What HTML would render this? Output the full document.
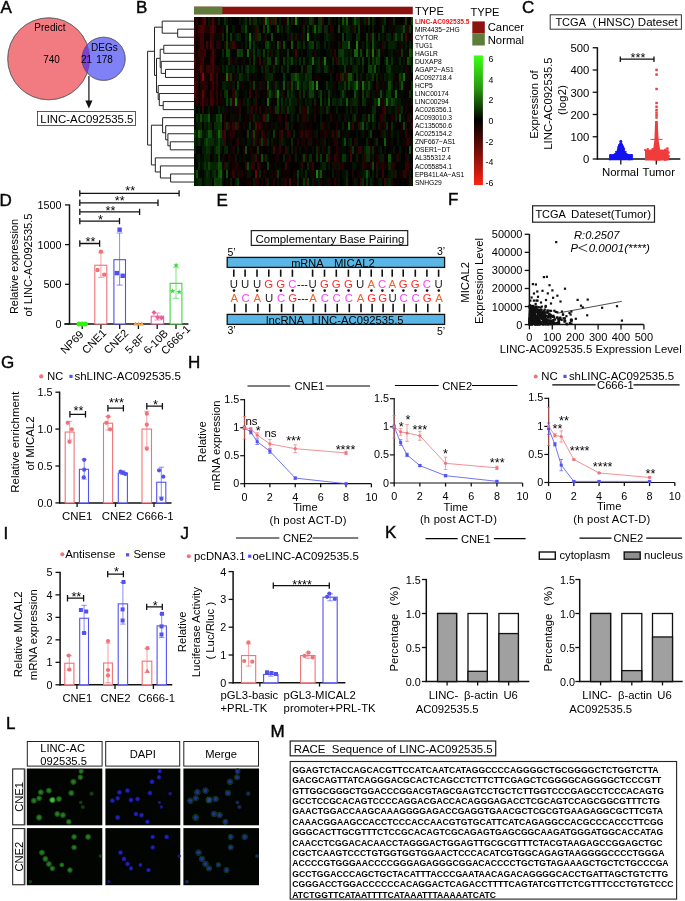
<!DOCTYPE html><html><head><meta charset="utf-8"><style>html,body{margin:0;padding:0;background:#fff;width:685px;height:901px;overflow:hidden}
svg{display:block;font-family:"Liberation Sans",sans-serif;will-change:transform}
</style></head><body><svg width="685" height="901" viewBox="0 0 685 901"><rect width="685" height="901" fill="#fff"/><text x="0.50" y="12.90" font-size="17" stroke="#111" stroke-width="0.45">A</text><text x="136.00" y="12.60" font-size="17" stroke="#111" stroke-width="0.45">B</text><text x="522.00" y="13.40" font-size="17" stroke="#111" stroke-width="0.45">C</text><text x="-0.40" y="205.50" font-size="17" stroke="#111" stroke-width="0.45">D</text><text x="216.50" y="206.00" font-size="17" stroke="#111" stroke-width="0.45">E</text><text x="448.00" y="204.70" font-size="17" stroke="#111" stroke-width="0.45">F</text><text x="1.00" y="368.30" font-size="17" stroke="#111" stroke-width="0.45">G</text><text x="187.90" y="368.30" font-size="17" stroke="#111" stroke-width="0.45">H</text><text x="3.50" y="539.20" font-size="17" stroke="#111" stroke-width="0.45">I</text><text x="180.50" y="538.90" font-size="17" stroke="#111" stroke-width="0.45">J</text><text x="385.00" y="538.00" font-size="17" stroke="#111" stroke-width="0.45">K</text><text x="6.00" y="729.00" font-size="17" stroke="#111" stroke-width="0.45">L</text><text x="270.50" y="737.40" font-size="17" stroke="#111" stroke-width="0.45">M</text><defs><clipPath id="cpR"><circle cx="48.7" cy="58.8" r="41"/></clipPath></defs><circle cx="48.70" cy="58.80" r="41.00" fill="#F17B80" stroke="#555" stroke-width="0.6"/><circle cx="103.60" cy="58.80" r="21.60" fill="#8080F7" stroke="#555" stroke-width="0.6"/><circle cx="103.6" cy="58.8" r="21.6" fill="#7E3FD6" clip-path="url(#cpR)"/><circle cx="48.7" cy="58.8" r="41" fill="none" stroke="#555" stroke-width="0.6"/><circle cx="103.6" cy="58.8" r="21.6" fill="none" stroke="#555" stroke-width="0.6"/><text x="49.90" y="27.10" font-size="10" text-anchor="middle" dominant-baseline="central">Predict</text><text x="51.60" y="59.30" font-size="10" text-anchor="middle" dominant-baseline="central">740</text><text x="86.60" y="59.30" font-size="10" text-anchor="middle" dominant-baseline="central">21</text><text x="104.60" y="59.30" font-size="10" text-anchor="middle" dominant-baseline="central">178</text><text x="104.40" y="47.20" font-size="10" text-anchor="middle" dominant-baseline="central">DEGs</text><line x1="88.90" y1="76.00" x2="88.90" y2="102.00" stroke="#333" stroke-width="1.4"/><path d="M85.3,100.6 L92.5,100.6 L88.9,108.6 Z" fill="#111" stroke="none" stroke-width="0"/><rect x="37.40" y="111.50" width="98.10" height="14.10" fill="#fff" stroke="#333" stroke-width="0.8"/><text x="86.90" y="118.70" font-size="11.4" text-anchor="middle" dominant-baseline="central">LINC-AC092535.5</text><rect x="194.00" y="6.70" width="218.80" height="7.60" fill="#8C1210"/><rect x="194.00" y="6.70" width="28.36" height="7.60" fill="#5E7D3B"/><rect x="194.00" y="17.10" width="218.80" height="168.94" fill="#000"/><g class="hm" shape-rendering="crispEdges"><g transform="translate(0 17.10)"><rect x="194.00" width="2.33" height="8.3" fill="#160101"/><rect x="196.03" width="2.33" height="8.3" fill="#2a0303"/><rect x="198.05" width="2.33" height="8.3" fill="#0e0001"/><rect x="200.08" width="2.33" height="8.3" fill="#1b0102"/><rect x="202.10" width="2.33" height="8.3" fill="#370404"/><rect x="204.13" width="2.33" height="8.3" fill="#4b0606"/><rect x="206.16" width="2.33" height="8.3" fill="#080000"/><rect x="208.18" width="2.33" height="8.3" fill="#031702"/><rect x="210.21" width="2.33" height="8.3" fill="#200202"/><rect x="212.23" width="2.33" height="8.3" fill="#450505"/><rect x="214.26" width="2.33" height="8.3" fill="#1a0102"/><rect x="216.29" width="2.33" height="8.3" fill="#130101"/><rect x="218.31" width="2.33" height="8.3" fill="#052003"/><rect x="220.34" width="2.33" height="8.3" fill="#040000"/><rect x="222.36" width="2.33" height="8.3" fill="#010900"/><rect x="224.39" width="2.33" height="8.3" fill="#072c04"/><rect x="226.41" width="2.33" height="8.3" fill="#041b02"/><rect x="228.44" width="2.33" height="8.3" fill="#070000"/><rect x="230.47" width="2.33" height="8.3" fill="#010c01"/><rect x="232.49" width="2.33" height="8.3" fill="#000000"/><rect x="234.52" width="2.33" height="8.3" fill="#040000"/><rect x="236.54" width="2.33" height="8.3" fill="#020000"/><rect x="238.57" width="2.33" height="8.3" fill="#031602"/><rect x="240.60" width="2.33" height="8.3" fill="#010800"/><rect x="242.62" width="2.33" height="8.3" fill="#031602"/><rect x="244.65" width="2.33" height="8.3" fill="#062803"/><rect x="246.67" width="2.33" height="8.3" fill="#090000"/><rect x="248.70" width="2.33" height="8.3" fill="#093504"/><rect x="250.73" width="2.33" height="8.3" fill="#1e0202"/><rect x="252.75" width="2.33" height="8.3" fill="#072a03"/><rect x="254.78" width="2.33" height="8.3" fill="#072b04"/><rect x="256.80" width="2.33" height="8.3" fill="#010b01"/><rect x="258.83" width="2.33" height="8.3" fill="#031602"/><rect x="260.86" width="2.33" height="8.3" fill="#010c01"/><rect x="262.88" width="2.33" height="8.3" fill="#2e0303"/><rect x="264.91" width="2.33" height="8.3" fill="#156d09"/><rect x="266.93" width="2.33" height="8.3" fill="#093504"/><rect x="268.96" width="2.33" height="8.3" fill="#310304"/><rect x="270.99" width="2.33" height="8.3" fill="#052303"/><rect x="273.01" width="2.33" height="8.3" fill="#470605"/><rect x="275.04" width="2.33" height="8.3" fill="#082e04"/><rect x="277.06" width="2.33" height="8.3" fill="#0b0001"/><rect x="279.09" width="2.33" height="8.3" fill="#041c02"/><rect x="281.11" width="2.33" height="8.3" fill="#0a0000"/><rect x="283.14" width="2.33" height="8.3" fill="#140101"/><rect x="285.17" width="2.33" height="8.3" fill="#170102"/><rect x="287.19" width="2.33" height="8.3" fill="#0d4806"/><rect x="289.22" width="2.33" height="8.3" fill="#040000"/><rect x="291.24" width="2.33" height="8.3" fill="#052003"/><rect x="293.27" width="2.33" height="8.3" fill="#210202"/><rect x="295.30" width="2.33" height="8.3" fill="#18780a"/><rect x="297.32" width="2.33" height="8.3" fill="#041d02"/><rect x="299.35" width="2.33" height="8.3" fill="#000300"/><rect x="301.37" width="2.33" height="8.3" fill="#000100"/><rect x="303.40" width="2.33" height="8.3" fill="#140101"/><rect x="305.43" width="2.33" height="8.3" fill="#031602"/><rect x="307.45" width="2.33" height="8.3" fill="#010d01"/><rect x="309.48" width="2.33" height="8.3" fill="#093704"/><rect x="311.50" width="2.33" height="8.3" fill="#072903"/><rect x="313.53" width="2.33" height="8.3" fill="#180102"/><rect x="315.56" width="2.33" height="8.3" fill="#000200"/><rect x="317.58" width="2.33" height="8.3" fill="#083104"/><rect x="319.61" width="2.33" height="8.3" fill="#093504"/><rect x="321.63" width="2.33" height="8.3" fill="#350404"/><rect x="323.66" width="2.33" height="8.3" fill="#010000"/><rect x="325.69" width="2.33" height="8.3" fill="#000400"/><rect x="327.71" width="2.33" height="8.3" fill="#062603"/><rect x="329.74" width="2.33" height="8.3" fill="#1f0202"/><rect x="331.76" width="2.33" height="8.3" fill="#000700"/><rect x="333.79" width="2.33" height="8.3" fill="#010e01"/><rect x="335.81" width="2.33" height="8.3" fill="#000000"/><rect x="337.84" width="2.33" height="8.3" fill="#041b02"/><rect x="339.87" width="2.33" height="8.3" fill="#010000"/><rect x="341.89" width="2.33" height="8.3" fill="#0f4f06"/><rect x="343.92" width="2.33" height="8.3" fill="#041b02"/><rect x="345.94" width="2.33" height="8.3" fill="#105607"/><rect x="347.97" width="2.33" height="8.3" fill="#010a01"/><rect x="350.00" width="2.33" height="8.3" fill="#0c0001"/><rect x="352.02" width="2.33" height="8.3" fill="#031702"/><rect x="354.05" width="2.33" height="8.3" fill="#0f5007"/><rect x="356.07" width="2.33" height="8.3" fill="#072b04"/><rect x="358.10" width="2.33" height="8.3" fill="#072a03"/><rect x="360.13" width="2.33" height="8.3" fill="#140101"/><rect x="362.15" width="2.33" height="8.3" fill="#020f01"/><rect x="364.18" width="2.33" height="8.3" fill="#052203"/><rect x="366.20" width="2.33" height="8.3" fill="#270203"/><rect x="368.23" width="2.33" height="8.3" fill="#0b3e05"/><rect x="370.26" width="2.33" height="8.3" fill="#040000"/><rect x="372.28" width="2.33" height="8.3" fill="#062803"/><rect x="374.31" width="2.33" height="8.3" fill="#021101"/><rect x="376.33" width="2.33" height="8.3" fill="#000100"/><rect x="378.36" width="2.33" height="8.3" fill="#090000"/><rect x="380.39" width="2.33" height="8.3" fill="#190102"/><rect x="382.41" width="2.33" height="8.3" fill="#031602"/><rect x="384.44" width="2.33" height="8.3" fill="#072c04"/><rect x="386.46" width="2.33" height="8.3" fill="#020000"/><rect x="388.49" width="2.33" height="8.3" fill="#0e0001"/><rect x="390.51" width="2.33" height="8.3" fill="#140101"/><rect x="392.54" width="2.33" height="8.3" fill="#072a03"/><rect x="394.57" width="2.33" height="8.3" fill="#020000"/><rect x="396.59" width="2.33" height="8.3" fill="#0c0001"/><rect x="398.62" width="2.33" height="8.3" fill="#000500"/><rect x="400.64" width="2.33" height="8.3" fill="#000000"/><rect x="402.67" width="2.33" height="8.3" fill="#1b0102"/><rect x="404.70" width="2.33" height="8.3" fill="#093504"/><rect x="406.72" width="2.33" height="8.3" fill="#0c0001"/><rect x="408.75" width="2.33" height="8.3" fill="#0b0001"/><rect x="410.77" width="2.33" height="8.3" fill="#0c4506"/></g><g transform="translate(0 25.14)"><rect x="194.00" width="2.33" height="8.3" fill="#2d0303"/><rect x="196.03" width="2.33" height="8.3" fill="#1b0102"/><rect x="198.05" width="2.33" height="8.3" fill="#380404"/><rect x="200.08" width="2.33" height="8.3" fill="#3d0505"/><rect x="202.10" width="2.33" height="8.3" fill="#450505"/><rect x="204.13" width="2.33" height="8.3" fill="#2b0303"/><rect x="206.16" width="2.33" height="8.3" fill="#200202"/><rect x="208.18" width="2.33" height="8.3" fill="#1f0202"/><rect x="210.21" width="2.33" height="8.3" fill="#3b0405"/><rect x="212.23" width="2.33" height="8.3" fill="#4b0606"/><rect x="214.26" width="2.33" height="8.3" fill="#2f0304"/><rect x="216.29" width="2.33" height="8.3" fill="#080000"/><rect x="218.31" width="2.33" height="8.3" fill="#0b0001"/><rect x="220.34" width="2.33" height="8.3" fill="#130101"/><rect x="222.36" width="2.33" height="8.3" fill="#210202"/><rect x="224.39" width="2.33" height="8.3" fill="#000200"/><rect x="226.41" width="2.33" height="8.3" fill="#0f5006"/><rect x="228.44" width="2.33" height="8.3" fill="#030000"/><rect x="230.47" width="2.33" height="8.3" fill="#000400"/><rect x="232.49" width="2.33" height="8.3" fill="#031702"/><rect x="234.52" width="2.33" height="8.3" fill="#070000"/><rect x="236.54" width="2.33" height="8.3" fill="#0a0000"/><rect x="238.57" width="2.33" height="8.3" fill="#030000"/><rect x="240.60" width="2.33" height="8.3" fill="#052003"/><rect x="242.62" width="2.33" height="8.3" fill="#041a02"/><rect x="244.65" width="2.33" height="8.3" fill="#0d4706"/><rect x="246.67" width="2.33" height="8.3" fill="#010a01"/><rect x="248.70" width="2.33" height="8.3" fill="#000500"/><rect x="250.73" width="2.33" height="8.3" fill="#140101"/><rect x="252.75" width="2.33" height="8.3" fill="#020f01"/><rect x="254.78" width="2.33" height="8.3" fill="#320404"/><rect x="256.80" width="2.33" height="8.3" fill="#052203"/><rect x="258.83" width="2.33" height="8.3" fill="#0e0001"/><rect x="260.86" width="2.33" height="8.3" fill="#000100"/><rect x="262.88" width="2.33" height="8.3" fill="#0a3805"/><rect x="264.91" width="2.33" height="8.3" fill="#010000"/><rect x="266.93" width="2.33" height="8.3" fill="#0f5207"/><rect x="268.96" width="2.33" height="8.3" fill="#041c02"/><rect x="270.99" width="2.33" height="8.3" fill="#000000"/><rect x="273.01" width="2.33" height="8.3" fill="#040000"/><rect x="275.04" width="2.33" height="8.3" fill="#021101"/><rect x="277.06" width="2.33" height="8.3" fill="#0d4706"/><rect x="279.09" width="2.33" height="8.3" fill="#010e01"/><rect x="281.11" width="2.33" height="8.3" fill="#052003"/><rect x="283.14" width="2.33" height="8.3" fill="#090000"/><rect x="285.17" width="2.33" height="8.3" fill="#031602"/><rect x="287.19" width="2.33" height="8.3" fill="#062803"/><rect x="289.22" width="2.33" height="8.3" fill="#021201"/><rect x="291.24" width="2.33" height="8.3" fill="#010901"/><rect x="293.27" width="2.33" height="8.3" fill="#010000"/><rect x="295.30" width="2.33" height="8.3" fill="#000500"/><rect x="297.32" width="2.33" height="8.3" fill="#000600"/><rect x="299.35" width="2.33" height="8.3" fill="#000300"/><rect x="301.37" width="2.33" height="8.3" fill="#160101"/><rect x="303.40" width="2.33" height="8.3" fill="#052403"/><rect x="305.43" width="2.33" height="8.3" fill="#050000"/><rect x="307.45" width="2.33" height="8.3" fill="#082f04"/><rect x="309.48" width="2.33" height="8.3" fill="#000600"/><rect x="311.50" width="2.33" height="8.3" fill="#041d02"/><rect x="313.53" width="2.33" height="8.3" fill="#125e08"/><rect x="315.56" width="2.33" height="8.3" fill="#031702"/><rect x="317.58" width="2.33" height="8.3" fill="#0a3c05"/><rect x="319.61" width="2.33" height="8.3" fill="#083004"/><rect x="321.63" width="2.33" height="8.3" fill="#120101"/><rect x="323.66" width="2.33" height="8.3" fill="#072903"/><rect x="325.69" width="2.33" height="8.3" fill="#062703"/><rect x="327.71" width="2.33" height="8.3" fill="#080000"/><rect x="329.74" width="2.33" height="8.3" fill="#270203"/><rect x="331.76" width="2.33" height="8.3" fill="#1e0202"/><rect x="333.79" width="4.35" height="8.3" fill="#000000"/><rect x="337.84" width="2.33" height="8.3" fill="#0d4706"/><rect x="339.87" width="2.33" height="8.3" fill="#090000"/><rect x="341.89" width="2.33" height="8.3" fill="#031502"/><rect x="343.92" width="2.33" height="8.3" fill="#041e02"/><rect x="345.94" width="2.33" height="8.3" fill="#072903"/><rect x="347.97" width="2.33" height="8.3" fill="#051f02"/><rect x="350.00" width="2.33" height="8.3" fill="#020e01"/><rect x="352.02" width="2.33" height="8.3" fill="#1e0202"/><rect x="354.05" width="2.33" height="8.3" fill="#051f02"/><rect x="356.07" width="2.33" height="8.3" fill="#010800"/><rect x="358.10" width="2.33" height="8.3" fill="#0a3b05"/><rect x="360.13" width="2.33" height="8.3" fill="#0e0001"/><rect x="362.15" width="2.33" height="8.3" fill="#070000"/><rect x="364.18" width="2.33" height="8.3" fill="#010b01"/><rect x="366.20" width="2.33" height="8.3" fill="#000000"/><rect x="368.23" width="2.33" height="8.3" fill="#021101"/><rect x="370.26" width="2.33" height="8.3" fill="#050000"/><rect x="372.28" width="2.33" height="8.3" fill="#041e02"/><rect x="374.31" width="4.35" height="8.3" fill="#0b0001"/><rect x="378.36" width="2.33" height="8.3" fill="#000300"/><rect x="380.39" width="2.33" height="8.3" fill="#010800"/><rect x="382.41" width="2.33" height="8.3" fill="#093604"/><rect x="384.44" width="2.33" height="8.3" fill="#021101"/><rect x="386.46" width="2.33" height="8.3" fill="#070000"/><rect x="388.49" width="2.33" height="8.3" fill="#010a01"/><rect x="390.51" width="2.33" height="8.3" fill="#140101"/><rect x="392.54" width="2.33" height="8.3" fill="#010800"/><rect x="394.57" width="2.33" height="8.3" fill="#021301"/><rect x="396.59" width="4.35" height="8.3" fill="#031602"/><rect x="400.64" width="2.33" height="8.3" fill="#052003"/><rect x="402.67" width="2.33" height="8.3" fill="#0d4606"/><rect x="404.70" width="2.33" height="8.3" fill="#220203"/><rect x="406.72" width="2.33" height="8.3" fill="#1f0202"/><rect x="408.75" width="2.33" height="8.3" fill="#093304"/><rect x="410.77" width="2.33" height="8.3" fill="#021001"/></g><g transform="translate(0 33.19)"><rect x="194.00" width="2.33" height="8.3" fill="#2e0303"/><rect x="196.03" width="2.33" height="8.3" fill="#190102"/><rect x="198.05" width="2.33" height="8.3" fill="#240203"/><rect x="200.08" width="2.33" height="8.3" fill="#3b0404"/><rect x="202.10" width="2.33" height="8.3" fill="#350404"/><rect x="204.13" width="2.33" height="8.3" fill="#0d0001"/><rect x="206.16" width="2.33" height="8.3" fill="#0c0001"/><rect x="208.18" width="2.33" height="8.3" fill="#090000"/><rect x="210.21" width="2.33" height="8.3" fill="#380404"/><rect x="212.23" width="2.33" height="8.3" fill="#2d0303"/><rect x="214.26" width="2.33" height="8.3" fill="#130101"/><rect x="216.29" width="2.33" height="8.3" fill="#010b01"/><rect x="218.31" width="2.33" height="8.3" fill="#1a0102"/><rect x="220.34" width="2.33" height="8.3" fill="#150101"/><rect x="222.36" width="2.33" height="8.3" fill="#062903"/><rect x="224.39" width="2.33" height="8.3" fill="#000000"/><rect x="226.41" width="2.33" height="8.3" fill="#093404"/><rect x="228.44" width="2.33" height="8.3" fill="#020000"/><rect x="230.47" width="2.33" height="8.3" fill="#0a3805"/><rect x="232.49" width="2.33" height="8.3" fill="#010900"/><rect x="234.52" width="2.33" height="8.3" fill="#031902"/><rect x="236.54" width="2.33" height="8.3" fill="#062603"/><rect x="238.57" width="2.33" height="8.3" fill="#041d02"/><rect x="240.60" width="4.35" height="8.3" fill="#000000"/><rect x="244.65" width="2.33" height="8.3" fill="#052303"/><rect x="246.67" width="2.33" height="8.3" fill="#021001"/><rect x="248.70" width="2.33" height="8.3" fill="#187509"/><rect x="250.73" width="2.33" height="8.3" fill="#0f0001"/><rect x="252.75" width="2.33" height="8.3" fill="#041b02"/><rect x="254.78" width="2.33" height="8.3" fill="#380404"/><rect x="256.80" width="2.33" height="8.3" fill="#072a03"/><rect x="258.83" width="2.33" height="8.3" fill="#083304"/><rect x="260.86" width="2.33" height="8.3" fill="#000500"/><rect x="262.88" width="2.33" height="8.3" fill="#1c0102"/><rect x="264.91" width="2.33" height="8.3" fill="#031902"/><rect x="266.93" width="2.33" height="8.3" fill="#000000"/><rect x="268.96" width="2.33" height="8.3" fill="#000100"/><rect x="270.99" width="2.33" height="8.3" fill="#0d4806"/><rect x="273.01" width="2.33" height="8.3" fill="#0e0001"/><rect x="275.04" width="2.33" height="8.3" fill="#0d0001"/><rect x="277.06" width="2.33" height="8.3" fill="#000000"/><rect x="279.09" width="2.33" height="8.3" fill="#030000"/><rect x="281.11" width="2.33" height="8.3" fill="#010c01"/><rect x="283.14" width="2.33" height="8.3" fill="#060000"/><rect x="285.17" width="2.33" height="8.3" fill="#000100"/><rect x="287.19" width="2.33" height="8.3" fill="#031702"/><rect x="289.22" width="2.33" height="8.3" fill="#210202"/><rect x="291.24" width="2.33" height="8.3" fill="#052303"/><rect x="293.27" width="2.33" height="8.3" fill="#0f0001"/><rect x="295.30" width="2.33" height="8.3" fill="#041b02"/><rect x="297.32" width="2.33" height="8.3" fill="#180102"/><rect x="299.35" width="2.33" height="8.3" fill="#010a01"/><rect x="301.37" width="2.33" height="8.3" fill="#1d0202"/><rect x="303.40" width="2.33" height="8.3" fill="#031802"/><rect x="305.43" width="2.33" height="8.3" fill="#070000"/><rect x="307.45" width="2.33" height="8.3" fill="#1e8f0b"/><rect x="309.48" width="2.33" height="8.3" fill="#060000"/><rect x="311.50" width="2.33" height="8.3" fill="#010800"/><rect x="313.53" width="2.33" height="8.3" fill="#031802"/><rect x="315.56" width="2.33" height="8.3" fill="#010b01"/><rect x="317.58" width="2.33" height="8.3" fill="#010d01"/><rect x="319.61" width="2.33" height="8.3" fill="#000000"/><rect x="321.63" width="2.33" height="8.3" fill="#050000"/><rect x="323.66" width="2.33" height="8.3" fill="#031702"/><rect x="325.69" width="2.33" height="8.3" fill="#062803"/><rect x="327.71" width="2.33" height="8.3" fill="#031902"/><rect x="329.74" width="2.33" height="8.3" fill="#021201"/><rect x="331.76" width="2.33" height="8.3" fill="#010e01"/><rect x="333.79" width="2.33" height="8.3" fill="#0f0001"/><rect x="335.81" width="2.33" height="8.3" fill="#000400"/><rect x="337.84" width="2.33" height="8.3" fill="#120101"/><rect x="339.87" width="2.33" height="8.3" fill="#000300"/><rect x="341.89" width="2.33" height="8.3" fill="#0b3f05"/><rect x="343.92" width="2.33" height="8.3" fill="#000200"/><rect x="345.94" width="2.33" height="8.3" fill="#052403"/><rect x="347.97" width="2.33" height="8.3" fill="#041e02"/><rect x="350.00" width="2.33" height="8.3" fill="#031802"/><rect x="352.02" width="2.33" height="8.3" fill="#000400"/><rect x="354.05" width="2.33" height="8.3" fill="#000100"/><rect x="356.07" width="2.33" height="8.3" fill="#072d04"/><rect x="358.10" width="2.33" height="8.3" fill="#072a03"/><rect x="360.13" width="2.33" height="8.3" fill="#050000"/><rect x="362.15" width="2.33" height="8.3" fill="#000000"/><rect x="364.18" width="2.33" height="8.3" fill="#0b0001"/><rect x="366.20" width="2.33" height="8.3" fill="#0a3a05"/><rect x="368.23" width="2.33" height="8.3" fill="#010d01"/><rect x="370.26" width="2.33" height="8.3" fill="#280303"/><rect x="372.28" width="2.33" height="8.3" fill="#0d4806"/><rect x="374.31" width="2.33" height="8.3" fill="#031502"/><rect x="376.33" width="2.33" height="8.3" fill="#000200"/><rect x="378.36" width="2.33" height="8.3" fill="#072d04"/><rect x="380.39" width="2.33" height="8.3" fill="#010b01"/><rect x="382.41" width="2.33" height="8.3" fill="#031402"/><rect x="384.44" width="2.33" height="8.3" fill="#0a0000"/><rect x="386.46" width="2.33" height="8.3" fill="#041e02"/><rect x="388.49" width="2.33" height="8.3" fill="#052303"/><rect x="390.51" width="2.33" height="8.3" fill="#090000"/><rect x="392.54" width="2.33" height="8.3" fill="#041d02"/><rect x="394.57" width="2.33" height="8.3" fill="#0d4706"/><rect x="396.59" width="2.33" height="8.3" fill="#041c02"/><rect x="398.62" width="2.33" height="8.3" fill="#031902"/><rect x="400.64" width="2.33" height="8.3" fill="#0b4105"/><rect x="402.67" width="2.33" height="8.3" fill="#000000"/><rect x="404.70" width="2.33" height="8.3" fill="#3f0505"/><rect x="406.72" width="2.33" height="8.3" fill="#0f0001"/><rect x="408.75" width="2.33" height="8.3" fill="#010800"/><rect x="410.77" width="2.33" height="8.3" fill="#260203"/></g><g transform="translate(0 41.23)"><rect x="194.00" width="2.33" height="8.3" fill="#280303"/><rect x="196.03" width="2.33" height="8.3" fill="#090000"/><rect x="198.05" width="2.33" height="8.3" fill="#1e0202"/><rect x="200.08" width="2.33" height="8.3" fill="#3a0404"/><rect x="202.10" width="2.33" height="8.3" fill="#360404"/><rect x="204.13" width="2.33" height="8.3" fill="#090000"/><rect x="206.16" width="2.33" height="8.3" fill="#3e0505"/><rect x="208.18" width="2.33" height="8.3" fill="#190102"/><rect x="210.21" width="2.33" height="8.3" fill="#480606"/><rect x="212.23" width="2.33" height="8.3" fill="#310304"/><rect x="214.26" width="2.33" height="8.3" fill="#010000"/><rect x="216.29" width="4.35" height="8.3" fill="#240203"/><rect x="220.34" width="2.33" height="8.3" fill="#160101"/><rect x="222.36" width="2.33" height="8.3" fill="#000100"/><rect x="224.39" width="2.33" height="8.3" fill="#220202"/><rect x="226.41" width="2.33" height="8.3" fill="#0c4406"/><rect x="228.44" width="2.33" height="8.3" fill="#1c0102"/><rect x="230.47" width="2.33" height="8.3" fill="#031802"/><rect x="232.49" width="2.33" height="8.3" fill="#380404"/><rect x="234.52" width="2.33" height="8.3" fill="#1c0202"/><rect x="236.54" width="2.33" height="8.3" fill="#000500"/><rect x="238.57" width="2.33" height="8.3" fill="#060000"/><rect x="240.60" width="2.33" height="8.3" fill="#020f01"/><rect x="242.62" width="2.33" height="8.3" fill="#000300"/><rect x="244.65" width="2.33" height="8.3" fill="#041e02"/><rect x="246.67" width="2.33" height="8.3" fill="#000700"/><rect x="248.70" width="2.33" height="8.3" fill="#105307"/><rect x="250.73" width="2.33" height="8.3" fill="#010a01"/><rect x="252.75" width="2.33" height="8.3" fill="#072d04"/><rect x="254.78" width="2.33" height="8.3" fill="#020e01"/><rect x="256.80" width="2.33" height="8.3" fill="#021101"/><rect x="258.83" width="2.33" height="8.3" fill="#000000"/><rect x="260.86" width="2.33" height="8.3" fill="#010c01"/><rect x="262.88" width="2.33" height="8.3" fill="#000200"/><rect x="264.91" width="2.33" height="8.3" fill="#093704"/><rect x="266.93" width="2.33" height="8.3" fill="#0c4506"/><rect x="268.96" width="2.33" height="8.3" fill="#041b02"/><rect x="270.99" width="2.33" height="8.3" fill="#010901"/><rect x="273.01" width="2.33" height="8.3" fill="#021301"/><rect x="275.04" width="2.33" height="8.3" fill="#000200"/><rect x="277.06" width="2.33" height="8.3" fill="#0e4d06"/><rect x="279.09" width="2.33" height="8.3" fill="#370404"/><rect x="281.11" width="2.33" height="8.3" fill="#020000"/><rect x="283.14" width="2.33" height="8.3" fill="#0d4a06"/><rect x="285.17" width="2.33" height="8.3" fill="#010d01"/><rect x="287.19" width="2.33" height="8.3" fill="#0b0001"/><rect x="289.22" width="2.33" height="8.3" fill="#060000"/><rect x="291.24" width="2.33" height="8.3" fill="#105707"/><rect x="293.27" width="2.33" height="8.3" fill="#0c0001"/><rect x="295.30" width="2.33" height="8.3" fill="#0a0000"/><rect x="297.32" width="2.33" height="8.3" fill="#072b04"/><rect x="299.35" width="2.33" height="8.3" fill="#051f03"/><rect x="301.37" width="2.33" height="8.3" fill="#010c01"/><rect x="303.40" width="2.33" height="8.3" fill="#082e04"/><rect x="305.43" width="2.33" height="8.3" fill="#0d0001"/><rect x="307.45" width="2.33" height="8.3" fill="#031802"/><rect x="309.48" width="2.33" height="8.3" fill="#093304"/><rect x="311.50" width="2.33" height="8.3" fill="#0b3d05"/><rect x="313.53" width="2.33" height="8.3" fill="#000000"/><rect x="315.56" width="2.33" height="8.3" fill="#062703"/><rect x="317.58" width="2.33" height="8.3" fill="#041a02"/><rect x="319.61" width="2.33" height="8.3" fill="#000500"/><rect x="321.63" width="2.33" height="8.3" fill="#000700"/><rect x="323.66" width="2.33" height="8.3" fill="#051f02"/><rect x="325.69" width="2.33" height="8.3" fill="#000000"/><rect x="327.71" width="2.33" height="8.3" fill="#031702"/><rect x="329.74" width="2.33" height="8.3" fill="#000700"/><rect x="331.76" width="2.33" height="8.3" fill="#100101"/><rect x="333.79" width="2.33" height="8.3" fill="#060000"/><rect x="335.81" width="2.33" height="8.3" fill="#0c0001"/><rect x="337.84" width="2.33" height="8.3" fill="#031802"/><rect x="339.87" width="2.33" height="8.3" fill="#140101"/><rect x="341.89" width="2.33" height="8.3" fill="#062803"/><rect x="343.92" width="2.33" height="8.3" fill="#072d04"/><rect x="345.94" width="2.33" height="8.3" fill="#072903"/><rect x="347.97" width="2.33" height="8.3" fill="#146508"/><rect x="350.00" width="2.33" height="8.3" fill="#0b0001"/><rect x="352.02" width="2.33" height="8.3" fill="#000700"/><rect x="354.05" width="2.33" height="8.3" fill="#000300"/><rect x="356.07" width="2.33" height="8.3" fill="#1a7e0a"/><rect x="358.10" width="2.33" height="8.3" fill="#010901"/><rect x="360.13" width="2.33" height="8.3" fill="#0f0001"/><rect x="362.15" width="2.33" height="8.3" fill="#031702"/><rect x="364.18" width="2.33" height="8.3" fill="#000600"/><rect x="366.20" width="2.33" height="8.3" fill="#082f04"/><rect x="368.23" width="2.33" height="8.3" fill="#031502"/><rect x="370.26" width="2.33" height="8.3" fill="#010901"/><rect x="372.28" width="2.33" height="8.3" fill="#0f5107"/><rect x="374.31" width="2.33" height="8.3" fill="#031802"/><rect x="376.33" width="2.33" height="8.3" fill="#021101"/><rect x="378.36" width="2.33" height="8.3" fill="#010a01"/><rect x="380.39" width="2.33" height="8.3" fill="#040000"/><rect x="382.41" width="2.33" height="8.3" fill="#280303"/><rect x="384.44" width="2.33" height="8.3" fill="#031902"/><rect x="386.46" width="2.33" height="8.3" fill="#0c0001"/><rect x="388.49" width="2.33" height="8.3" fill="#052103"/><rect x="390.51" width="2.33" height="8.3" fill="#041f02"/><rect x="392.54" width="2.33" height="8.3" fill="#052203"/><rect x="394.57" width="2.33" height="8.3" fill="#021001"/><rect x="396.59" width="2.33" height="8.3" fill="#000300"/><rect x="398.62" width="2.33" height="8.3" fill="#190102"/><rect x="400.64" width="2.33" height="8.3" fill="#031502"/><rect x="402.67" width="2.33" height="8.3" fill="#000700"/><rect x="404.70" width="2.33" height="8.3" fill="#041c02"/><rect x="406.72" width="2.33" height="8.3" fill="#070000"/><rect x="408.75" width="2.33" height="8.3" fill="#052403"/><rect x="410.77" width="2.33" height="8.3" fill="#021301"/></g><g transform="translate(0 49.28)"><rect x="194.00" width="2.33" height="8.3" fill="#280303"/><rect x="196.03" width="2.33" height="8.3" fill="#110101"/><rect x="198.05" width="2.33" height="8.3" fill="#320404"/><rect x="200.08" width="4.35" height="8.3" fill="#2d0303"/><rect x="204.13" width="2.33" height="8.3" fill="#3a0404"/><rect x="206.16" width="2.33" height="8.3" fill="#0a0000"/><rect x="208.18" width="2.33" height="8.3" fill="#000500"/><rect x="210.21" width="2.33" height="8.3" fill="#230203"/><rect x="212.23" width="2.33" height="8.3" fill="#450605"/><rect x="214.26" width="2.33" height="8.3" fill="#240203"/><rect x="216.29" width="2.33" height="8.3" fill="#0a0000"/><rect x="218.31" width="2.33" height="8.3" fill="#000400"/><rect x="220.34" width="2.33" height="8.3" fill="#000100"/><rect x="222.36" width="2.33" height="8.3" fill="#062703"/><rect x="224.39" width="2.33" height="8.3" fill="#000300"/><rect x="226.41" width="2.33" height="8.3" fill="#0d4706"/><rect x="228.44" width="2.33" height="8.3" fill="#0c4205"/><rect x="230.47" width="2.33" height="8.3" fill="#020e01"/><rect x="232.49" width="2.33" height="8.3" fill="#000300"/><rect x="234.52" width="2.33" height="8.3" fill="#100001"/><rect x="236.54" width="2.33" height="8.3" fill="#0c4205"/><rect x="238.57" width="2.33" height="8.3" fill="#093705"/><rect x="240.60" width="2.33" height="8.3" fill="#0a3b05"/><rect x="242.62" width="2.33" height="8.3" fill="#110101"/><rect x="244.65" width="2.33" height="8.3" fill="#010a01"/><rect x="246.67" width="2.33" height="8.3" fill="#136408"/><rect x="248.70" width="2.33" height="8.3" fill="#1e0202"/><rect x="250.73" width="2.33" height="8.3" fill="#021101"/><rect x="252.75" width="2.33" height="8.3" fill="#093704"/><rect x="254.78" width="2.33" height="8.3" fill="#070000"/><rect x="256.80" width="2.33" height="8.3" fill="#062903"/><rect x="258.83" width="2.33" height="8.3" fill="#052103"/><rect x="260.86" width="2.33" height="8.3" fill="#000600"/><rect x="262.88" width="2.33" height="8.3" fill="#0b3d05"/><rect x="264.91" width="2.33" height="8.3" fill="#000700"/><rect x="266.93" width="2.33" height="8.3" fill="#062603"/><rect x="268.96" width="2.33" height="8.3" fill="#1b0102"/><rect x="270.99" width="2.33" height="8.3" fill="#031702"/><rect x="273.01" width="2.33" height="8.3" fill="#0c0001"/><rect x="275.04" width="2.33" height="8.3" fill="#031402"/><rect x="277.06" width="2.33" height="8.3" fill="#062703"/><rect x="279.09" width="2.33" height="8.3" fill="#0a0000"/><rect x="281.11" width="2.33" height="8.3" fill="#010c01"/><rect x="283.14" width="2.33" height="8.3" fill="#000600"/><rect x="285.17" width="2.33" height="8.3" fill="#090000"/><rect x="287.19" width="2.33" height="8.3" fill="#093504"/><rect x="289.22" width="2.33" height="8.3" fill="#090000"/><rect x="291.24" width="2.33" height="8.3" fill="#010800"/><rect x="293.27" width="2.33" height="8.3" fill="#180102"/><rect x="295.30" width="2.33" height="8.3" fill="#420505"/><rect x="297.32" width="2.33" height="8.3" fill="#021001"/><rect x="299.35" width="2.33" height="8.3" fill="#000100"/><rect x="301.37" width="2.33" height="8.3" fill="#020f01"/><rect x="303.40" width="2.33" height="8.3" fill="#050000"/><rect x="305.43" width="2.33" height="8.3" fill="#000300"/><rect x="307.45" width="2.33" height="8.3" fill="#031802"/><rect x="309.48" width="2.33" height="8.3" fill="#041a02"/><rect x="311.50" width="2.33" height="8.3" fill="#000700"/><rect x="313.53" width="2.33" height="8.3" fill="#240203"/><rect x="315.56" width="2.33" height="8.3" fill="#010c01"/><rect x="317.58" width="2.33" height="8.3" fill="#010a01"/><rect x="319.61" width="2.33" height="8.3" fill="#000700"/><rect x="321.63" width="2.33" height="8.3" fill="#000400"/><rect x="323.66" width="2.33" height="8.3" fill="#000000"/><rect x="325.69" width="2.33" height="8.3" fill="#010d01"/><rect x="327.71" width="2.33" height="8.3" fill="#010e01"/><rect x="329.74" width="2.33" height="8.3" fill="#031502"/><rect x="331.76" width="2.33" height="8.3" fill="#0c0001"/><rect x="333.79" width="2.33" height="8.3" fill="#2d0303"/><rect x="335.81" width="2.33" height="8.3" fill="#000200"/><rect x="337.84" width="2.33" height="8.3" fill="#082e04"/><rect x="339.87" width="2.33" height="8.3" fill="#0a3905"/><rect x="341.89" width="2.33" height="8.3" fill="#0a3c05"/><rect x="343.92" width="4.35" height="8.3" fill="#031802"/><rect x="347.97" width="2.33" height="8.3" fill="#021001"/><rect x="350.00" width="2.33" height="8.3" fill="#041b02"/><rect x="352.02" width="2.33" height="8.3" fill="#050000"/><rect x="354.05" width="2.33" height="8.3" fill="#136108"/><rect x="356.07" width="2.33" height="8.3" fill="#136008"/><rect x="358.10" width="2.33" height="8.3" fill="#020f01"/><rect x="360.13" width="2.33" height="8.3" fill="#0c4305"/><rect x="362.15" width="2.33" height="8.3" fill="#010901"/><rect x="364.18" width="2.33" height="8.3" fill="#010000"/><rect x="366.20" width="2.33" height="8.3" fill="#105407"/><rect x="368.23" width="2.33" height="8.3" fill="#052303"/><rect x="370.26" width="2.33" height="8.3" fill="#1b0102"/><rect x="372.28" width="2.33" height="8.3" fill="#177409"/><rect x="374.31" width="2.33" height="8.3" fill="#150101"/><rect x="376.33" width="2.33" height="8.3" fill="#051f02"/><rect x="378.36" width="2.33" height="8.3" fill="#0d4906"/><rect x="380.39" width="2.33" height="8.3" fill="#010800"/><rect x="382.41" width="2.33" height="8.3" fill="#180102"/><rect x="384.44" width="2.33" height="8.3" fill="#000500"/><rect x="386.46" width="2.33" height="8.3" fill="#000200"/><rect x="388.49" width="2.33" height="8.3" fill="#020f01"/><rect x="390.51" width="2.33" height="8.3" fill="#031702"/><rect x="392.54" width="2.33" height="8.3" fill="#000600"/><rect x="394.57" width="2.33" height="8.3" fill="#010c01"/><rect x="396.59" width="2.33" height="8.3" fill="#180102"/><rect x="398.62" width="2.33" height="8.3" fill="#100101"/><rect x="400.64" width="2.33" height="8.3" fill="#093504"/><rect x="402.67" width="2.33" height="8.3" fill="#100001"/><rect x="404.70" width="2.33" height="8.3" fill="#021101"/><rect x="406.72" width="2.33" height="8.3" fill="#130101"/><rect x="408.75" width="2.33" height="8.3" fill="#0f4f06"/><rect x="410.77" width="2.33" height="8.3" fill="#0a3a05"/></g><g transform="translate(0 57.33)"><rect x="194.00" width="2.33" height="8.3" fill="#3c0505"/><rect x="196.03" width="2.33" height="8.3" fill="#1d0202"/><rect x="198.05" width="2.33" height="8.3" fill="#1e0202"/><rect x="200.08" width="2.33" height="8.3" fill="#340404"/><rect x="202.10" width="2.33" height="8.3" fill="#380404"/><rect x="204.13" width="2.33" height="8.3" fill="#040000"/><rect x="206.16" width="2.33" height="8.3" fill="#0e0001"/><rect x="208.18" width="2.33" height="8.3" fill="#090000"/><rect x="210.21" width="2.33" height="8.3" fill="#360404"/><rect x="212.23" width="2.33" height="8.3" fill="#460605"/><rect x="214.26" width="2.33" height="8.3" fill="#1b0102"/><rect x="216.29" width="2.33" height="8.3" fill="#050000"/><rect x="218.31" width="2.33" height="8.3" fill="#000200"/><rect x="220.34" width="2.33" height="8.3" fill="#010c01"/><rect x="222.36" width="2.33" height="8.3" fill="#021001"/><rect x="224.39" width="2.33" height="8.3" fill="#000600"/><rect x="226.41" width="2.33" height="8.3" fill="#000500"/><rect x="228.44" width="2.33" height="8.3" fill="#082f04"/><rect x="230.47" width="2.33" height="8.3" fill="#230203"/><rect x="232.49" width="2.33" height="8.3" fill="#100101"/><rect x="234.52" width="2.33" height="8.3" fill="#021201"/><rect x="236.54" width="2.33" height="8.3" fill="#0f0001"/><rect x="238.57" width="2.33" height="8.3" fill="#040000"/><rect x="240.60" width="2.33" height="8.3" fill="#100101"/><rect x="242.62" width="2.33" height="8.3" fill="#021101"/><rect x="244.65" width="2.33" height="8.3" fill="#000600"/><rect x="246.67" width="2.33" height="8.3" fill="#0c0001"/><rect x="248.70" width="2.33" height="8.3" fill="#041e02"/><rect x="250.73" width="2.33" height="8.3" fill="#0a0000"/><rect x="252.75" width="2.33" height="8.3" fill="#093504"/><rect x="254.78" width="2.33" height="8.3" fill="#0f0001"/><rect x="256.80" width="2.33" height="8.3" fill="#010800"/><rect x="258.83" width="2.33" height="8.3" fill="#3c0505"/><rect x="260.86" width="2.33" height="8.3" fill="#0a0000"/><rect x="262.88" width="2.33" height="8.3" fill="#041d02"/><rect x="264.91" width="2.33" height="8.3" fill="#021101"/><rect x="266.93" width="4.35" height="8.3" fill="#0a3a05"/><rect x="270.99" width="2.33" height="8.3" fill="#030000"/><rect x="273.01" width="2.33" height="8.3" fill="#140101"/><rect x="275.04" width="2.33" height="8.3" fill="#0f5007"/><rect x="277.06" width="2.33" height="8.3" fill="#062703"/><rect x="279.09" width="2.33" height="8.3" fill="#0b0001"/><rect x="281.11" width="2.33" height="8.3" fill="#030000"/><rect x="283.14" width="2.33" height="8.3" fill="#093704"/><rect x="285.17" width="2.33" height="8.3" fill="#031502"/><rect x="287.19" width="2.33" height="8.3" fill="#072903"/><rect x="289.22" width="2.33" height="8.3" fill="#052003"/><rect x="291.24" width="2.33" height="8.3" fill="#0c4205"/><rect x="293.27" width="2.33" height="8.3" fill="#010d01"/><rect x="295.30" width="2.33" height="8.3" fill="#041c02"/><rect x="297.32" width="2.33" height="8.3" fill="#010901"/><rect x="299.35" width="2.33" height="8.3" fill="#062803"/><rect x="301.37" width="2.33" height="8.3" fill="#000200"/><rect x="303.40" width="2.33" height="8.3" fill="#072d04"/><rect x="305.43" width="2.33" height="8.3" fill="#010d01"/><rect x="307.45" width="2.33" height="8.3" fill="#010c01"/><rect x="309.48" width="2.33" height="8.3" fill="#052203"/><rect x="311.50" width="2.33" height="8.3" fill="#156908"/><rect x="313.53" width="2.33" height="8.3" fill="#021101"/><rect x="315.56" width="2.33" height="8.3" fill="#031802"/><rect x="317.58" width="2.33" height="8.3" fill="#062603"/><rect x="319.61" width="2.33" height="8.3" fill="#150101"/><rect x="321.63" width="2.33" height="8.3" fill="#021301"/><rect x="323.66" width="2.33" height="8.3" fill="#18780a"/><rect x="325.69" width="2.33" height="8.3" fill="#020e01"/><rect x="327.71" width="2.33" height="8.3" fill="#010a01"/><rect x="329.74" width="2.33" height="8.3" fill="#000700"/><rect x="331.76" width="2.33" height="8.3" fill="#062503"/><rect x="333.79" width="2.33" height="8.3" fill="#160101"/><rect x="335.81" width="2.33" height="8.3" fill="#2b0303"/><rect x="337.84" width="2.33" height="8.3" fill="#062403"/><rect x="339.87" width="2.33" height="8.3" fill="#031802"/><rect x="341.89" width="2.33" height="8.3" fill="#0a3b05"/><rect x="343.92" width="2.33" height="8.3" fill="#052203"/><rect x="345.94" width="2.33" height="8.3" fill="#072a03"/><rect x="347.97" width="2.33" height="8.3" fill="#010c01"/><rect x="350.00" width="2.33" height="8.3" fill="#083104"/><rect x="352.02" width="2.33" height="8.3" fill="#031902"/><rect x="354.05" width="2.33" height="8.3" fill="#010900"/><rect x="356.07" width="2.33" height="8.3" fill="#041c02"/><rect x="358.10" width="2.33" height="8.3" fill="#062703"/><rect x="360.13" width="2.33" height="8.3" fill="#010900"/><rect x="362.15" width="2.33" height="8.3" fill="#0b3c05"/><rect x="364.18" width="2.33" height="8.3" fill="#010a01"/><rect x="366.20" width="2.33" height="8.3" fill="#000500"/><rect x="368.23" width="2.33" height="8.3" fill="#082f04"/><rect x="370.26" width="2.33" height="8.3" fill="#0d0001"/><rect x="372.28" width="2.33" height="8.3" fill="#093504"/><rect x="374.31" width="2.33" height="8.3" fill="#052203"/><rect x="376.33" width="2.33" height="8.3" fill="#0b3e05"/><rect x="378.36" width="2.33" height="8.3" fill="#083204"/><rect x="380.39" width="2.33" height="8.3" fill="#000400"/><rect x="382.41" width="2.33" height="8.3" fill="#010000"/><rect x="384.44" width="2.33" height="8.3" fill="#031702"/><rect x="386.46" width="2.33" height="8.3" fill="#0f5007"/><rect x="388.49" width="2.33" height="8.3" fill="#021101"/><rect x="390.51" width="2.33" height="8.3" fill="#082f04"/><rect x="392.54" width="2.33" height="8.3" fill="#000600"/><rect x="394.57" width="2.33" height="8.3" fill="#010b01"/><rect x="396.59" width="2.33" height="8.3" fill="#010a01"/><rect x="398.62" width="2.33" height="8.3" fill="#062503"/><rect x="400.64" width="2.33" height="8.3" fill="#000600"/><rect x="402.67" width="2.33" height="8.3" fill="#031502"/><rect x="404.70" width="2.33" height="8.3" fill="#140101"/><rect x="406.72" width="2.33" height="8.3" fill="#0f5007"/><rect x="408.75" width="2.33" height="8.3" fill="#093404"/><rect x="410.77" width="2.33" height="8.3" fill="#031802"/></g><g transform="translate(0 65.37)"><rect x="194.00" width="2.33" height="8.3" fill="#270203"/><rect x="196.03" width="2.33" height="8.3" fill="#1f0202"/><rect x="198.05" width="2.33" height="8.3" fill="#260203"/><rect x="200.08" width="2.33" height="8.3" fill="#500706"/><rect x="202.10" width="2.33" height="8.3" fill="#320404"/><rect x="204.13" width="2.33" height="8.3" fill="#090000"/><rect x="206.16" width="2.33" height="8.3" fill="#310304"/><rect x="208.18" width="2.33" height="8.3" fill="#380404"/><rect x="210.21" width="2.33" height="8.3" fill="#2d0303"/><rect x="212.23" width="2.33" height="8.3" fill="#420505"/><rect x="214.26" width="2.33" height="8.3" fill="#1c0202"/><rect x="216.29" width="2.33" height="8.3" fill="#200202"/><rect x="218.31" width="2.33" height="8.3" fill="#1a0102"/><rect x="220.34" width="2.33" height="8.3" fill="#0b0001"/><rect x="222.36" width="2.33" height="8.3" fill="#051f02"/><rect x="224.39" width="2.33" height="8.3" fill="#020e01"/><rect x="226.41" width="2.33" height="8.3" fill="#072d04"/><rect x="228.44" width="2.33" height="8.3" fill="#021301"/><rect x="230.47" width="2.33" height="8.3" fill="#021001"/><rect x="232.49" width="2.33" height="8.3" fill="#031902"/><rect x="234.52" width="2.33" height="8.3" fill="#020000"/><rect x="236.54" width="2.33" height="8.3" fill="#052203"/><rect x="238.57" width="2.33" height="8.3" fill="#030000"/><rect x="240.60" width="2.33" height="8.3" fill="#052003"/><rect x="242.62" width="2.33" height="8.3" fill="#030000"/><rect x="244.65" width="2.33" height="8.3" fill="#052303"/><rect x="246.67" width="2.33" height="8.3" fill="#093705"/><rect x="248.70" width="2.33" height="8.3" fill="#031602"/><rect x="250.73" width="2.33" height="8.3" fill="#041d02"/><rect x="252.75" width="2.33" height="8.3" fill="#062503"/><rect x="254.78" width="2.33" height="8.3" fill="#010e01"/><rect x="256.80" width="2.33" height="8.3" fill="#0c0001"/><rect x="258.83" width="2.33" height="8.3" fill="#000000"/><rect x="260.86" width="2.33" height="8.3" fill="#062403"/><rect x="262.88" width="2.33" height="8.3" fill="#170102"/><rect x="264.91" width="2.33" height="8.3" fill="#062603"/><rect x="266.93" width="2.33" height="8.3" fill="#052103"/><rect x="268.96" width="2.33" height="8.3" fill="#0f0001"/><rect x="270.99" width="2.33" height="8.3" fill="#010d01"/><rect x="273.01" width="2.33" height="8.3" fill="#062603"/><rect x="275.04" width="2.33" height="8.3" fill="#010b01"/><rect x="277.06" width="2.33" height="8.3" fill="#020f01"/><rect x="279.09" width="2.33" height="8.3" fill="#000000"/><rect x="281.11" width="2.33" height="8.3" fill="#062603"/><rect x="283.14" width="2.33" height="8.3" fill="#021101"/><rect x="285.17" width="2.33" height="8.3" fill="#010b01"/><rect x="287.19" width="2.33" height="8.3" fill="#093304"/><rect x="289.22" width="4.35" height="8.3" fill="#000000"/><rect x="293.27" width="2.33" height="8.3" fill="#000400"/><rect x="295.30" width="2.33" height="8.3" fill="#180102"/><rect x="297.32" width="2.33" height="8.3" fill="#060000"/><rect x="299.35" width="2.33" height="8.3" fill="#050000"/><rect x="301.37" width="2.33" height="8.3" fill="#072d04"/><rect x="303.40" width="2.33" height="8.3" fill="#010a01"/><rect x="305.43" width="2.33" height="8.3" fill="#1c0202"/><rect x="307.45" width="2.33" height="8.3" fill="#083004"/><rect x="309.48" width="2.33" height="8.3" fill="#083204"/><rect x="311.50" width="2.33" height="8.3" fill="#010000"/><rect x="313.53" width="2.33" height="8.3" fill="#010d01"/><rect x="315.56" width="2.33" height="8.3" fill="#031602"/><rect x="317.58" width="2.33" height="8.3" fill="#052403"/><rect x="319.61" width="2.33" height="8.3" fill="#021401"/><rect x="321.63" width="2.33" height="8.3" fill="#000300"/><rect x="323.66" width="2.33" height="8.3" fill="#093304"/><rect x="325.69" width="2.33" height="8.3" fill="#072903"/><rect x="327.71" width="2.33" height="8.3" fill="#021101"/><rect x="329.74" width="2.33" height="8.3" fill="#0f0001"/><rect x="331.76" width="2.33" height="8.3" fill="#021101"/><rect x="333.79" width="2.33" height="8.3" fill="#030000"/><rect x="335.81" width="2.33" height="8.3" fill="#000200"/><rect x="337.84" width="2.33" height="8.3" fill="#130101"/><rect x="339.87" width="2.33" height="8.3" fill="#010d01"/><rect x="341.89" width="2.33" height="8.3" fill="#010900"/><rect x="343.92" width="2.33" height="8.3" fill="#093404"/><rect x="345.94" width="2.33" height="8.3" fill="#0d0001"/><rect x="347.97" width="2.33" height="8.3" fill="#010b01"/><rect x="350.00" width="2.33" height="8.3" fill="#0d0001"/><rect x="352.02" width="2.33" height="8.3" fill="#041d02"/><rect x="354.05" width="2.33" height="8.3" fill="#062703"/><rect x="356.07" width="2.33" height="8.3" fill="#062503"/><rect x="358.10" width="2.33" height="8.3" fill="#010800"/><rect x="360.13" width="2.33" height="8.3" fill="#010c01"/><rect x="362.15" width="2.33" height="8.3" fill="#052403"/><rect x="364.18" width="2.33" height="8.3" fill="#020000"/><rect x="366.20" width="2.33" height="8.3" fill="#000500"/><rect x="368.23" width="2.33" height="8.3" fill="#0b3f05"/><rect x="370.26" width="2.33" height="8.3" fill="#0b3e05"/><rect x="372.28" width="2.33" height="8.3" fill="#052403"/><rect x="374.31" width="2.33" height="8.3" fill="#0f5107"/><rect x="376.33" width="2.33" height="8.3" fill="#010900"/><rect x="378.36" width="2.33" height="8.3" fill="#031902"/><rect x="380.39" width="2.33" height="8.3" fill="#020000"/><rect x="382.41" width="2.33" height="8.3" fill="#010c01"/><rect x="384.44" width="2.33" height="8.3" fill="#000300"/><rect x="386.46" width="2.33" height="8.3" fill="#062803"/><rect x="388.49" width="2.33" height="8.3" fill="#093404"/><rect x="390.51" width="2.33" height="8.3" fill="#021001"/><rect x="392.54" width="2.33" height="8.3" fill="#020e01"/><rect x="394.57" width="4.35" height="8.3" fill="#020f01"/><rect x="398.62" width="2.33" height="8.3" fill="#010d01"/><rect x="400.64" width="2.33" height="8.3" fill="#031702"/><rect x="402.67" width="2.33" height="8.3" fill="#010901"/><rect x="404.70" width="2.33" height="8.3" fill="#1f0202"/><rect x="406.72" width="2.33" height="8.3" fill="#110101"/><rect x="408.75" width="2.33" height="8.3" fill="#000000"/><rect x="410.77" width="2.33" height="8.3" fill="#052003"/></g><g transform="translate(0 73.42)"><rect x="194.00" width="2.33" height="8.3" fill="#2e0303"/><rect x="196.03" width="2.33" height="8.3" fill="#2a0303"/><rect x="198.05" width="2.33" height="8.3" fill="#0c0001"/><rect x="200.08" width="2.33" height="8.3" fill="#290303"/><rect x="202.10" width="2.33" height="8.3" fill="#7d0c0a"/><rect x="204.13" width="2.33" height="8.3" fill="#210202"/><rect x="206.16" width="2.33" height="8.3" fill="#140101"/><rect x="208.18" width="2.33" height="8.3" fill="#010901"/><rect x="210.21" width="2.33" height="8.3" fill="#4e0606"/><rect x="212.23" width="2.33" height="8.3" fill="#3a0404"/><rect x="214.26" width="2.33" height="8.3" fill="#150101"/><rect x="216.29" width="2.33" height="8.3" fill="#300304"/><rect x="218.31" width="2.33" height="8.3" fill="#000400"/><rect x="220.34" width="2.33" height="8.3" fill="#0f0001"/><rect x="222.36" width="2.33" height="8.3" fill="#0a0000"/><rect x="224.39" width="2.33" height="8.3" fill="#170102"/><rect x="226.41" width="2.33" height="8.3" fill="#166e09"/><rect x="228.44" width="2.33" height="8.3" fill="#3b0405"/><rect x="230.47" width="2.33" height="8.3" fill="#093404"/><rect x="232.49" width="2.33" height="8.3" fill="#160101"/><rect x="234.52" width="4.35" height="8.3" fill="#021201"/><rect x="238.57" width="2.33" height="8.3" fill="#083104"/><rect x="240.60" width="2.33" height="8.3" fill="#062503"/><rect x="242.62" width="2.33" height="8.3" fill="#021001"/><rect x="244.65" width="2.33" height="8.3" fill="#021201"/><rect x="246.67" width="2.33" height="8.3" fill="#062503"/><rect x="248.70" width="2.33" height="8.3" fill="#1b0102"/><rect x="250.73" width="2.33" height="8.3" fill="#000400"/><rect x="252.75" width="2.33" height="8.3" fill="#110101"/><rect x="254.78" width="2.33" height="8.3" fill="#010d01"/><rect x="256.80" width="2.33" height="8.3" fill="#000000"/><rect x="258.83" width="2.33" height="8.3" fill="#050000"/><rect x="260.86" width="2.33" height="8.3" fill="#000600"/><rect x="262.88" width="2.33" height="8.3" fill="#130101"/><rect x="264.91" width="2.33" height="8.3" fill="#041c02"/><rect x="266.93" width="2.33" height="8.3" fill="#052203"/><rect x="268.96" width="2.33" height="8.3" fill="#062403"/><rect x="270.99" width="2.33" height="8.3" fill="#062903"/><rect x="273.01" width="2.33" height="8.3" fill="#150101"/><rect x="275.04" width="2.33" height="8.3" fill="#000400"/><rect x="277.06" width="4.35" height="8.3" fill="#000200"/><rect x="281.11" width="2.33" height="8.3" fill="#000100"/><rect x="283.14" width="2.33" height="8.3" fill="#093304"/><rect x="285.17" width="2.33" height="8.3" fill="#021001"/><rect x="287.19" width="2.33" height="8.3" fill="#000000"/><rect x="289.22" width="2.33" height="8.3" fill="#010a01"/><rect x="291.24" width="2.33" height="8.3" fill="#093504"/><rect x="293.27" width="2.33" height="8.3" fill="#093604"/><rect x="295.30" width="2.33" height="8.3" fill="#105307"/><rect x="297.32" width="2.33" height="8.3" fill="#0a3b05"/><rect x="299.35" width="2.33" height="8.3" fill="#041c02"/><rect x="301.37" width="2.33" height="8.3" fill="#041a02"/><rect x="303.40" width="2.33" height="8.3" fill="#021201"/><rect x="305.43" width="2.33" height="8.3" fill="#082f04"/><rect x="307.45" width="2.33" height="8.3" fill="#062603"/><rect x="309.48" width="2.33" height="8.3" fill="#072903"/><rect x="311.50" width="2.33" height="8.3" fill="#030000"/><rect x="313.53" width="2.33" height="8.3" fill="#130101"/><rect x="315.56" width="4.35" height="8.3" fill="#120101"/><rect x="319.61" width="2.33" height="8.3" fill="#000100"/><rect x="321.63" width="2.33" height="8.3" fill="#000300"/><rect x="323.66" width="2.33" height="8.3" fill="#000700"/><rect x="325.69" width="2.33" height="8.3" fill="#070000"/><rect x="327.71" width="2.33" height="8.3" fill="#000000"/><rect x="329.74" width="2.33" height="8.3" fill="#031802"/><rect x="331.76" width="2.33" height="8.3" fill="#000500"/><rect x="333.79" width="2.33" height="8.3" fill="#000100"/><rect x="335.81" width="2.33" height="8.3" fill="#220202"/><rect x="337.84" width="2.33" height="8.3" fill="#0e0001"/><rect x="339.87" width="2.33" height="8.3" fill="#400505"/><rect x="341.89" width="2.33" height="8.3" fill="#083004"/><rect x="343.92" width="2.33" height="8.3" fill="#021101"/><rect x="345.94" width="2.33" height="8.3" fill="#360404"/><rect x="347.97" width="4.35" height="8.3" fill="#0f5006"/><rect x="352.02" width="2.33" height="8.3" fill="#052003"/><rect x="354.05" width="2.33" height="8.3" fill="#080000"/><rect x="356.07" width="2.33" height="8.3" fill="#072d04"/><rect x="358.10" width="2.33" height="8.3" fill="#170102"/><rect x="360.13" width="2.33" height="8.3" fill="#041a02"/><rect x="362.15" width="2.33" height="8.3" fill="#010800"/><rect x="364.18" width="2.33" height="8.3" fill="#100001"/><rect x="366.20" width="2.33" height="8.3" fill="#052103"/><rect x="368.23" width="2.33" height="8.3" fill="#020f01"/><rect x="370.26" width="2.33" height="8.3" fill="#041d02"/><rect x="372.28" width="2.33" height="8.3" fill="#093504"/><rect x="374.31" width="2.33" height="8.3" fill="#000600"/><rect x="376.33" width="2.33" height="8.3" fill="#062703"/><rect x="378.36" width="2.33" height="8.3" fill="#0c0001"/><rect x="380.39" width="2.33" height="8.3" fill="#020f01"/><rect x="382.41" width="2.33" height="8.3" fill="#100001"/><rect x="384.44" width="2.33" height="8.3" fill="#041e02"/><rect x="386.46" width="2.33" height="8.3" fill="#021401"/><rect x="388.49" width="2.33" height="8.3" fill="#062603"/><rect x="390.51" width="2.33" height="8.3" fill="#041e02"/><rect x="392.54" width="2.33" height="8.3" fill="#1e0202"/><rect x="394.57" width="2.33" height="8.3" fill="#060000"/><rect x="396.59" width="2.33" height="8.3" fill="#010800"/><rect x="398.62" width="2.33" height="8.3" fill="#0a3a05"/><rect x="400.64" width="2.33" height="8.3" fill="#062603"/><rect x="402.67" width="2.33" height="8.3" fill="#146808"/><rect x="404.70" width="2.33" height="8.3" fill="#1c0102"/><rect x="406.72" width="2.33" height="8.3" fill="#020e01"/><rect x="408.75" width="2.33" height="8.3" fill="#110101"/><rect x="410.77" width="2.33" height="8.3" fill="#040000"/></g><g transform="translate(0 81.46)"><rect x="194.00" width="2.33" height="8.3" fill="#3e0505"/><rect x="196.03" width="2.33" height="8.3" fill="#2f0304"/><rect x="198.05" width="2.33" height="8.3" fill="#0c0001"/><rect x="200.08" width="2.33" height="8.3" fill="#240203"/><rect x="202.10" width="2.33" height="8.3" fill="#210202"/><rect x="204.13" width="2.33" height="8.3" fill="#2c0303"/><rect x="206.16" width="2.33" height="8.3" fill="#220202"/><rect x="208.18" width="2.33" height="8.3" fill="#080000"/><rect x="210.21" width="2.33" height="8.3" fill="#1a0102"/><rect x="212.23" width="2.33" height="8.3" fill="#380404"/><rect x="214.26" width="2.33" height="8.3" fill="#180102"/><rect x="216.29" width="2.33" height="8.3" fill="#2c0303"/><rect x="218.31" width="2.33" height="8.3" fill="#110101"/><rect x="220.34" width="2.33" height="8.3" fill="#020000"/><rect x="222.36" width="2.33" height="8.3" fill="#041c02"/><rect x="224.39" width="2.33" height="8.3" fill="#052003"/><rect x="226.41" width="2.33" height="8.3" fill="#031502"/><rect x="228.44" width="2.33" height="8.3" fill="#021201"/><rect x="230.47" width="2.33" height="8.3" fill="#1a0102"/><rect x="232.49" width="2.33" height="8.3" fill="#031702"/><rect x="234.52" width="2.33" height="8.3" fill="#000000"/><rect x="236.54" width="2.33" height="8.3" fill="#0b3f05"/><rect x="238.57" width="2.33" height="8.3" fill="#080000"/><rect x="240.60" width="2.33" height="8.3" fill="#110101"/><rect x="242.62" width="2.33" height="8.3" fill="#010a01"/><rect x="244.65" width="2.33" height="8.3" fill="#0f0001"/><rect x="246.67" width="2.33" height="8.3" fill="#000500"/><rect x="248.70" width="2.33" height="8.3" fill="#031402"/><rect x="250.73" width="2.33" height="8.3" fill="#1c0202"/><rect x="252.75" width="2.33" height="8.3" fill="#0a3a05"/><rect x="254.78" width="2.33" height="8.3" fill="#180102"/><rect x="256.80" width="2.33" height="8.3" fill="#010c01"/><rect x="258.83" width="2.33" height="8.3" fill="#220203"/><rect x="260.86" width="2.33" height="8.3" fill="#021201"/><rect x="262.88" width="2.33" height="8.3" fill="#1e0202"/><rect x="264.91" width="2.33" height="8.3" fill="#040000"/><rect x="266.93" width="2.33" height="8.3" fill="#0f5107"/><rect x="268.96" width="2.33" height="8.3" fill="#021301"/><rect x="270.99" width="2.33" height="8.3" fill="#010800"/><rect x="273.01" width="2.33" height="8.3" fill="#200202"/><rect x="275.04" width="2.33" height="8.3" fill="#062803"/><rect x="277.06" width="2.33" height="8.3" fill="#031602"/><rect x="279.09" width="2.33" height="8.3" fill="#0e0001"/><rect x="281.11" width="2.33" height="8.3" fill="#021101"/><rect x="283.14" width="2.33" height="8.3" fill="#105307"/><rect x="285.17" width="2.33" height="8.3" fill="#130101"/><rect x="287.19" width="2.33" height="8.3" fill="#052103"/><rect x="289.22" width="2.33" height="8.3" fill="#250203"/><rect x="291.24" width="2.33" height="8.3" fill="#0b4005"/><rect x="293.27" width="2.33" height="8.3" fill="#010b01"/><rect x="295.30" width="2.33" height="8.3" fill="#052103"/><rect x="297.32" width="2.33" height="8.3" fill="#115907"/><rect x="299.35" width="2.33" height="8.3" fill="#062603"/><rect x="301.37" width="2.33" height="8.3" fill="#021201"/><rect x="303.40" width="2.33" height="8.3" fill="#072903"/><rect x="305.43" width="2.33" height="8.3" fill="#062603"/><rect x="307.45" width="2.33" height="8.3" fill="#031902"/><rect x="309.48" width="2.33" height="8.3" fill="#0c4205"/><rect x="311.50" width="2.33" height="8.3" fill="#125c07"/><rect x="313.53" width="2.33" height="8.3" fill="#020f01"/><rect x="315.56" width="2.33" height="8.3" fill="#1d8b0b"/><rect x="317.58" width="2.33" height="8.3" fill="#020000"/><rect x="319.61" width="2.33" height="8.3" fill="#000100"/><rect x="321.63" width="2.33" height="8.3" fill="#030000"/><rect x="323.66" width="2.33" height="8.3" fill="#000600"/><rect x="325.69" width="2.33" height="8.3" fill="#072d04"/><rect x="327.71" width="2.33" height="8.3" fill="#021301"/><rect x="329.74" width="2.33" height="8.3" fill="#021201"/><rect x="331.76" width="2.33" height="8.3" fill="#010d01"/><rect x="333.79" width="2.33" height="8.3" fill="#130101"/><rect x="335.81" width="2.33" height="8.3" fill="#000000"/><rect x="337.84" width="2.33" height="8.3" fill="#041d02"/><rect x="339.87" width="2.33" height="8.3" fill="#031702"/><rect x="341.89" width="2.33" height="8.3" fill="#021301"/><rect x="343.92" width="2.33" height="8.3" fill="#093604"/><rect x="345.94" width="2.33" height="8.3" fill="#021101"/><rect x="347.97" width="2.33" height="8.3" fill="#0c4105"/><rect x="350.00" width="2.33" height="8.3" fill="#031602"/><rect x="352.02" width="2.33" height="8.3" fill="#062503"/><rect x="354.05" width="2.33" height="8.3" fill="#0a3c05"/><rect x="356.07" width="2.33" height="8.3" fill="#177409"/><rect x="358.10" width="2.33" height="8.3" fill="#041d02"/><rect x="360.13" width="2.33" height="8.3" fill="#160101"/><rect x="362.15" width="2.33" height="8.3" fill="#156c09"/><rect x="364.18" width="2.33" height="8.3" fill="#062503"/><rect x="366.20" width="2.33" height="8.3" fill="#041d02"/><rect x="368.23" width="2.33" height="8.3" fill="#0c4305"/><rect x="370.26" width="2.33" height="8.3" fill="#041c02"/><rect x="372.28" width="2.33" height="8.3" fill="#010c01"/><rect x="374.31" width="2.33" height="8.3" fill="#080000"/><rect x="376.33" width="2.33" height="8.3" fill="#2e0303"/><rect x="378.36" width="2.33" height="8.3" fill="#021201"/><rect x="380.39" width="2.33" height="8.3" fill="#010800"/><rect x="382.41" width="2.33" height="8.3" fill="#180102"/><rect x="384.44" width="2.33" height="8.3" fill="#100101"/><rect x="386.46" width="2.33" height="8.3" fill="#021001"/><rect x="388.49" width="2.33" height="8.3" fill="#0e4a06"/><rect x="390.51" width="2.33" height="8.3" fill="#052103"/><rect x="392.54" width="2.33" height="8.3" fill="#0e0001"/><rect x="394.57" width="2.33" height="8.3" fill="#021301"/><rect x="396.59" width="2.33" height="8.3" fill="#110101"/><rect x="398.62" width="2.33" height="8.3" fill="#052303"/><rect x="400.64" width="2.33" height="8.3" fill="#105407"/><rect x="402.67" width="2.33" height="8.3" fill="#190102"/><rect x="404.70" width="2.33" height="8.3" fill="#0e0001"/><rect x="406.72" width="2.33" height="8.3" fill="#040000"/><rect x="408.75" width="2.33" height="8.3" fill="#0a0000"/><rect x="410.77" width="2.33" height="8.3" fill="#072a03"/></g><g transform="translate(0 89.51)"><rect x="194.00" width="2.33" height="8.3" fill="#4a0606"/><rect x="196.03" width="2.33" height="8.3" fill="#2c0303"/><rect x="198.05" width="2.33" height="8.3" fill="#1b0102"/><rect x="200.08" width="2.33" height="8.3" fill="#170102"/><rect x="202.10" width="2.33" height="8.3" fill="#580807"/><rect x="204.13" width="2.33" height="8.3" fill="#260203"/><rect x="206.16" width="2.33" height="8.3" fill="#130101"/><rect x="208.18" width="2.33" height="8.3" fill="#0e0001"/><rect x="210.21" width="2.33" height="8.3" fill="#360404"/><rect x="212.23" width="2.33" height="8.3" fill="#290303"/><rect x="214.26" width="2.33" height="8.3" fill="#120101"/><rect x="216.29" width="2.33" height="8.3" fill="#2d0303"/><rect x="218.31" width="2.33" height="8.3" fill="#000000"/><rect x="220.34" width="2.33" height="8.3" fill="#210202"/><rect x="222.36" width="2.33" height="8.3" fill="#000000"/><rect x="224.39" width="2.33" height="8.3" fill="#072c04"/><rect x="226.41" width="2.33" height="8.3" fill="#0b3c05"/><rect x="228.44" width="2.33" height="8.3" fill="#0d0001"/><rect x="230.47" width="2.33" height="8.3" fill="#000600"/><rect x="232.49" width="2.33" height="8.3" fill="#2c0303"/><rect x="234.52" width="2.33" height="8.3" fill="#082e04"/><rect x="236.54" width="2.33" height="8.3" fill="#031602"/><rect x="238.57" width="2.33" height="8.3" fill="#000100"/><rect x="240.60" width="2.33" height="8.3" fill="#000400"/><rect x="242.62" width="2.33" height="8.3" fill="#010a01"/><rect x="244.65" width="2.33" height="8.3" fill="#021201"/><rect x="246.67" width="2.33" height="8.3" fill="#040000"/><rect x="248.70" width="2.33" height="8.3" fill="#380404"/><rect x="250.73" width="2.33" height="8.3" fill="#090000"/><rect x="252.75" width="2.33" height="8.3" fill="#050000"/><rect x="254.78" width="2.33" height="8.3" fill="#250203"/><rect x="256.80" width="2.33" height="8.3" fill="#020f01"/><rect x="258.83" width="2.33" height="8.3" fill="#0b0001"/><rect x="260.86" width="2.33" height="8.3" fill="#000000"/><rect x="262.88" width="2.33" height="8.3" fill="#100101"/><rect x="264.91" width="2.33" height="8.3" fill="#0d0001"/><rect x="266.93" width="2.33" height="8.3" fill="#052203"/><rect x="268.96" width="2.33" height="8.3" fill="#0d4706"/><rect x="270.99" width="2.33" height="8.3" fill="#041c02"/><rect x="273.01" width="2.33" height="8.3" fill="#020f01"/><rect x="275.04" width="2.33" height="8.3" fill="#072b04"/><rect x="277.06" width="2.33" height="8.3" fill="#19790a"/><rect x="279.09" width="2.33" height="8.3" fill="#0d0001"/><rect x="281.11" width="2.33" height="8.3" fill="#031902"/><rect x="283.14" width="2.33" height="8.3" fill="#1b0102"/><rect x="285.17" width="2.33" height="8.3" fill="#020000"/><rect x="287.19" width="2.33" height="8.3" fill="#093404"/><rect x="289.22" width="2.33" height="8.3" fill="#031702"/><rect x="291.24" width="2.33" height="8.3" fill="#072d04"/><rect x="293.27" width="2.33" height="8.3" fill="#031802"/><rect x="295.30" width="2.33" height="8.3" fill="#040000"/><rect x="297.32" width="2.33" height="8.3" fill="#050000"/><rect x="299.35" width="2.33" height="8.3" fill="#062503"/><rect x="301.37" width="2.33" height="8.3" fill="#120101"/><rect x="303.40" width="2.33" height="8.3" fill="#083004"/><rect x="305.43" width="2.33" height="8.3" fill="#000500"/><rect x="307.45" width="2.33" height="8.3" fill="#031802"/><rect x="309.48" width="2.33" height="8.3" fill="#0b3e05"/><rect x="311.50" width="2.33" height="8.3" fill="#0a3905"/><rect x="313.53" width="2.33" height="8.3" fill="#021001"/><rect x="315.56" width="2.33" height="8.3" fill="#0a0000"/><rect x="317.58" width="2.33" height="8.3" fill="#041f02"/><rect x="319.61" width="2.33" height="8.3" fill="#0a3b05"/><rect x="321.63" width="2.33" height="8.3" fill="#090000"/><rect x="323.66" width="2.33" height="8.3" fill="#021101"/><rect x="325.69" width="2.33" height="8.3" fill="#000500"/><rect x="327.71" width="2.33" height="8.3" fill="#093604"/><rect x="329.74" width="2.33" height="8.3" fill="#031502"/><rect x="331.76" width="2.33" height="8.3" fill="#000500"/><rect x="333.79" width="2.33" height="8.3" fill="#010d01"/><rect x="335.81" width="2.33" height="8.3" fill="#000000"/><rect x="337.84" width="2.33" height="8.3" fill="#050000"/><rect x="339.87" width="2.33" height="8.3" fill="#041c02"/><rect x="341.89" width="2.33" height="8.3" fill="#0b4005"/><rect x="343.92" width="2.33" height="8.3" fill="#041a02"/><rect x="345.94" width="2.33" height="8.3" fill="#070000"/><rect x="347.97" width="2.33" height="8.3" fill="#010b01"/><rect x="350.00" width="2.33" height="8.3" fill="#010000"/><rect x="352.02" width="2.33" height="8.3" fill="#000000"/><rect x="354.05" width="2.33" height="8.3" fill="#0d4906"/><rect x="356.07" width="2.33" height="8.3" fill="#052303"/><rect x="358.10" width="2.33" height="8.3" fill="#010901"/><rect x="360.13" width="2.33" height="8.3" fill="#040000"/><rect x="362.15" width="2.33" height="8.3" fill="#0a3b05"/><rect x="364.18" width="2.33" height="8.3" fill="#010a01"/><rect x="366.20" width="2.33" height="8.3" fill="#072d04"/><rect x="368.23" width="2.33" height="8.3" fill="#052103"/><rect x="370.26" width="2.33" height="8.3" fill="#100101"/><rect x="372.28" width="2.33" height="8.3" fill="#021401"/><rect x="374.31" width="2.33" height="8.3" fill="#020e01"/><rect x="376.33" width="2.33" height="8.3" fill="#110101"/><rect x="378.36" width="2.33" height="8.3" fill="#1b0102"/><rect x="380.39" width="2.33" height="8.3" fill="#0d4706"/><rect x="382.41" width="2.33" height="8.3" fill="#021001"/><rect x="384.44" width="2.33" height="8.3" fill="#010a01"/><rect x="386.46" width="2.33" height="8.3" fill="#072b04"/><rect x="388.49" width="2.33" height="8.3" fill="#0a3805"/><rect x="390.51" width="2.33" height="8.3" fill="#010900"/><rect x="392.54" width="2.33" height="8.3" fill="#021101"/><rect x="394.57" width="2.33" height="8.3" fill="#136308"/><rect x="396.59" width="2.33" height="8.3" fill="#050000"/><rect x="398.62" width="2.33" height="8.3" fill="#010c01"/><rect x="400.64" width="2.33" height="8.3" fill="#010d01"/><rect x="402.67" width="2.33" height="8.3" fill="#000100"/><rect x="404.70" width="4.35" height="8.3" fill="#080000"/><rect x="408.75" width="2.33" height="8.3" fill="#082e04"/><rect x="410.77" width="2.33" height="8.3" fill="#031702"/></g><g transform="translate(0 97.55)"><rect x="194.00" width="2.33" height="8.3" fill="#1e0202"/><rect x="196.03" width="2.33" height="8.3" fill="#310304"/><rect x="198.05" width="2.33" height="8.3" fill="#150101"/><rect x="200.08" width="2.33" height="8.3" fill="#280303"/><rect x="202.10" width="2.33" height="8.3" fill="#400505"/><rect x="204.13" width="2.33" height="8.3" fill="#210202"/><rect x="206.16" width="2.33" height="8.3" fill="#270303"/><rect x="208.18" width="2.33" height="8.3" fill="#100001"/><rect x="210.21" width="2.33" height="8.3" fill="#3f0505"/><rect x="212.23" width="2.33" height="8.3" fill="#330404"/><rect x="214.26" width="2.33" height="8.3" fill="#180102"/><rect x="216.29" width="2.33" height="8.3" fill="#290303"/><rect x="218.31" width="2.33" height="8.3" fill="#0d0001"/><rect x="220.34" width="2.33" height="8.3" fill="#0e0001"/><rect x="222.36" width="2.33" height="8.3" fill="#170102"/><rect x="224.39" width="2.33" height="8.3" fill="#010800"/><rect x="226.41" width="2.33" height="8.3" fill="#0b4005"/><rect x="228.44" width="2.33" height="8.3" fill="#031502"/><rect x="230.47" width="2.33" height="8.3" fill="#0c4205"/><rect x="232.49" width="2.33" height="8.3" fill="#210202"/><rect x="234.52" width="2.33" height="8.3" fill="#177109"/><rect x="236.54" width="2.33" height="8.3" fill="#230203"/><rect x="238.57" width="2.33" height="8.3" fill="#1c0102"/><rect x="240.60" width="2.33" height="8.3" fill="#0a0000"/><rect x="242.62" width="2.33" height="8.3" fill="#031702"/><rect x="244.65" width="2.33" height="8.3" fill="#020e01"/><rect x="246.67" width="2.33" height="8.3" fill="#062603"/><rect x="248.70" width="2.33" height="8.3" fill="#020e01"/><rect x="250.73" width="2.33" height="8.3" fill="#080000"/><rect x="252.75" width="2.33" height="8.3" fill="#031402"/><rect x="254.78" width="2.33" height="8.3" fill="#2e0303"/><rect x="256.80" width="2.33" height="8.3" fill="#000300"/><rect x="258.83" width="2.33" height="8.3" fill="#000000"/><rect x="260.86" width="2.33" height="8.3" fill="#010901"/><rect x="262.88" width="2.33" height="8.3" fill="#010b01"/><rect x="264.91" width="2.33" height="8.3" fill="#080000"/><rect x="266.93" width="2.33" height="8.3" fill="#166e09"/><rect x="268.96" width="2.33" height="8.3" fill="#010c01"/><rect x="270.99" width="2.33" height="8.3" fill="#000000"/><rect x="273.01" width="2.33" height="8.3" fill="#0c0001"/><rect x="275.04" width="2.33" height="8.3" fill="#010a01"/><rect x="277.06" width="2.33" height="8.3" fill="#0e4c06"/><rect x="279.09" width="2.33" height="8.3" fill="#000700"/><rect x="281.11" width="2.33" height="8.3" fill="#072d04"/><rect x="283.14" width="2.33" height="8.3" fill="#010d01"/><rect x="285.17" width="2.33" height="8.3" fill="#052003"/><rect x="287.19" width="2.33" height="8.3" fill="#020f01"/><rect x="289.22" width="2.33" height="8.3" fill="#093304"/><rect x="291.24" width="2.33" height="8.3" fill="#041d02"/><rect x="293.27" width="2.33" height="8.3" fill="#031702"/><rect x="295.30" width="2.33" height="8.3" fill="#041b02"/><rect x="297.32" width="2.33" height="8.3" fill="#140101"/><rect x="299.35" width="2.33" height="8.3" fill="#031702"/><rect x="301.37" width="2.33" height="8.3" fill="#021201"/><rect x="303.40" width="2.33" height="8.3" fill="#000700"/><rect x="305.43" width="2.33" height="8.3" fill="#031902"/><rect x="307.45" width="2.33" height="8.3" fill="#021101"/><rect x="309.48" width="2.33" height="8.3" fill="#041b02"/><rect x="311.50" width="2.33" height="8.3" fill="#0a0000"/><rect x="313.53" width="2.33" height="8.3" fill="#062503"/><rect x="315.56" width="2.33" height="8.3" fill="#0c0001"/><rect x="317.58" width="2.33" height="8.3" fill="#050000"/><rect x="319.61" width="2.33" height="8.3" fill="#0c4205"/><rect x="321.63" width="2.33" height="8.3" fill="#000600"/><rect x="323.66" width="2.33" height="8.3" fill="#041d02"/><rect x="325.69" width="2.33" height="8.3" fill="#010901"/><rect x="327.71" width="2.33" height="8.3" fill="#0e4b06"/><rect x="329.74" width="2.33" height="8.3" fill="#000000"/><rect x="331.76" width="2.33" height="8.3" fill="#062603"/><rect x="333.79" width="2.33" height="8.3" fill="#052003"/><rect x="335.81" width="2.33" height="8.3" fill="#021301"/><rect x="337.84" width="2.33" height="8.3" fill="#052103"/><rect x="339.87" width="2.33" height="8.3" fill="#072e04"/><rect x="341.89" width="2.33" height="8.3" fill="#031602"/><rect x="343.92" width="2.33" height="8.3" fill="#020e01"/><rect x="345.94" width="2.33" height="8.3" fill="#115b07"/><rect x="347.97" width="2.33" height="8.3" fill="#020f01"/><rect x="350.00" width="2.33" height="8.3" fill="#041a02"/><rect x="352.02" width="2.33" height="8.3" fill="#052303"/><rect x="354.05" width="2.33" height="8.3" fill="#072b04"/><rect x="356.07" width="2.33" height="8.3" fill="#062603"/><rect x="358.10" width="2.33" height="8.3" fill="#1a0102"/><rect x="360.13" width="2.33" height="8.3" fill="#000100"/><rect x="362.15" width="2.33" height="8.3" fill="#083104"/><rect x="364.18" width="2.33" height="8.3" fill="#062803"/><rect x="366.20" width="2.33" height="8.3" fill="#010901"/><rect x="368.23" width="2.33" height="8.3" fill="#000300"/><rect x="370.26" width="2.33" height="8.3" fill="#0e0001"/><rect x="372.28" width="2.33" height="8.3" fill="#010b01"/><rect x="374.31" width="2.33" height="8.3" fill="#072d04"/><rect x="376.33" width="2.33" height="8.3" fill="#052203"/><rect x="378.36" width="2.33" height="8.3" fill="#1f940c"/><rect x="380.39" width="2.33" height="8.3" fill="#010d01"/><rect x="382.41" width="2.33" height="8.3" fill="#1d0202"/><rect x="384.44" width="2.33" height="8.3" fill="#041b02"/><rect x="386.46" width="2.33" height="8.3" fill="#177509"/><rect x="388.49" width="2.33" height="8.3" fill="#052203"/><rect x="390.51" width="2.33" height="8.3" fill="#0c4406"/><rect x="392.54" width="2.33" height="8.3" fill="#083304"/><rect x="394.57" width="2.33" height="8.3" fill="#052103"/><rect x="396.59" width="2.33" height="8.3" fill="#021101"/><rect x="398.62" width="2.33" height="8.3" fill="#041a02"/><rect x="400.64" width="2.33" height="8.3" fill="#070000"/><rect x="402.67" width="2.33" height="8.3" fill="#010b01"/><rect x="404.70" width="2.33" height="8.3" fill="#010800"/><rect x="406.72" width="2.33" height="8.3" fill="#190102"/><rect x="408.75" width="2.33" height="8.3" fill="#070000"/><rect x="410.77" width="2.33" height="8.3" fill="#031602"/></g><g transform="translate(0 105.60)"><rect x="194.00" width="2.33" height="8.3" fill="#031502"/><rect x="196.03" width="2.33" height="8.3" fill="#010000"/><rect x="198.05" width="2.33" height="8.3" fill="#031702"/><rect x="200.08" width="2.33" height="8.3" fill="#040000"/><rect x="202.10" width="2.33" height="8.3" fill="#3b0404"/><rect x="204.13" width="2.33" height="8.3" fill="#000300"/><rect x="206.16" width="2.33" height="8.3" fill="#010800"/><rect x="208.18" width="2.33" height="8.3" fill="#041b02"/><rect x="210.21" width="2.33" height="8.3" fill="#070000"/><rect x="212.23" width="2.33" height="8.3" fill="#130101"/><rect x="214.26" width="2.33" height="8.3" fill="#000500"/><rect x="216.29" width="2.33" height="8.3" fill="#000600"/><rect x="218.31" width="2.33" height="8.3" fill="#052303"/><rect x="220.34" width="2.33" height="8.3" fill="#010c01"/><rect x="222.36" width="2.33" height="8.3" fill="#031602"/><rect x="224.39" width="2.33" height="8.3" fill="#010c01"/><rect x="226.41" width="2.33" height="8.3" fill="#180102"/><rect x="228.44" width="2.33" height="8.3" fill="#030000"/><rect x="230.47" width="2.33" height="8.3" fill="#010d01"/><rect x="232.49" width="2.33" height="8.3" fill="#0e0001"/><rect x="234.52" width="2.33" height="8.3" fill="#110101"/><rect x="236.54" width="2.33" height="8.3" fill="#120101"/><rect x="238.57" width="2.33" height="8.3" fill="#270203"/><rect x="240.60" width="2.33" height="8.3" fill="#000000"/><rect x="242.62" width="2.33" height="8.3" fill="#070000"/><rect x="244.65" width="2.33" height="8.3" fill="#000700"/><rect x="246.67" width="2.33" height="8.3" fill="#041b02"/><rect x="248.70" width="2.33" height="8.3" fill="#240203"/><rect x="250.73" width="2.33" height="8.3" fill="#2f0304"/><rect x="252.75" width="2.33" height="8.3" fill="#000400"/><rect x="254.78" width="2.33" height="8.3" fill="#2d0303"/><rect x="256.80" width="2.33" height="8.3" fill="#010000"/><rect x="258.83" width="2.33" height="8.3" fill="#280303"/><rect x="260.86" width="2.33" height="8.3" fill="#020000"/><rect x="262.88" width="2.33" height="8.3" fill="#010800"/><rect x="264.91" width="2.33" height="8.3" fill="#230203"/><rect x="266.93" width="2.33" height="8.3" fill="#021101"/><rect x="268.96" width="2.33" height="8.3" fill="#280303"/><rect x="270.99" width="2.33" height="8.3" fill="#010a01"/><rect x="273.01" width="2.33" height="8.3" fill="#1e0202"/><rect x="275.04" width="2.33" height="8.3" fill="#093304"/><rect x="277.06" width="2.33" height="8.3" fill="#093704"/><rect x="279.09" width="2.33" height="8.3" fill="#190102"/><rect x="281.11" width="2.33" height="8.3" fill="#052103"/><rect x="283.14" width="2.33" height="8.3" fill="#041a02"/><rect x="285.17" width="2.33" height="8.3" fill="#1a0102"/><rect x="287.19" width="2.33" height="8.3" fill="#093404"/><rect x="289.22" width="2.33" height="8.3" fill="#041b02"/><rect x="291.24" width="2.33" height="8.3" fill="#041e02"/><rect x="293.27" width="2.33" height="8.3" fill="#031602"/><rect x="295.30" width="2.33" height="8.3" fill="#020000"/><rect x="297.32" width="2.33" height="8.3" fill="#090000"/><rect x="299.35" width="2.33" height="8.3" fill="#052003"/><rect x="301.37" width="2.33" height="8.3" fill="#260203"/><rect x="303.40" width="2.33" height="8.3" fill="#290303"/><rect x="305.43" width="2.33" height="8.3" fill="#1a0102"/><rect x="307.45" width="2.33" height="8.3" fill="#093304"/><rect x="309.48" width="2.33" height="8.3" fill="#021001"/><rect x="311.50" width="2.33" height="8.3" fill="#000300"/><rect x="313.53" width="2.33" height="8.3" fill="#1a0102"/><rect x="315.56" width="2.33" height="8.3" fill="#020000"/><rect x="317.58" width="2.33" height="8.3" fill="#160101"/><rect x="319.61" width="2.33" height="8.3" fill="#041a02"/><rect x="321.63" width="2.33" height="8.3" fill="#031502"/><rect x="323.66" width="2.33" height="8.3" fill="#140101"/><rect x="325.69" width="2.33" height="8.3" fill="#082f04"/><rect x="327.71" width="2.33" height="8.3" fill="#041c02"/><rect x="329.74" width="4.35" height="8.3" fill="#080000"/><rect x="333.79" width="2.33" height="8.3" fill="#000500"/><rect x="335.81" width="2.33" height="8.3" fill="#041c02"/><rect x="337.84" width="2.33" height="8.3" fill="#000200"/><rect x="339.87" width="2.33" height="8.3" fill="#000300"/><rect x="341.89" width="2.33" height="8.3" fill="#010000"/><rect x="343.92" width="2.33" height="8.3" fill="#010800"/><rect x="345.94" width="2.33" height="8.3" fill="#041b02"/><rect x="347.97" width="2.33" height="8.3" fill="#090000"/><rect x="350.00" width="2.33" height="8.3" fill="#031902"/><rect x="352.02" width="2.33" height="8.3" fill="#130101"/><rect x="354.05" width="2.33" height="8.3" fill="#021001"/><rect x="356.07" width="2.33" height="8.3" fill="#041a02"/><rect x="358.10" width="2.33" height="8.3" fill="#080000"/><rect x="360.13" width="2.33" height="8.3" fill="#070000"/><rect x="362.15" width="2.33" height="8.3" fill="#080000"/><rect x="364.18" width="2.33" height="8.3" fill="#010c01"/><rect x="366.20" width="2.33" height="8.3" fill="#000000"/><rect x="368.23" width="2.33" height="8.3" fill="#060000"/><rect x="370.26" width="2.33" height="8.3" fill="#110101"/><rect x="372.28" width="2.33" height="8.3" fill="#062803"/><rect x="374.31" width="2.33" height="8.3" fill="#062703"/><rect x="376.33" width="2.33" height="8.3" fill="#020000"/><rect x="378.36" width="2.33" height="8.3" fill="#0c0001"/><rect x="380.39" width="2.33" height="8.3" fill="#060000"/><rect x="382.41" width="2.33" height="8.3" fill="#240203"/><rect x="384.44" width="2.33" height="8.3" fill="#3d0505"/><rect x="386.46" width="2.33" height="8.3" fill="#010900"/><rect x="388.49" width="2.33" height="8.3" fill="#031802"/><rect x="390.51" width="2.33" height="8.3" fill="#010b01"/><rect x="392.54" width="2.33" height="8.3" fill="#010d01"/><rect x="394.57" width="2.33" height="8.3" fill="#041c02"/><rect x="396.59" width="2.33" height="8.3" fill="#260203"/><rect x="398.62" width="2.33" height="8.3" fill="#031702"/><rect x="400.64" width="2.33" height="8.3" fill="#072a03"/><rect x="402.67" width="2.33" height="8.3" fill="#000300"/><rect x="404.70" width="2.33" height="8.3" fill="#1a0102"/><rect x="406.72" width="2.33" height="8.3" fill="#0b0001"/><rect x="408.75" width="2.33" height="8.3" fill="#090000"/><rect x="410.77" width="2.33" height="8.3" fill="#000400"/></g><g transform="translate(0 113.64)"><rect x="194.00" width="2.33" height="8.3" fill="#000000"/><rect x="196.03" width="2.33" height="8.3" fill="#072903"/><rect x="198.05" width="2.33" height="8.3" fill="#041b02"/><rect x="200.08" width="2.33" height="8.3" fill="#0e4d06"/><rect x="202.10" width="2.33" height="8.3" fill="#041e02"/><rect x="204.13" width="2.33" height="8.3" fill="#072d04"/><rect x="206.16" width="2.33" height="8.3" fill="#082f04"/><rect x="208.18" width="2.33" height="8.3" fill="#105507"/><rect x="210.21" width="2.33" height="8.3" fill="#000500"/><rect x="212.23" width="2.33" height="8.3" fill="#021301"/><rect x="214.26" width="2.33" height="8.3" fill="#020e01"/><rect x="216.29" width="2.33" height="8.3" fill="#0b3f05"/><rect x="218.31" width="2.33" height="8.3" fill="#093404"/><rect x="220.34" width="2.33" height="8.3" fill="#0f4f06"/><rect x="222.36" width="2.33" height="8.3" fill="#0c0001"/><rect x="224.39" width="2.33" height="8.3" fill="#210202"/><rect x="226.41" width="2.33" height="8.3" fill="#000300"/><rect x="228.44" width="2.33" height="8.3" fill="#020000"/><rect x="230.47" width="2.33" height="8.3" fill="#1b0102"/><rect x="232.49" width="2.33" height="8.3" fill="#020f01"/><rect x="234.52" width="2.33" height="8.3" fill="#010b01"/><rect x="236.54" width="2.33" height="8.3" fill="#150101"/><rect x="238.57" width="2.33" height="8.3" fill="#041b02"/><rect x="240.60" width="2.33" height="8.3" fill="#0b0001"/><rect x="242.62" width="2.33" height="8.3" fill="#030000"/><rect x="244.65" width="2.33" height="8.3" fill="#100101"/><rect x="246.67" width="2.33" height="8.3" fill="#0b0001"/><rect x="248.70" width="2.33" height="8.3" fill="#1f0202"/><rect x="250.73" width="2.33" height="8.3" fill="#140101"/><rect x="252.75" width="2.33" height="8.3" fill="#062603"/><rect x="254.78" width="2.33" height="8.3" fill="#010d01"/><rect x="256.80" width="2.33" height="8.3" fill="#021301"/><rect x="258.83" width="2.33" height="8.3" fill="#140101"/><rect x="260.86" width="2.33" height="8.3" fill="#170102"/><rect x="262.88" width="2.33" height="8.3" fill="#4c0606"/><rect x="264.91" width="2.33" height="8.3" fill="#062503"/><rect x="266.93" width="2.33" height="8.3" fill="#0a3a05"/><rect x="268.96" width="2.33" height="8.3" fill="#000300"/><rect x="270.99" width="2.33" height="8.3" fill="#130101"/><rect x="273.01" width="2.33" height="8.3" fill="#010000"/><rect x="275.04" width="2.33" height="8.3" fill="#090000"/><rect x="277.06" width="2.33" height="8.3" fill="#1c0102"/><rect x="279.09" width="2.33" height="8.3" fill="#210202"/><rect x="281.11" width="2.33" height="8.3" fill="#0b0001"/><rect x="283.14" width="2.33" height="8.3" fill="#000000"/><rect x="285.17" width="2.33" height="8.3" fill="#250203"/><rect x="287.19" width="2.33" height="8.3" fill="#030000"/><rect x="289.22" width="2.33" height="8.3" fill="#010c01"/><rect x="291.24" width="2.33" height="8.3" fill="#041c02"/><rect x="293.27" width="2.33" height="8.3" fill="#010d01"/><rect x="295.30" width="2.33" height="8.3" fill="#070000"/><rect x="297.32" width="2.33" height="8.3" fill="#051f03"/><rect x="299.35" width="2.33" height="8.3" fill="#0e0001"/><rect x="301.37" width="2.33" height="8.3" fill="#1c0102"/><rect x="303.40" width="2.33" height="8.3" fill="#2e0303"/><rect x="305.43" width="2.33" height="8.3" fill="#1f0202"/><rect x="307.45" width="2.33" height="8.3" fill="#031702"/><rect x="309.48" width="2.33" height="8.3" fill="#010800"/><rect x="311.50" width="2.33" height="8.3" fill="#000500"/><rect x="313.53" width="2.33" height="8.3" fill="#220203"/><rect x="315.56" width="4.35" height="8.3" fill="#010000"/><rect x="319.61" width="2.33" height="8.3" fill="#031602"/><rect x="321.63" width="2.33" height="8.3" fill="#000400"/><rect x="323.66" width="2.33" height="8.3" fill="#000000"/><rect x="325.69" width="2.33" height="8.3" fill="#010c01"/><rect x="327.71" width="2.33" height="8.3" fill="#000600"/><rect x="329.74" width="2.33" height="8.3" fill="#280303"/><rect x="331.76" width="2.33" height="8.3" fill="#050000"/><rect x="333.79" width="2.33" height="8.3" fill="#110101"/><rect x="335.81" width="2.33" height="8.3" fill="#080000"/><rect x="337.84" width="2.33" height="8.3" fill="#031502"/><rect x="339.87" width="2.33" height="8.3" fill="#010a01"/><rect x="341.89" width="2.33" height="8.3" fill="#000000"/><rect x="343.92" width="2.33" height="8.3" fill="#220202"/><rect x="345.94" width="2.33" height="8.3" fill="#021201"/><rect x="347.97" width="2.33" height="8.3" fill="#021001"/><rect x="350.00" width="2.33" height="8.3" fill="#000000"/><rect x="352.02" width="2.33" height="8.3" fill="#041c02"/><rect x="354.05" width="2.33" height="8.3" fill="#083004"/><rect x="356.07" width="2.33" height="8.3" fill="#180102"/><rect x="358.10" width="2.33" height="8.3" fill="#000600"/><rect x="360.13" width="2.33" height="8.3" fill="#030000"/><rect x="362.15" width="2.33" height="8.3" fill="#052003"/><rect x="364.18" width="2.33" height="8.3" fill="#041c02"/><rect x="366.20" width="2.33" height="8.3" fill="#190102"/><rect x="368.23" width="2.33" height="8.3" fill="#0b4105"/><rect x="370.26" width="2.33" height="8.3" fill="#020e01"/><rect x="372.28" width="2.33" height="8.3" fill="#0b3d05"/><rect x="374.31" width="2.33" height="8.3" fill="#041c02"/><rect x="376.33" width="2.33" height="8.3" fill="#000100"/><rect x="378.36" width="2.33" height="8.3" fill="#000500"/><rect x="380.39" width="2.33" height="8.3" fill="#2a0303"/><rect x="382.41" width="2.33" height="8.3" fill="#2b0303"/><rect x="384.44" width="2.33" height="8.3" fill="#031902"/><rect x="386.46" width="2.33" height="8.3" fill="#000200"/><rect x="388.49" width="2.33" height="8.3" fill="#0a0000"/><rect x="390.51" width="2.33" height="8.3" fill="#1c0102"/><rect x="392.54" width="2.33" height="8.3" fill="#0b0001"/><rect x="394.57" width="2.33" height="8.3" fill="#052303"/><rect x="396.59" width="2.33" height="8.3" fill="#0d0001"/><rect x="398.62" width="2.33" height="8.3" fill="#0f4f06"/><rect x="400.64" width="2.33" height="8.3" fill="#030000"/><rect x="402.67" width="2.33" height="8.3" fill="#021001"/><rect x="404.70" width="2.33" height="8.3" fill="#0b0001"/><rect x="406.72" width="2.33" height="8.3" fill="#250203"/><rect x="408.75" width="2.33" height="8.3" fill="#031702"/><rect x="410.77" width="2.33" height="8.3" fill="#180102"/></g><g transform="translate(0 121.69)"><rect x="194.00" width="2.33" height="8.3" fill="#020e01"/><rect x="196.03" width="2.33" height="8.3" fill="#031402"/><rect x="198.05" width="2.33" height="8.3" fill="#052003"/><rect x="200.08" width="2.33" height="8.3" fill="#062603"/><rect x="202.10" width="2.33" height="8.3" fill="#000200"/><rect x="204.13" width="2.33" height="8.3" fill="#052203"/><rect x="206.16" width="2.33" height="8.3" fill="#021401"/><rect x="208.18" width="2.33" height="8.3" fill="#072c04"/><rect x="210.21" width="2.33" height="8.3" fill="#041e02"/><rect x="212.23" width="2.33" height="8.3" fill="#0b0001"/><rect x="214.26" width="4.35" height="8.3" fill="#072c04"/><rect x="218.31" width="2.33" height="8.3" fill="#093404"/><rect x="220.34" width="2.33" height="8.3" fill="#093304"/><rect x="222.36" width="2.33" height="8.3" fill="#010000"/><rect x="224.39" width="2.33" height="8.3" fill="#2c0303"/><rect x="226.41" width="2.33" height="8.3" fill="#082f04"/><rect x="228.44" width="2.33" height="8.3" fill="#2e0303"/><rect x="230.47" width="2.33" height="8.3" fill="#130101"/><rect x="232.49" width="2.33" height="8.3" fill="#310304"/><rect x="234.52" width="2.33" height="8.3" fill="#062803"/><rect x="236.54" width="2.33" height="8.3" fill="#3a0404"/><rect x="238.57" width="2.33" height="8.3" fill="#000100"/><rect x="240.60" width="2.33" height="8.3" fill="#020000"/><rect x="242.62" width="2.33" height="8.3" fill="#1a0102"/><rect x="244.65" width="2.33" height="8.3" fill="#030000"/><rect x="246.67" width="2.33" height="8.3" fill="#010a01"/><rect x="248.70" width="2.33" height="8.3" fill="#082f04"/><rect x="250.73" width="2.33" height="8.3" fill="#100001"/><rect x="252.75" width="2.33" height="8.3" fill="#020e01"/><rect x="254.78" width="2.33" height="8.3" fill="#4f0706"/><rect x="256.80" width="2.33" height="8.3" fill="#200202"/><rect x="258.83" width="2.33" height="8.3" fill="#350404"/><rect x="260.86" width="2.33" height="8.3" fill="#1a0102"/><rect x="262.88" width="2.33" height="8.3" fill="#000700"/><rect x="264.91" width="2.33" height="8.3" fill="#1b0102"/><rect x="266.93" width="2.33" height="8.3" fill="#000600"/><rect x="268.96" width="2.33" height="8.3" fill="#0f0001"/><rect x="270.99" width="2.33" height="8.3" fill="#010d01"/><rect x="273.01" width="2.33" height="8.3" fill="#160101"/><rect x="275.04" width="2.33" height="8.3" fill="#021301"/><rect x="277.06" width="2.33" height="8.3" fill="#010c01"/><rect x="279.09" width="2.33" height="8.3" fill="#140101"/><rect x="281.11" width="2.33" height="8.3" fill="#080000"/><rect x="283.14" width="2.33" height="8.3" fill="#000400"/><rect x="285.17" width="2.33" height="8.3" fill="#380404"/><rect x="287.19" width="2.33" height="8.3" fill="#052203"/><rect x="289.22" width="2.33" height="8.3" fill="#090000"/><rect x="291.24" width="2.33" height="8.3" fill="#031602"/><rect x="293.27" width="2.33" height="8.3" fill="#0c0001"/><rect x="295.30" width="2.33" height="8.3" fill="#080000"/><rect x="297.32" width="2.33" height="8.3" fill="#000500"/><rect x="299.35" width="2.33" height="8.3" fill="#130101"/><rect x="301.37" width="2.33" height="8.3" fill="#020e01"/><rect x="303.40" width="2.33" height="8.3" fill="#120101"/><rect x="305.43" width="2.33" height="8.3" fill="#130101"/><rect x="307.45" width="2.33" height="8.3" fill="#000100"/><rect x="309.48" width="2.33" height="8.3" fill="#100001"/><rect x="311.50" width="2.33" height="8.3" fill="#060000"/><rect x="313.53" width="2.33" height="8.3" fill="#000000"/><rect x="315.56" width="2.33" height="8.3" fill="#010a01"/><rect x="317.58" width="2.33" height="8.3" fill="#000100"/><rect x="319.61" width="2.33" height="8.3" fill="#041a02"/><rect x="321.63" width="2.33" height="8.3" fill="#2c0303"/><rect x="323.66" width="2.33" height="8.3" fill="#120101"/><rect x="325.69" width="2.33" height="8.3" fill="#130101"/><rect x="327.71" width="2.33" height="8.3" fill="#021001"/><rect x="329.74" width="2.33" height="8.3" fill="#000100"/><rect x="331.76" width="2.33" height="8.3" fill="#010000"/><rect x="333.79" width="2.33" height="8.3" fill="#0e0001"/><rect x="335.81" width="2.33" height="8.3" fill="#1b0102"/><rect x="337.84" width="2.33" height="8.3" fill="#020000"/><rect x="339.87" width="2.33" height="8.3" fill="#000600"/><rect x="341.89" width="2.33" height="8.3" fill="#041d02"/><rect x="343.92" width="2.33" height="8.3" fill="#0d0001"/><rect x="345.94" width="2.33" height="8.3" fill="#030000"/><rect x="347.97" width="2.33" height="8.3" fill="#136308"/><rect x="350.00" width="2.33" height="8.3" fill="#021101"/><rect x="352.02" width="2.33" height="8.3" fill="#340404"/><rect x="354.05" width="2.33" height="8.3" fill="#000600"/><rect x="356.07" width="2.33" height="8.3" fill="#010b01"/><rect x="358.10" width="2.33" height="8.3" fill="#330404"/><rect x="360.13" width="2.33" height="8.3" fill="#072d04"/><rect x="362.15" width="2.33" height="8.3" fill="#0f5107"/><rect x="364.18" width="2.33" height="8.3" fill="#000700"/><rect x="366.20" width="2.33" height="8.3" fill="#062803"/><rect x="368.23" width="2.33" height="8.3" fill="#020f01"/><rect x="370.26" width="2.33" height="8.3" fill="#000700"/><rect x="372.28" width="2.33" height="8.3" fill="#041d02"/><rect x="374.31" width="2.33" height="8.3" fill="#031402"/><rect x="376.33" width="2.33" height="8.3" fill="#000100"/><rect x="378.36" width="2.33" height="8.3" fill="#041b02"/><rect x="380.39" width="2.33" height="8.3" fill="#1d0202"/><rect x="382.41" width="2.33" height="8.3" fill="#180102"/><rect x="384.44" width="2.33" height="8.3" fill="#210202"/><rect x="386.46" width="2.33" height="8.3" fill="#083004"/><rect x="388.49" width="2.33" height="8.3" fill="#070000"/><rect x="390.51" width="2.33" height="8.3" fill="#072b04"/><rect x="392.54" width="2.33" height="8.3" fill="#010c01"/><rect x="394.57" width="2.33" height="8.3" fill="#0d0001"/><rect x="396.59" width="2.33" height="8.3" fill="#060000"/><rect x="398.62" width="2.33" height="8.3" fill="#040000"/><rect x="400.64" width="2.33" height="8.3" fill="#150101"/><rect x="402.67" width="2.33" height="8.3" fill="#0c4506"/><rect x="404.70" width="2.33" height="8.3" fill="#220202"/><rect x="406.72" width="2.33" height="8.3" fill="#010000"/><rect x="408.75" width="2.33" height="8.3" fill="#160102"/><rect x="410.77" width="2.33" height="8.3" fill="#360404"/></g><g transform="translate(0 129.73)"><rect x="194.00" width="2.33" height="8.3" fill="#093304"/><rect x="196.03" width="2.33" height="8.3" fill="#041b02"/><rect x="198.05" width="2.33" height="8.3" fill="#136308"/><rect x="200.08" width="2.33" height="8.3" fill="#0e4a06"/><rect x="202.10" width="2.33" height="8.3" fill="#041d02"/><rect x="204.13" width="2.33" height="8.3" fill="#010c01"/><rect x="206.16" width="2.33" height="8.3" fill="#062503"/><rect x="208.18" width="2.33" height="8.3" fill="#0f5006"/><rect x="210.21" width="2.33" height="8.3" fill="#0d4606"/><rect x="212.23" width="2.33" height="8.3" fill="#031602"/><rect x="214.26" width="2.33" height="8.3" fill="#031702"/><rect x="216.29" width="2.33" height="8.3" fill="#052303"/><rect x="218.31" width="2.33" height="8.3" fill="#146608"/><rect x="220.34" width="2.33" height="8.3" fill="#0a3b05"/><rect x="222.36" width="2.33" height="8.3" fill="#2e0303"/><rect x="224.39" width="2.33" height="8.3" fill="#410505"/><rect x="226.41" width="2.33" height="8.3" fill="#000500"/><rect x="228.44" width="2.33" height="8.3" fill="#130101"/><rect x="230.47" width="2.33" height="8.3" fill="#210202"/><rect x="232.49" width="2.33" height="8.3" fill="#260203"/><rect x="234.52" width="2.33" height="8.3" fill="#010000"/><rect x="236.54" width="2.33" height="8.3" fill="#010b01"/><rect x="238.57" width="2.33" height="8.3" fill="#100101"/><rect x="240.60" width="2.33" height="8.3" fill="#000700"/><rect x="242.62" width="2.33" height="8.3" fill="#000000"/><rect x="244.65" width="2.33" height="8.3" fill="#0f0001"/><rect x="246.67" width="2.33" height="8.3" fill="#0a3905"/><rect x="248.70" width="2.33" height="8.3" fill="#080000"/><rect x="250.73" width="2.33" height="8.3" fill="#2c0303"/><rect x="252.75" width="2.33" height="8.3" fill="#0b4105"/><rect x="254.78" width="2.33" height="8.3" fill="#1f0202"/><rect x="256.80" width="2.33" height="8.3" fill="#1d0202"/><rect x="258.83" width="2.33" height="8.3" fill="#000300"/><rect x="260.86" width="2.33" height="8.3" fill="#370404"/><rect x="262.88" width="2.33" height="8.3" fill="#240203"/><rect x="264.91" width="2.33" height="8.3" fill="#000200"/><rect x="266.93" width="2.33" height="8.3" fill="#021201"/><rect x="268.96" width="2.33" height="8.3" fill="#170102"/><rect x="270.99" width="2.33" height="8.3" fill="#000500"/><rect x="273.01" width="2.33" height="8.3" fill="#0a3b05"/><rect x="275.04" width="2.33" height="8.3" fill="#1b0102"/><rect x="277.06" width="2.33" height="8.3" fill="#000200"/><rect x="279.09" width="2.33" height="8.3" fill="#280303"/><rect x="281.11" width="2.33" height="8.3" fill="#3f0505"/><rect x="283.14" width="2.33" height="8.3" fill="#010c01"/><rect x="285.17" width="2.33" height="8.3" fill="#100101"/><rect x="287.19" width="2.33" height="8.3" fill="#310304"/><rect x="289.22" width="2.33" height="8.3" fill="#220202"/><rect x="291.24" width="2.33" height="8.3" fill="#000500"/><rect x="293.27" width="2.33" height="8.3" fill="#052103"/><rect x="295.30" width="2.33" height="8.3" fill="#000000"/><rect x="297.32" width="2.33" height="8.3" fill="#030000"/><rect x="299.35" width="2.33" height="8.3" fill="#220203"/><rect x="301.37" width="2.33" height="8.3" fill="#2d0303"/><rect x="303.40" width="2.33" height="8.3" fill="#110101"/><rect x="305.43" width="2.33" height="8.3" fill="#2e0303"/><rect x="307.45" width="2.33" height="8.3" fill="#250203"/><rect x="309.48" width="2.33" height="8.3" fill="#1a0102"/><rect x="311.50" width="2.33" height="8.3" fill="#120101"/><rect x="313.53" width="2.33" height="8.3" fill="#020f01"/><rect x="315.56" width="2.33" height="8.3" fill="#031402"/><rect x="317.58" width="2.33" height="8.3" fill="#030000"/><rect x="319.61" width="2.33" height="8.3" fill="#130101"/><rect x="321.63" width="2.33" height="8.3" fill="#110101"/><rect x="323.66" width="2.33" height="8.3" fill="#200202"/><rect x="325.69" width="2.33" height="8.3" fill="#1b0102"/><rect x="327.71" width="2.33" height="8.3" fill="#0e0001"/><rect x="329.74" width="2.33" height="8.3" fill="#010d01"/><rect x="331.76" width="2.33" height="8.3" fill="#330404"/><rect x="333.79" width="2.33" height="8.3" fill="#010b01"/><rect x="335.81" width="2.33" height="8.3" fill="#2d0303"/><rect x="337.84" width="2.33" height="8.3" fill="#072903"/><rect x="339.87" width="2.33" height="8.3" fill="#0b0001"/><rect x="341.89" width="2.33" height="8.3" fill="#010900"/><rect x="343.92" width="2.33" height="8.3" fill="#010b01"/><rect x="345.94" width="2.33" height="8.3" fill="#021101"/><rect x="347.97" width="2.33" height="8.3" fill="#140101"/><rect x="350.00" width="2.33" height="8.3" fill="#000200"/><rect x="352.02" width="2.33" height="8.3" fill="#080000"/><rect x="354.05" width="2.33" height="8.3" fill="#000000"/><rect x="356.07" width="2.33" height="8.3" fill="#020e01"/><rect x="358.10" width="2.33" height="8.3" fill="#050000"/><rect x="360.13" width="2.33" height="8.3" fill="#010a01"/><rect x="362.15" width="2.33" height="8.3" fill="#031502"/><rect x="364.18" width="2.33" height="8.3" fill="#0e0001"/><rect x="366.20" width="2.33" height="8.3" fill="#040000"/><rect x="368.23" width="2.33" height="8.3" fill="#031402"/><rect x="370.26" width="2.33" height="8.3" fill="#0b3e05"/><rect x="372.28" width="2.33" height="8.3" fill="#000100"/><rect x="374.31" width="2.33" height="8.3" fill="#0b0001"/><rect x="376.33" width="2.33" height="8.3" fill="#070000"/><rect x="378.36" width="2.33" height="8.3" fill="#000200"/><rect x="380.39" width="2.33" height="8.3" fill="#1a0102"/><rect x="382.41" width="2.33" height="8.3" fill="#031802"/><rect x="384.44" width="2.33" height="8.3" fill="#041f02"/><rect x="386.46" width="2.33" height="8.3" fill="#010d01"/><rect x="388.49" width="2.33" height="8.3" fill="#0d0001"/><rect x="390.51" width="2.33" height="8.3" fill="#041b02"/><rect x="392.54" width="2.33" height="8.3" fill="#010d01"/><rect x="394.57" width="2.33" height="8.3" fill="#010800"/><rect x="396.59" width="2.33" height="8.3" fill="#031402"/><rect x="398.62" width="2.33" height="8.3" fill="#100001"/><rect x="400.64" width="2.33" height="8.3" fill="#040000"/><rect x="402.67" width="2.33" height="8.3" fill="#010000"/><rect x="404.70" width="2.33" height="8.3" fill="#2d0303"/><rect x="406.72" width="2.33" height="8.3" fill="#010000"/><rect x="408.75" width="2.33" height="8.3" fill="#130101"/><rect x="410.77" width="2.33" height="8.3" fill="#020000"/></g><g transform="translate(0 137.78)"><rect x="194.00" width="2.33" height="8.3" fill="#052203"/><rect x="196.03" width="2.33" height="8.3" fill="#031902"/><rect x="198.05" width="2.33" height="8.3" fill="#062803"/><rect x="200.08" width="2.33" height="8.3" fill="#031402"/><rect x="202.10" width="2.33" height="8.3" fill="#021001"/><rect x="204.13" width="2.33" height="8.3" fill="#082e04"/><rect x="206.16" width="2.33" height="8.3" fill="#0c4506"/><rect x="208.18" width="2.33" height="8.3" fill="#083004"/><rect x="210.21" width="4.35" height="8.3" fill="#072c04"/><rect x="214.26" width="2.33" height="8.3" fill="#041b02"/><rect x="216.29" width="2.33" height="8.3" fill="#041f02"/><rect x="218.31" width="2.33" height="8.3" fill="#0b3d05"/><rect x="220.34" width="2.33" height="8.3" fill="#041b02"/><rect x="222.36" width="2.33" height="8.3" fill="#052103"/><rect x="224.39" width="2.33" height="8.3" fill="#340404"/><rect x="226.41" width="2.33" height="8.3" fill="#000500"/><rect x="228.44" width="2.33" height="8.3" fill="#000600"/><rect x="230.47" width="2.33" height="8.3" fill="#1b0102"/><rect x="232.49" width="2.33" height="8.3" fill="#010000"/><rect x="234.52" width="2.33" height="8.3" fill="#180102"/><rect x="236.54" width="2.33" height="8.3" fill="#2c0303"/><rect x="238.57" width="2.33" height="8.3" fill="#090000"/><rect x="240.60" width="2.33" height="8.3" fill="#010b01"/><rect x="242.62" width="2.33" height="8.3" fill="#010c01"/><rect x="244.65" width="2.33" height="8.3" fill="#060000"/><rect x="246.67" width="2.33" height="8.3" fill="#031802"/><rect x="248.70" width="2.33" height="8.3" fill="#021301"/><rect x="250.73" width="2.33" height="8.3" fill="#1b0102"/><rect x="252.75" width="2.33" height="8.3" fill="#062603"/><rect x="254.78" width="2.33" height="8.3" fill="#260203"/><rect x="256.80" width="2.33" height="8.3" fill="#010a01"/><rect x="258.83" width="2.33" height="8.3" fill="#270303"/><rect x="260.86" width="2.33" height="8.3" fill="#0a3a05"/><rect x="262.88" width="2.33" height="8.3" fill="#2a0303"/><rect x="264.91" width="2.33" height="8.3" fill="#230203"/><rect x="266.93" width="2.33" height="8.3" fill="#052403"/><rect x="268.96" width="2.33" height="8.3" fill="#000000"/><rect x="270.99" width="2.33" height="8.3" fill="#041a02"/><rect x="273.01" width="2.33" height="8.3" fill="#120101"/><rect x="275.04" width="2.33" height="8.3" fill="#010c01"/><rect x="277.06" width="2.33" height="8.3" fill="#000500"/><rect x="279.09" width="2.33" height="8.3" fill="#280303"/><rect x="281.11" width="2.33" height="8.3" fill="#052303"/><rect x="283.14" width="2.33" height="8.3" fill="#031602"/><rect x="285.17" width="2.33" height="8.3" fill="#010a01"/><rect x="287.19" width="2.33" height="8.3" fill="#000700"/><rect x="289.22" width="2.33" height="8.3" fill="#080000"/><rect x="291.24" width="2.33" height="8.3" fill="#072b03"/><rect x="293.27" width="2.33" height="8.3" fill="#0c0001"/><rect x="295.30" width="2.33" height="8.3" fill="#000200"/><rect x="297.32" width="2.33" height="8.3" fill="#270203"/><rect x="299.35" width="2.33" height="8.3" fill="#010000"/><rect x="301.37" width="2.33" height="8.3" fill="#180102"/><rect x="303.40" width="2.33" height="8.3" fill="#1e0202"/><rect x="305.43" width="2.33" height="8.3" fill="#0a0000"/><rect x="307.45" width="2.33" height="8.3" fill="#021001"/><rect x="309.48" width="2.33" height="8.3" fill="#280303"/><rect x="311.50" width="2.33" height="8.3" fill="#000700"/><rect x="313.53" width="2.33" height="8.3" fill="#0a0000"/><rect x="315.56" width="2.33" height="8.3" fill="#140101"/><rect x="317.58" width="2.33" height="8.3" fill="#000700"/><rect x="319.61" width="2.33" height="8.3" fill="#020e01"/><rect x="321.63" width="2.33" height="8.3" fill="#1e0202"/><rect x="323.66" width="2.33" height="8.3" fill="#041a02"/><rect x="325.69" width="2.33" height="8.3" fill="#000000"/><rect x="327.71" width="2.33" height="8.3" fill="#010b01"/><rect x="329.74" width="2.33" height="8.3" fill="#000300"/><rect x="331.76" width="2.33" height="8.3" fill="#0f0001"/><rect x="333.79" width="2.33" height="8.3" fill="#210202"/><rect x="335.81" width="2.33" height="8.3" fill="#220203"/><rect x="337.84" width="2.33" height="8.3" fill="#050000"/><rect x="339.87" width="2.33" height="8.3" fill="#010800"/><rect x="341.89" width="2.33" height="8.3" fill="#031402"/><rect x="343.92" width="2.33" height="8.3" fill="#0d4806"/><rect x="345.94" width="2.33" height="8.3" fill="#000600"/><rect x="347.97" width="2.33" height="8.3" fill="#031702"/><rect x="350.00" width="2.33" height="8.3" fill="#052303"/><rect x="352.02" width="2.33" height="8.3" fill="#010000"/><rect x="354.05" width="2.33" height="8.3" fill="#270303"/><rect x="356.07" width="2.33" height="8.3" fill="#031502"/><rect x="358.10" width="2.33" height="8.3" fill="#000000"/><rect x="360.13" width="2.33" height="8.3" fill="#000600"/><rect x="362.15" width="2.33" height="8.3" fill="#000200"/><rect x="364.18" width="2.33" height="8.3" fill="#000000"/><rect x="366.20" width="2.33" height="8.3" fill="#052303"/><rect x="368.23" width="2.33" height="8.3" fill="#120101"/><rect x="370.26" width="2.33" height="8.3" fill="#080000"/><rect x="372.28" width="2.33" height="8.3" fill="#0a0000"/><rect x="374.31" width="2.33" height="8.3" fill="#031502"/><rect x="376.33" width="2.33" height="8.3" fill="#062703"/><rect x="378.36" width="2.33" height="8.3" fill="#020000"/><rect x="380.39" width="2.33" height="8.3" fill="#070000"/><rect x="382.41" width="2.33" height="8.3" fill="#0a0000"/><rect x="384.44" width="2.33" height="8.3" fill="#125c07"/><rect x="386.46" width="2.33" height="8.3" fill="#100101"/><rect x="388.49" width="2.33" height="8.3" fill="#050000"/><rect x="390.51" width="2.33" height="8.3" fill="#020e01"/><rect x="392.54" width="2.33" height="8.3" fill="#000500"/><rect x="394.57" width="2.33" height="8.3" fill="#080000"/><rect x="396.59" width="2.33" height="8.3" fill="#031502"/><rect x="398.62" width="2.33" height="8.3" fill="#000500"/><rect x="400.64" width="2.33" height="8.3" fill="#000700"/><rect x="402.67" width="2.33" height="8.3" fill="#110101"/><rect x="404.70" width="2.33" height="8.3" fill="#150101"/><rect x="406.72" width="2.33" height="8.3" fill="#370404"/><rect x="408.75" width="2.33" height="8.3" fill="#120101"/><rect x="410.77" width="2.33" height="8.3" fill="#021201"/></g><g transform="translate(0 145.82)"><rect x="194.00" width="2.33" height="8.3" fill="#051f03"/><rect x="196.03" width="2.33" height="8.3" fill="#000200"/><rect x="198.05" width="2.33" height="8.3" fill="#010800"/><rect x="200.08" width="2.33" height="8.3" fill="#000100"/><rect x="202.10" width="4.35" height="8.3" fill="#041a02"/><rect x="206.16" width="2.33" height="8.3" fill="#083104"/><rect x="208.18" width="2.33" height="8.3" fill="#072b04"/><rect x="210.21" width="2.33" height="8.3" fill="#031402"/><rect x="212.23" width="2.33" height="8.3" fill="#010900"/><rect x="214.26" width="2.33" height="8.3" fill="#052103"/><rect x="216.29" width="2.33" height="8.3" fill="#093705"/><rect x="218.31" width="2.33" height="8.3" fill="#0b4005"/><rect x="220.34" width="2.33" height="8.3" fill="#031402"/><rect x="222.36" width="2.33" height="8.3" fill="#000500"/><rect x="224.39" width="2.33" height="8.3" fill="#052303"/><rect x="226.41" width="2.33" height="8.3" fill="#062703"/><rect x="228.44" width="2.33" height="8.3" fill="#020000"/><rect x="230.47" width="2.33" height="8.3" fill="#010b01"/><rect x="232.49" width="2.33" height="8.3" fill="#1d0202"/><rect x="234.52" width="2.33" height="8.3" fill="#030000"/><rect x="236.54" width="2.33" height="8.3" fill="#041e02"/><rect x="238.57" width="2.33" height="8.3" fill="#020000"/><rect x="240.60" width="2.33" height="8.3" fill="#030000"/><rect x="242.62" width="2.33" height="8.3" fill="#1a0102"/><rect x="244.65" width="2.33" height="8.3" fill="#0e4c06"/><rect x="246.67" width="2.33" height="8.3" fill="#020000"/><rect x="248.70" width="2.33" height="8.3" fill="#150101"/><rect x="250.73" width="2.33" height="8.3" fill="#1b0102"/><rect x="252.75" width="2.33" height="8.3" fill="#000700"/><rect x="254.78" width="2.33" height="8.3" fill="#110101"/><rect x="256.80" width="2.33" height="8.3" fill="#093304"/><rect x="258.83" width="2.33" height="8.3" fill="#060000"/><rect x="260.86" width="2.33" height="8.3" fill="#140101"/><rect x="262.88" width="2.33" height="8.3" fill="#030000"/><rect x="264.91" width="2.33" height="8.3" fill="#010000"/><rect x="266.93" width="2.33" height="8.3" fill="#010900"/><rect x="268.96" width="2.33" height="8.3" fill="#040000"/><rect x="270.99" width="2.33" height="8.3" fill="#010d01"/><rect x="273.01" width="2.33" height="8.3" fill="#410505"/><rect x="275.04" width="4.35" height="8.3" fill="#140101"/><rect x="279.09" width="2.33" height="8.3" fill="#320304"/><rect x="281.11" width="2.33" height="8.3" fill="#070000"/><rect x="283.14" width="2.33" height="8.3" fill="#030000"/><rect x="285.17" width="2.33" height="8.3" fill="#320404"/><rect x="287.19" width="2.33" height="8.3" fill="#031602"/><rect x="289.22" width="2.33" height="8.3" fill="#060000"/><rect x="291.24" width="2.33" height="8.3" fill="#041c02"/><rect x="293.27" width="2.33" height="8.3" fill="#010b01"/><rect x="295.30" width="2.33" height="8.3" fill="#230203"/><rect x="297.32" width="2.33" height="8.3" fill="#020000"/><rect x="299.35" width="2.33" height="8.3" fill="#021201"/><rect x="301.37" width="2.33" height="8.3" fill="#0b0001"/><rect x="303.40" width="2.33" height="8.3" fill="#000700"/><rect x="305.43" width="2.33" height="8.3" fill="#190102"/><rect x="307.45" width="2.33" height="8.3" fill="#000600"/><rect x="309.48" width="2.33" height="8.3" fill="#060000"/><rect x="311.50" width="2.33" height="8.3" fill="#021201"/><rect x="313.53" width="2.33" height="8.3" fill="#080000"/><rect x="315.56" width="2.33" height="8.3" fill="#062803"/><rect x="317.58" width="2.33" height="8.3" fill="#240203"/><rect x="319.61" width="2.33" height="8.3" fill="#000600"/><rect x="321.63" width="2.33" height="8.3" fill="#031502"/><rect x="323.66" width="2.33" height="8.3" fill="#150101"/><rect x="325.69" width="2.33" height="8.3" fill="#010b01"/><rect x="327.71" width="2.33" height="8.3" fill="#072c04"/><rect x="329.74" width="2.33" height="8.3" fill="#160101"/><rect x="331.76" width="2.33" height="8.3" fill="#010000"/><rect x="333.79" width="2.33" height="8.3" fill="#000300"/><rect x="335.81" width="2.33" height="8.3" fill="#220202"/><rect x="337.84" width="2.33" height="8.3" fill="#170102"/><rect x="339.87" width="2.33" height="8.3" fill="#010900"/><rect x="341.89" width="2.33" height="8.3" fill="#010a01"/><rect x="343.92" width="2.33" height="8.3" fill="#000700"/><rect x="345.94" width="2.33" height="8.3" fill="#000000"/><rect x="347.97" width="2.33" height="8.3" fill="#010c01"/><rect x="350.00" width="2.33" height="8.3" fill="#2e0303"/><rect x="352.02" width="2.33" height="8.3" fill="#093604"/><rect x="354.05" width="2.33" height="8.3" fill="#090000"/><rect x="356.07" width="2.33" height="8.3" fill="#010b01"/><rect x="358.10" width="2.33" height="8.3" fill="#320304"/><rect x="360.13" width="2.33" height="8.3" fill="#300304"/><rect x="362.15" width="2.33" height="8.3" fill="#010900"/><rect x="364.18" width="2.33" height="8.3" fill="#051f02"/><rect x="366.20" width="2.33" height="8.3" fill="#093304"/><rect x="368.23" width="2.33" height="8.3" fill="#0a3805"/><rect x="370.26" width="2.33" height="8.3" fill="#200202"/><rect x="372.28" width="2.33" height="8.3" fill="#072c04"/><rect x="374.31" width="2.33" height="8.3" fill="#130101"/><rect x="376.33" width="2.33" height="8.3" fill="#080000"/><rect x="378.36" width="2.33" height="8.3" fill="#020e01"/><rect x="380.39" width="2.33" height="8.3" fill="#041b02"/><rect x="382.41" width="2.33" height="8.3" fill="#010000"/><rect x="384.44" width="2.33" height="8.3" fill="#020f01"/><rect x="386.46" width="2.33" height="8.3" fill="#020000"/><rect x="388.49" width="2.33" height="8.3" fill="#000000"/><rect x="390.51" width="2.33" height="8.3" fill="#110101"/><rect x="392.54" width="2.33" height="8.3" fill="#031502"/><rect x="394.57" width="2.33" height="8.3" fill="#0b0001"/><rect x="396.59" width="2.33" height="8.3" fill="#060000"/><rect x="398.62" width="2.33" height="8.3" fill="#031802"/><rect x="400.64" width="2.33" height="8.3" fill="#000600"/><rect x="402.67" width="2.33" height="8.3" fill="#070000"/><rect x="404.70" width="2.33" height="8.3" fill="#170102"/><rect x="406.72" width="2.33" height="8.3" fill="#000000"/><rect x="408.75" width="2.33" height="8.3" fill="#105407"/><rect x="410.77" width="2.33" height="8.3" fill="#110101"/></g><g transform="translate(0 153.86)"><rect x="194.00" width="2.33" height="8.3" fill="#040000"/><rect x="196.03" width="2.33" height="8.3" fill="#020e01"/><rect x="198.05" width="2.33" height="8.3" fill="#041b02"/><rect x="200.08" width="2.33" height="8.3" fill="#010b01"/><rect x="202.10" width="2.33" height="8.3" fill="#010901"/><rect x="204.13" width="2.33" height="8.3" fill="#052003"/><rect x="206.16" width="2.33" height="8.3" fill="#041e02"/><rect x="208.18" width="2.33" height="8.3" fill="#052303"/><rect x="210.21" width="2.33" height="8.3" fill="#000000"/><rect x="212.23" width="2.33" height="8.3" fill="#120101"/><rect x="214.26" width="2.33" height="8.3" fill="#031802"/><rect x="216.29" width="2.33" height="8.3" fill="#010d01"/><rect x="218.31" width="2.33" height="8.3" fill="#0b3e05"/><rect x="220.34" width="2.33" height="8.3" fill="#000000"/><rect x="222.36" width="2.33" height="8.3" fill="#021101"/><rect x="224.39" width="2.33" height="8.3" fill="#0f0001"/><rect x="226.41" width="2.33" height="8.3" fill="#000000"/><rect x="228.44" width="2.33" height="8.3" fill="#1e0202"/><rect x="230.47" width="2.33" height="8.3" fill="#0f0001"/><rect x="232.49" width="2.33" height="8.3" fill="#100101"/><rect x="234.52" width="2.33" height="8.3" fill="#031702"/><rect x="236.54" width="2.33" height="8.3" fill="#060000"/><rect x="238.57" width="2.33" height="8.3" fill="#010d01"/><rect x="240.60" width="2.33" height="8.3" fill="#070000"/><rect x="242.62" width="2.33" height="8.3" fill="#020f01"/><rect x="244.65" width="2.33" height="8.3" fill="#000200"/><rect x="246.67" width="2.33" height="8.3" fill="#070000"/><rect x="248.70" width="2.33" height="8.3" fill="#000600"/><rect x="250.73" width="2.33" height="8.3" fill="#220202"/><rect x="252.75" width="2.33" height="8.3" fill="#031502"/><rect x="254.78" width="2.33" height="8.3" fill="#3c0505"/><rect x="256.80" width="2.33" height="8.3" fill="#010901"/><rect x="258.83" width="2.33" height="8.3" fill="#0c0001"/><rect x="260.86" width="2.33" height="8.3" fill="#0e4e06"/><rect x="262.88" width="2.33" height="8.3" fill="#1e0202"/><rect x="264.91" width="2.33" height="8.3" fill="#062803"/><rect x="266.93" width="2.33" height="8.3" fill="#010c01"/><rect x="268.96" width="2.33" height="8.3" fill="#080000"/><rect x="270.99" width="2.33" height="8.3" fill="#060000"/><rect x="273.01" width="2.33" height="8.3" fill="#050000"/><rect x="275.04" width="2.33" height="8.3" fill="#120101"/><rect x="277.06" width="2.33" height="8.3" fill="#1b0102"/><rect x="279.09" width="2.33" height="8.3" fill="#000300"/><rect x="281.11" width="2.33" height="8.3" fill="#000100"/><rect x="283.14" width="2.33" height="8.3" fill="#052003"/><rect x="285.17" width="2.33" height="8.3" fill="#130101"/><rect x="287.19" width="2.33" height="8.3" fill="#150101"/><rect x="289.22" width="2.33" height="8.3" fill="#250203"/><rect x="291.24" width="2.33" height="8.3" fill="#020000"/><rect x="293.27" width="2.33" height="8.3" fill="#0c0001"/><rect x="295.30" width="2.33" height="8.3" fill="#041e02"/><rect x="297.32" width="2.33" height="8.3" fill="#000700"/><rect x="299.35" width="2.33" height="8.3" fill="#040000"/><rect x="301.37" width="2.33" height="8.3" fill="#020e01"/><rect x="303.40" width="2.33" height="8.3" fill="#0b3e05"/><rect x="305.43" width="2.33" height="8.3" fill="#2f0304"/><rect x="307.45" width="2.33" height="8.3" fill="#000600"/><rect x="309.48" width="2.33" height="8.3" fill="#072903"/><rect x="311.50" width="2.33" height="8.3" fill="#000300"/><rect x="313.53" width="2.33" height="8.3" fill="#090000"/><rect x="315.56" width="2.33" height="8.3" fill="#093404"/><rect x="317.58" width="2.33" height="8.3" fill="#1b0102"/><rect x="319.61" width="2.33" height="8.3" fill="#093705"/><rect x="321.63" width="2.33" height="8.3" fill="#000600"/><rect x="323.66" width="2.33" height="8.3" fill="#040000"/><rect x="325.69" width="2.33" height="8.3" fill="#0a3905"/><rect x="327.71" width="2.33" height="8.3" fill="#370404"/><rect x="329.74" width="2.33" height="8.3" fill="#0b0001"/><rect x="331.76" width="2.33" height="8.3" fill="#090000"/><rect x="333.79" width="2.33" height="8.3" fill="#310304"/><rect x="335.81" width="2.33" height="8.3" fill="#260203"/><rect x="337.84" width="2.33" height="8.3" fill="#150101"/><rect x="339.87" width="2.33" height="8.3" fill="#090000"/><rect x="341.89" width="2.33" height="8.3" fill="#0a3805"/><rect x="343.92" width="2.33" height="8.3" fill="#083204"/><rect x="345.94" width="2.33" height="8.3" fill="#020e01"/><rect x="347.97" width="2.33" height="8.3" fill="#000200"/><rect x="350.00" width="2.33" height="8.3" fill="#410505"/><rect x="352.02" width="2.33" height="8.3" fill="#000000"/><rect x="354.05" width="2.33" height="8.3" fill="#000700"/><rect x="356.07" width="2.33" height="8.3" fill="#041e02"/><rect x="358.10" width="2.33" height="8.3" fill="#0e0001"/><rect x="360.13" width="2.33" height="8.3" fill="#090000"/><rect x="362.15" width="2.33" height="8.3" fill="#021201"/><rect x="364.18" width="2.33" height="8.3" fill="#290303"/><rect x="366.20" width="2.33" height="8.3" fill="#072c04"/><rect x="368.23" width="2.33" height="8.3" fill="#083004"/><rect x="370.26" width="2.33" height="8.3" fill="#140101"/><rect x="372.28" width="2.33" height="8.3" fill="#031802"/><rect x="374.31" width="2.33" height="8.3" fill="#000700"/><rect x="376.33" width="2.33" height="8.3" fill="#140101"/><rect x="378.36" width="2.33" height="8.3" fill="#250203"/><rect x="380.39" width="2.33" height="8.3" fill="#041a02"/><rect x="382.41" width="2.33" height="8.3" fill="#051f02"/><rect x="384.44" width="2.33" height="8.3" fill="#0d0001"/><rect x="386.46" width="2.33" height="8.3" fill="#030000"/><rect x="388.49" width="2.33" height="8.3" fill="#0f5207"/><rect x="390.51" width="2.33" height="8.3" fill="#010800"/><rect x="392.54" width="2.33" height="8.3" fill="#0a0000"/><rect x="394.57" width="2.33" height="8.3" fill="#020e01"/><rect x="396.59" width="2.33" height="8.3" fill="#2c0303"/><rect x="398.62" width="2.33" height="8.3" fill="#010d01"/><rect x="400.64" width="2.33" height="8.3" fill="#000000"/><rect x="402.67" width="2.33" height="8.3" fill="#0a0000"/><rect x="404.70" width="2.33" height="8.3" fill="#1d0202"/><rect x="406.72" width="2.33" height="8.3" fill="#031702"/><rect x="408.75" width="2.33" height="8.3" fill="#020000"/><rect x="410.77" width="2.33" height="8.3" fill="#010000"/></g><g transform="translate(0 161.91)"><rect x="194.00" width="2.33" height="8.3" fill="#010900"/><rect x="196.03" width="2.33" height="8.3" fill="#010000"/><rect x="198.05" width="2.33" height="8.3" fill="#062703"/><rect x="200.08" width="2.33" height="8.3" fill="#020e01"/><rect x="202.10" width="2.33" height="8.3" fill="#031602"/><rect x="204.13" width="2.33" height="8.3" fill="#083204"/><rect x="206.16" width="2.33" height="8.3" fill="#052003"/><rect x="208.18" width="2.33" height="8.3" fill="#0c4305"/><rect x="210.21" width="2.33" height="8.3" fill="#062803"/><rect x="212.23" width="2.33" height="8.3" fill="#041e02"/><rect x="214.26" width="2.33" height="8.3" fill="#052303"/><rect x="216.29" width="2.33" height="8.3" fill="#062803"/><rect x="218.31" width="2.33" height="8.3" fill="#0f5107"/><rect x="220.34" width="2.33" height="8.3" fill="#0d4806"/><rect x="222.36" width="2.33" height="8.3" fill="#020e01"/><rect x="224.39" width="2.33" height="8.3" fill="#340404"/><rect x="226.41" width="2.33" height="8.3" fill="#052203"/><rect x="228.44" width="2.33" height="8.3" fill="#021001"/><rect x="230.47" width="2.33" height="8.3" fill="#060000"/><rect x="232.49" width="2.33" height="8.3" fill="#160101"/><rect x="234.52" width="2.33" height="8.3" fill="#1d0202"/><rect x="236.54" width="2.33" height="8.3" fill="#170102"/><rect x="238.57" width="2.33" height="8.3" fill="#050000"/><rect x="240.60" width="2.33" height="8.3" fill="#000000"/><rect x="242.62" width="2.33" height="8.3" fill="#000500"/><rect x="244.65" width="2.33" height="8.3" fill="#2b0303"/><rect x="246.67" width="2.33" height="8.3" fill="#0e4c06"/><rect x="248.70" width="2.33" height="8.3" fill="#010b01"/><rect x="250.73" width="2.33" height="8.3" fill="#300304"/><rect x="252.75" width="2.33" height="8.3" fill="#280303"/><rect x="254.78" width="2.33" height="8.3" fill="#030000"/><rect x="256.80" width="2.33" height="8.3" fill="#320304"/><rect x="258.83" width="2.33" height="8.3" fill="#1f0202"/><rect x="260.86" width="2.33" height="8.3" fill="#020000"/><rect x="262.88" width="2.33" height="8.3" fill="#000000"/><rect x="264.91" width="2.33" height="8.3" fill="#080000"/><rect x="266.93" width="2.33" height="8.3" fill="#0b4005"/><rect x="268.96" width="2.33" height="8.3" fill="#110101"/><rect x="270.99" width="2.33" height="8.3" fill="#030000"/><rect x="273.01" width="2.33" height="8.3" fill="#000500"/><rect x="275.04" width="2.33" height="8.3" fill="#010b01"/><rect x="277.06" width="2.33" height="8.3" fill="#090000"/><rect x="279.09" width="2.33" height="8.3" fill="#010a01"/><rect x="281.11" width="2.33" height="8.3" fill="#000300"/><rect x="283.14" width="2.33" height="8.3" fill="#000500"/><rect x="285.17" width="2.33" height="8.3" fill="#390404"/><rect x="287.19" width="2.33" height="8.3" fill="#090000"/><rect x="289.22" width="2.33" height="8.3" fill="#0f0001"/><rect x="291.24" width="2.33" height="8.3" fill="#000000"/><rect x="293.27" width="2.33" height="8.3" fill="#070000"/><rect x="295.30" width="2.33" height="8.3" fill="#000300"/><rect x="297.32" width="2.33" height="8.3" fill="#020000"/><rect x="299.35" width="2.33" height="8.3" fill="#010d01"/><rect x="301.37" width="2.33" height="8.3" fill="#2d0303"/><rect x="303.40" width="2.33" height="8.3" fill="#010901"/><rect x="305.43" width="2.33" height="8.3" fill="#000300"/><rect x="307.45" width="2.33" height="8.3" fill="#062803"/><rect x="309.48" width="2.33" height="8.3" fill="#1c0102"/><rect x="311.50" width="2.33" height="8.3" fill="#310304"/><rect x="313.53" width="2.33" height="8.3" fill="#000000"/><rect x="315.56" width="2.33" height="8.3" fill="#010000"/><rect x="317.58" width="2.33" height="8.3" fill="#000200"/><rect x="319.61" width="2.33" height="8.3" fill="#031402"/><rect x="321.63" width="2.33" height="8.3" fill="#052203"/><rect x="323.66" width="2.33" height="8.3" fill="#052303"/><rect x="325.69" width="2.33" height="8.3" fill="#000200"/><rect x="327.71" width="2.33" height="8.3" fill="#031402"/><rect x="329.74" width="2.33" height="8.3" fill="#030000"/><rect x="331.76" width="2.33" height="8.3" fill="#031602"/><rect x="333.79" width="2.33" height="8.3" fill="#240203"/><rect x="335.81" width="2.33" height="8.3" fill="#1e0202"/><rect x="337.84" width="2.33" height="8.3" fill="#031402"/><rect x="339.87" width="2.33" height="8.3" fill="#170102"/><rect x="341.89" width="2.33" height="8.3" fill="#240203"/><rect x="343.92" width="2.33" height="8.3" fill="#0d0001"/><rect x="345.94" width="2.33" height="8.3" fill="#050000"/><rect x="347.97" width="2.33" height="8.3" fill="#000300"/><rect x="350.00" width="2.33" height="8.3" fill="#000100"/><rect x="352.02" width="2.33" height="8.3" fill="#031502"/><rect x="354.05" width="2.33" height="8.3" fill="#021301"/><rect x="356.07" width="4.35" height="8.3" fill="#000600"/><rect x="360.13" width="2.33" height="8.3" fill="#010c01"/><rect x="362.15" width="2.33" height="8.3" fill="#2b0303"/><rect x="364.18" width="2.33" height="8.3" fill="#1c0102"/><rect x="366.20" width="2.33" height="8.3" fill="#130101"/><rect x="368.23" width="2.33" height="8.3" fill="#0e0001"/><rect x="370.26" width="2.33" height="8.3" fill="#1e0202"/><rect x="372.28" width="2.33" height="8.3" fill="#0d4806"/><rect x="374.31" width="2.33" height="8.3" fill="#040000"/><rect x="376.33" width="2.33" height="8.3" fill="#310304"/><rect x="378.36" width="2.33" height="8.3" fill="#020e01"/><rect x="380.39" width="2.33" height="8.3" fill="#1f0202"/><rect x="382.41" width="2.33" height="8.3" fill="#260203"/><rect x="384.44" width="2.33" height="8.3" fill="#1a0102"/><rect x="386.46" width="2.33" height="8.3" fill="#0a0000"/><rect x="388.49" width="2.33" height="8.3" fill="#072a03"/><rect x="390.51" width="2.33" height="8.3" fill="#260203"/><rect x="392.54" width="2.33" height="8.3" fill="#220202"/><rect x="394.57" width="2.33" height="8.3" fill="#000200"/><rect x="396.59" width="2.33" height="8.3" fill="#030000"/><rect x="398.62" width="2.33" height="8.3" fill="#000600"/><rect x="400.64" width="2.33" height="8.3" fill="#000500"/><rect x="402.67" width="2.33" height="8.3" fill="#030000"/><rect x="404.70" width="2.33" height="8.3" fill="#320404"/><rect x="406.72" width="2.33" height="8.3" fill="#2d0303"/><rect x="408.75" width="2.33" height="8.3" fill="#150101"/><rect x="410.77" width="2.33" height="8.3" fill="#0f0001"/></g><g transform="translate(0 169.95)"><rect x="194.00" width="2.33" height="8.3" fill="#051f02"/><rect x="196.03" width="2.33" height="8.3" fill="#0d4906"/><rect x="198.05" width="2.33" height="8.3" fill="#010b01"/><rect x="200.08" width="2.33" height="8.3" fill="#010a01"/><rect x="202.10" width="2.33" height="8.3" fill="#010800"/><rect x="204.13" width="2.33" height="8.3" fill="#031802"/><rect x="206.16" width="2.33" height="8.3" fill="#082e04"/><rect x="208.18" width="2.33" height="8.3" fill="#062503"/><rect x="210.21" width="2.33" height="8.3" fill="#010d01"/><rect x="212.23" width="2.33" height="8.3" fill="#062503"/><rect x="214.26" width="2.33" height="8.3" fill="#072d04"/><rect x="216.29" width="2.33" height="8.3" fill="#021101"/><rect x="218.31" width="2.33" height="8.3" fill="#0e4c06"/><rect x="220.34" width="2.33" height="8.3" fill="#125d08"/><rect x="222.36" width="2.33" height="8.3" fill="#031402"/><rect x="224.39" width="2.33" height="8.3" fill="#070000"/><rect x="226.41" width="2.33" height="8.3" fill="#0e4d06"/><rect x="228.44" width="2.33" height="8.3" fill="#000000"/><rect x="230.47" width="2.33" height="8.3" fill="#100101"/><rect x="232.49" width="2.33" height="8.3" fill="#2f0304"/><rect x="234.52" width="2.33" height="8.3" fill="#020000"/><rect x="236.54" width="2.33" height="8.3" fill="#1f0202"/><rect x="238.57" width="2.33" height="8.3" fill="#140101"/><rect x="240.60" width="2.33" height="8.3" fill="#1c0102"/><rect x="242.62" width="2.33" height="8.3" fill="#050000"/><rect x="244.65" width="2.33" height="8.3" fill="#100101"/><rect x="246.67" width="4.35" height="8.3" fill="#031502"/><rect x="250.73" width="2.33" height="8.3" fill="#0a0001"/><rect x="252.75" width="2.33" height="8.3" fill="#020000"/><rect x="254.78" width="2.33" height="8.3" fill="#650908"/><rect x="256.80" width="2.33" height="8.3" fill="#0b0001"/><rect x="258.83" width="2.33" height="8.3" fill="#072903"/><rect x="260.86" width="2.33" height="8.3" fill="#000000"/><rect x="262.88" width="2.33" height="8.3" fill="#1b0102"/><rect x="264.91" width="2.33" height="8.3" fill="#120101"/><rect x="266.93" width="2.33" height="8.3" fill="#060000"/><rect x="268.96" width="2.33" height="8.3" fill="#010c01"/><rect x="270.99" width="2.33" height="8.3" fill="#140101"/><rect x="273.01" width="2.33" height="8.3" fill="#0b0001"/><rect x="275.04" width="2.33" height="8.3" fill="#1e0202"/><rect x="277.06" width="2.33" height="8.3" fill="#093604"/><rect x="279.09" width="2.33" height="8.3" fill="#010800"/><rect x="281.11" width="2.33" height="8.3" fill="#0a0000"/><rect x="283.14" width="2.33" height="8.3" fill="#130101"/><rect x="285.17" width="2.33" height="8.3" fill="#0b0001"/><rect x="287.19" width="2.33" height="8.3" fill="#110101"/><rect x="289.22" width="2.33" height="8.3" fill="#010000"/><rect x="291.24" width="2.33" height="8.3" fill="#000000"/><rect x="293.27" width="2.33" height="8.3" fill="#190102"/><rect x="295.30" width="2.33" height="8.3" fill="#010900"/><rect x="297.32" width="2.33" height="8.3" fill="#0a3b05"/><rect x="299.35" width="2.33" height="8.3" fill="#000600"/><rect x="301.37" width="2.33" height="8.3" fill="#031802"/><rect x="303.40" width="2.33" height="8.3" fill="#000600"/><rect x="305.43" width="2.33" height="8.3" fill="#062703"/><rect x="307.45" width="2.33" height="8.3" fill="#080000"/><rect x="309.48" width="2.33" height="8.3" fill="#010b01"/><rect x="311.50" width="2.33" height="8.3" fill="#1c0102"/><rect x="313.53" width="2.33" height="8.3" fill="#130101"/><rect x="315.56" width="2.33" height="8.3" fill="#1a7e0a"/><rect x="317.58" width="2.33" height="8.3" fill="#062603"/><rect x="319.61" width="2.33" height="8.3" fill="#0f5207"/><rect x="321.63" width="2.33" height="8.3" fill="#160102"/><rect x="323.66" width="2.33" height="8.3" fill="#020f01"/><rect x="325.69" width="2.33" height="8.3" fill="#000300"/><rect x="327.71" width="2.33" height="8.3" fill="#000700"/><rect x="329.74" width="2.33" height="8.3" fill="#000000"/><rect x="331.76" width="2.33" height="8.3" fill="#041d02"/><rect x="333.79" width="2.33" height="8.3" fill="#0e0001"/><rect x="335.81" width="2.33" height="8.3" fill="#010d01"/><rect x="337.84" width="2.33" height="8.3" fill="#180102"/><rect x="339.87" width="2.33" height="8.3" fill="#050000"/><rect x="341.89" width="2.33" height="8.3" fill="#020e01"/><rect x="343.92" width="2.33" height="8.3" fill="#020f01"/><rect x="345.94" width="2.33" height="8.3" fill="#052003"/><rect x="347.97" width="2.33" height="8.3" fill="#010000"/><rect x="350.00" width="2.33" height="8.3" fill="#000000"/><rect x="352.02" width="2.33" height="8.3" fill="#230203"/><rect x="354.05" width="2.33" height="8.3" fill="#000400"/><rect x="356.07" width="2.33" height="8.3" fill="#0d0001"/><rect x="358.10" width="2.33" height="8.3" fill="#190102"/><rect x="360.13" width="2.33" height="8.3" fill="#010d01"/><rect x="362.15" width="2.33" height="8.3" fill="#021101"/><rect x="364.18" width="2.33" height="8.3" fill="#041a02"/><rect x="366.20" width="2.33" height="8.3" fill="#105307"/><rect x="368.23" width="2.33" height="8.3" fill="#041e02"/><rect x="370.26" width="2.33" height="8.3" fill="#000000"/><rect x="372.28" width="2.33" height="8.3" fill="#041902"/><rect x="374.31" width="2.33" height="8.3" fill="#050000"/><rect x="376.33" width="2.33" height="8.3" fill="#041d02"/><rect x="378.36" width="2.33" height="8.3" fill="#000400"/><rect x="380.39" width="2.33" height="8.3" fill="#0c0001"/><rect x="382.41" width="2.33" height="8.3" fill="#370404"/><rect x="384.44" width="2.33" height="8.3" fill="#010000"/><rect x="386.46" width="2.33" height="8.3" fill="#070000"/><rect x="388.49" width="2.33" height="8.3" fill="#021301"/><rect x="390.51" width="2.33" height="8.3" fill="#041e02"/><rect x="392.54" width="2.33" height="8.3" fill="#280303"/><rect x="394.57" width="2.33" height="8.3" fill="#041c02"/><rect x="396.59" width="2.33" height="8.3" fill="#070000"/><rect x="398.62" width="2.33" height="8.3" fill="#130101"/><rect x="400.64" width="2.33" height="8.3" fill="#100101"/><rect x="402.67" width="2.33" height="8.3" fill="#320404"/><rect x="404.70" width="2.33" height="8.3" fill="#2c0303"/><rect x="406.72" width="2.33" height="8.3" fill="#0f0001"/><rect x="408.75" width="2.33" height="8.3" fill="#031802"/><rect x="410.77" width="2.33" height="8.3" fill="#000300"/></g><g transform="translate(0 178.00)"><rect x="194.00" width="2.33" height="8.3" fill="#031702"/><rect x="196.03" width="2.33" height="8.3" fill="#041e02"/><rect x="198.05" width="2.33" height="8.3" fill="#062803"/><rect x="200.08" width="2.33" height="8.3" fill="#062903"/><rect x="202.10" width="2.33" height="8.3" fill="#010901"/><rect x="204.13" width="2.33" height="8.3" fill="#041c02"/><rect x="206.16" width="2.33" height="8.3" fill="#062503"/><rect x="208.18" width="2.33" height="8.3" fill="#052303"/><rect x="210.21" width="2.33" height="8.3" fill="#041d02"/><rect x="212.23" width="2.33" height="8.3" fill="#000400"/><rect x="214.26" width="2.33" height="8.3" fill="#0b4005"/><rect x="216.29" width="2.33" height="8.3" fill="#0a3a05"/><rect x="218.31" width="2.33" height="8.3" fill="#0a3905"/><rect x="220.34" width="2.33" height="8.3" fill="#0c4205"/><rect x="222.36" width="2.33" height="8.3" fill="#021101"/><rect x="224.39" width="2.33" height="8.3" fill="#0e0001"/><rect x="226.41" width="2.33" height="8.3" fill="#020f01"/><rect x="228.44" width="2.33" height="8.3" fill="#0f0001"/><rect x="230.47" width="2.33" height="8.3" fill="#052103"/><rect x="232.49" width="2.33" height="8.3" fill="#080000"/><rect x="234.52" width="2.33" height="8.3" fill="#051f03"/><rect x="236.54" width="2.33" height="8.3" fill="#0a3805"/><rect x="238.57" width="2.33" height="8.3" fill="#060000"/><rect x="240.60" width="2.33" height="8.3" fill="#0c0001"/><rect x="242.62" width="2.33" height="8.3" fill="#000000"/><rect x="244.65" width="2.33" height="8.3" fill="#0c0001"/><rect x="246.67" width="2.33" height="8.3" fill="#0d0001"/><rect x="248.70" width="2.33" height="8.3" fill="#120101"/><rect x="250.73" width="2.33" height="8.3" fill="#0d0001"/><rect x="252.75" width="2.33" height="8.3" fill="#041b02"/><rect x="254.78" width="2.33" height="8.3" fill="#280303"/><rect x="256.80" width="2.33" height="8.3" fill="#1c0102"/><rect x="258.83" width="2.33" height="8.3" fill="#040000"/><rect x="260.86" width="2.33" height="8.3" fill="#1b0102"/><rect x="262.88" width="2.33" height="8.3" fill="#000400"/><rect x="264.91" width="2.33" height="8.3" fill="#240203"/><rect x="266.93" width="2.33" height="8.3" fill="#051f02"/><rect x="268.96" width="2.33" height="8.3" fill="#000400"/><rect x="270.99" width="2.33" height="8.3" fill="#0f0001"/><rect x="273.01" width="2.33" height="8.3" fill="#260203"/><rect x="275.04" width="2.33" height="8.3" fill="#050000"/><rect x="277.06" width="2.33" height="8.3" fill="#031402"/><rect x="279.09" width="2.33" height="8.3" fill="#0c0001"/><rect x="281.11" width="2.33" height="8.3" fill="#020f01"/><rect x="283.14" width="2.33" height="8.3" fill="#1c0202"/><rect x="285.17" width="2.33" height="8.3" fill="#2c0303"/><rect x="287.19" width="2.33" height="8.3" fill="#060000"/><rect x="289.22" width="2.33" height="8.3" fill="#4d0606"/><rect x="291.24" width="2.33" height="8.3" fill="#000400"/><rect x="293.27" width="2.33" height="8.3" fill="#190102"/><rect x="295.30" width="2.33" height="8.3" fill="#150101"/><rect x="297.32" width="2.33" height="8.3" fill="#062903"/><rect x="299.35" width="2.33" height="8.3" fill="#000100"/><rect x="301.37" width="2.33" height="8.3" fill="#010c01"/><rect x="303.40" width="2.33" height="8.3" fill="#0a3805"/><rect x="305.43" width="2.33" height="8.3" fill="#290303"/><rect x="307.45" width="2.33" height="8.3" fill="#093705"/><rect x="309.48" width="2.33" height="8.3" fill="#000700"/><rect x="311.50" width="2.33" height="8.3" fill="#041a02"/><rect x="313.53" width="2.33" height="8.3" fill="#190102"/><rect x="315.56" width="2.33" height="8.3" fill="#020e01"/><rect x="317.58" width="2.33" height="8.3" fill="#031702"/><rect x="319.61" width="2.33" height="8.3" fill="#1b0102"/><rect x="321.63" width="2.33" height="8.3" fill="#060000"/><rect x="323.66" width="2.33" height="8.3" fill="#010b01"/><rect x="325.69" width="2.33" height="8.3" fill="#010d01"/><rect x="327.71" width="2.33" height="8.3" fill="#1f0202"/><rect x="329.74" width="2.33" height="8.3" fill="#130101"/><rect x="331.76" width="2.33" height="8.3" fill="#060000"/><rect x="333.79" width="2.33" height="8.3" fill="#280303"/><rect x="335.81" width="2.33" height="8.3" fill="#160102"/><rect x="337.84" width="2.33" height="8.3" fill="#021101"/><rect x="339.87" width="2.33" height="8.3" fill="#000000"/><rect x="341.89" width="2.33" height="8.3" fill="#000500"/><rect x="343.92" width="2.33" height="8.3" fill="#020f01"/><rect x="345.94" width="2.33" height="8.3" fill="#072b03"/><rect x="347.97" width="2.33" height="8.3" fill="#0b0001"/><rect x="350.00" width="2.33" height="8.3" fill="#010000"/><rect x="352.02" width="2.33" height="8.3" fill="#130101"/><rect x="354.05" width="2.33" height="8.3" fill="#041a02"/><rect x="356.07" width="2.33" height="8.3" fill="#021101"/><rect x="358.10" width="2.33" height="8.3" fill="#030000"/><rect x="360.13" width="2.33" height="8.3" fill="#350404"/><rect x="362.15" width="2.33" height="8.3" fill="#072c04"/><rect x="364.18" width="2.33" height="8.3" fill="#0b0001"/><rect x="366.20" width="2.33" height="8.3" fill="#093504"/><rect x="368.23" width="2.33" height="8.3" fill="#000600"/><rect x="370.26" width="2.33" height="8.3" fill="#062403"/><rect x="372.28" width="2.33" height="8.3" fill="#021301"/><rect x="374.31" width="2.33" height="8.3" fill="#000200"/><rect x="376.33" width="2.33" height="8.3" fill="#0c0001"/><rect x="378.36" width="2.33" height="8.3" fill="#031402"/><rect x="380.39" width="2.33" height="8.3" fill="#041c02"/><rect x="382.41" width="2.33" height="8.3" fill="#000600"/><rect x="384.44" width="2.33" height="8.3" fill="#3f0505"/><rect x="386.46" width="2.33" height="8.3" fill="#031802"/><rect x="388.49" width="2.33" height="8.3" fill="#052103"/><rect x="390.51" width="2.33" height="8.3" fill="#270203"/><rect x="392.54" width="2.33" height="8.3" fill="#090000"/><rect x="394.57" width="2.33" height="8.3" fill="#000500"/><rect x="396.59" width="2.33" height="8.3" fill="#0e0001"/><rect x="398.62" width="2.33" height="8.3" fill="#000200"/><rect x="400.64" width="2.33" height="8.3" fill="#0d0001"/><rect x="402.67" width="2.33" height="8.3" fill="#000300"/><rect x="404.70" width="2.33" height="8.3" fill="#030000"/><rect x="406.72" width="2.33" height="8.3" fill="#010a01"/><rect x="408.75" width="2.33" height="8.3" fill="#330404"/><rect x="410.77" width="2.33" height="8.3" fill="#041d02"/></g></g><path d="M194.00,29.17 H177.70 V37.21 H194.00" fill="none" stroke="#1a1a1a" stroke-width="0.95"/><path d="M194.00,21.12 H162.20 V33.19 H177.70" fill="none" stroke="#1a1a1a" stroke-width="0.95"/><path d="M194.00,45.26 H163.80 V53.30 H194.00" fill="none" stroke="#1a1a1a" stroke-width="0.95"/><path d="M194.00,69.39 H165.50 V77.44 H194.00" fill="none" stroke="#1a1a1a" stroke-width="0.95"/><path d="M194.00,61.35 H161.20 V73.41 H165.50" fill="none" stroke="#1a1a1a" stroke-width="0.95"/><path d="M163.80,49.28 H160.20 V67.38 H161.20" fill="none" stroke="#1a1a1a" stroke-width="0.95"/><path d="M194.00,101.57 H163.20 V109.62 H194.00" fill="none" stroke="#1a1a1a" stroke-width="0.95"/><path d="M194.00,93.53 H159.30 V105.59 H163.20" fill="none" stroke="#1a1a1a" stroke-width="0.95"/><path d="M194.00,85.48 H158.20 V99.56 H159.30" fill="none" stroke="#1a1a1a" stroke-width="0.95"/><path d="M160.20,58.33 H156.50 V92.52 H158.20" fill="none" stroke="#1a1a1a" stroke-width="0.95"/><path d="M162.20,27.16 H154.50 V75.43 H156.50" fill="none" stroke="#1a1a1a" stroke-width="0.95"/><path d="M194.00,141.80 H170.30 V149.84 H194.00" fill="none" stroke="#1a1a1a" stroke-width="0.95"/><path d="M194.00,133.75 H167.90 V145.82 H170.30" fill="none" stroke="#1a1a1a" stroke-width="0.95"/><path d="M194.00,125.71 H165.70 V139.79 H167.90" fill="none" stroke="#1a1a1a" stroke-width="0.95"/><path d="M194.00,117.66 H162.60 V132.75 H165.70" fill="none" stroke="#1a1a1a" stroke-width="0.95"/><path d="M194.00,173.98 H170.60 V182.02 H194.00" fill="none" stroke="#1a1a1a" stroke-width="0.95"/><path d="M194.00,165.93 H160.40 V178.00 H170.60" fill="none" stroke="#1a1a1a" stroke-width="0.95"/><path d="M194.00,157.89 H155.30 V171.97 H160.40" fill="none" stroke="#1a1a1a" stroke-width="0.95"/><path d="M162.60,125.20 H151.40 V164.93 H155.30" fill="none" stroke="#1a1a1a" stroke-width="0.95"/><path d="M154.50,51.29 H147.60 V145.07 H151.40" fill="none" stroke="#1a1a1a" stroke-width="0.95"/><text x="414.90" y="21.22" font-size="6.6" fill="#F01818" font-weight="bold" dominant-baseline="central">LINC-AC092535.5</text><text x="414.90" y="29.27" font-size="6.7" dominant-baseline="central">MIR4435−2HG</text><text x="414.90" y="37.31" font-size="6.7" dominant-baseline="central">CYTOR</text><text x="414.90" y="45.36" font-size="6.7" dominant-baseline="central">TUG1</text><text x="414.90" y="53.40" font-size="6.7" dominant-baseline="central">HAGLR</text><text x="414.90" y="61.45" font-size="6.7" dominant-baseline="central">DUXAP8</text><text x="414.90" y="69.49" font-size="6.7" dominant-baseline="central">AGAP2−AS1</text><text x="414.90" y="77.54" font-size="6.7" dominant-baseline="central">AC092718.4</text><text x="414.90" y="85.58" font-size="6.7" dominant-baseline="central">HCP5</text><text x="414.90" y="93.63" font-size="6.7" dominant-baseline="central">LINC00174</text><text x="414.90" y="101.67" font-size="6.7" dominant-baseline="central">LINC00294</text><text x="414.90" y="109.72" font-size="6.7" dominant-baseline="central">AC026356.1</text><text x="414.90" y="117.76" font-size="6.7" dominant-baseline="central">AC093010.3</text><text x="414.90" y="125.81" font-size="6.7" dominant-baseline="central">AC135050.6</text><text x="414.90" y="133.85" font-size="6.7" dominant-baseline="central">AC025154.2</text><text x="414.90" y="141.90" font-size="6.7" dominant-baseline="central">ZNF667−AS1</text><text x="414.90" y="149.94" font-size="6.7" dominant-baseline="central">OSER1−DT</text><text x="414.90" y="157.99" font-size="6.7" dominant-baseline="central">AL355312.4</text><text x="414.90" y="166.03" font-size="6.7" dominant-baseline="central">AC055854.1</text><text x="414.90" y="174.08" font-size="6.7" dominant-baseline="central">EPB41L4A−AS1</text><text x="414.90" y="182.12" font-size="6.7" dominant-baseline="central">SNHG29</text><text x="414.90" y="11.30" font-size="11.1" dominant-baseline="central">TYPE</text><text x="470.50" y="11.60" font-size="11.1" dominant-baseline="central">TYPE</text><rect x="472.30" y="21.40" width="12.50" height="12.00" fill="#8C1210"/><rect x="472.30" y="33.30" width="12.50" height="12.20" fill="#5E7D3B"/><text x="487.70" y="26.80" font-size="11.3" dominant-baseline="central">Cancer</text><text x="487.70" y="39.60" font-size="11.3" dominant-baseline="central">Normal</text><defs><linearGradient id="cbar" x1="0" y1="0" x2="0" y2="1"><stop offset="0" stop-color="#3CFF14"/><stop offset="0.25" stop-color="#2A9A10"/><stop offset="0.5" stop-color="#000"/><stop offset="0.75" stop-color="#7A0E08"/><stop offset="1" stop-color="#FF2414"/></linearGradient></defs><rect x="474.00" y="55.40" width="8.90" height="129.60" fill="url(#cbar)"/><text x="493.40" y="58.90" font-size="8.8" text-anchor="end" dominant-baseline="central">6</text><text x="493.40" y="79.58" font-size="8.8" text-anchor="end" dominant-baseline="central">4</text><text x="493.40" y="100.27" font-size="8.8" text-anchor="end" dominant-baseline="central">2</text><text x="493.40" y="120.95" font-size="8.8" text-anchor="end" dominant-baseline="central">0</text><text x="493.40" y="141.63" font-size="8.8" text-anchor="end" dominant-baseline="central">-2</text><text x="493.40" y="162.32" font-size="8.8" text-anchor="end" dominant-baseline="central">-4</text><text x="493.40" y="183.00" font-size="8.8" text-anchor="end" dominant-baseline="central">-6</text><rect x="550.20" y="14.80" width="131.20" height="14.40" fill="#fff" stroke="#333" stroke-width="1.0"/><text x="555.40" y="22.20" font-size="11" dominant-baseline="central" textLength="30.6" lengthAdjust="spacingAndGlyphs">TCGA</text><text x="592.60" y="22.20" font-size="11" dominant-baseline="central">(</text><text x="598.00" y="22.20" font-size="11" dominant-baseline="central" textLength="79.6" lengthAdjust="spacingAndGlyphs">HNSC) Dateset</text><line x1="597.40" y1="47.20" x2="597.40" y2="159.50" stroke="#111" stroke-width="1.5"/><line x1="596.80" y1="159.00" x2="680.30" y2="159.00" stroke="#111" stroke-width="1.5"/><line x1="592.70" y1="159.00" x2="597.40" y2="159.00" stroke="#111" stroke-width="1.3"/><text x="589.40" y="159.30" font-size="11.3" text-anchor="end" dominant-baseline="central">0</text><line x1="592.70" y1="136.75" x2="597.40" y2="136.75" stroke="#111" stroke-width="1.3"/><text x="589.40" y="137.05" font-size="11.3" text-anchor="end" dominant-baseline="central">100</text><line x1="592.70" y1="114.50" x2="597.40" y2="114.50" stroke="#111" stroke-width="1.3"/><text x="589.40" y="114.80" font-size="11.3" text-anchor="end" dominant-baseline="central">200</text><line x1="592.70" y1="92.25" x2="597.40" y2="92.25" stroke="#111" stroke-width="1.3"/><text x="589.40" y="92.55" font-size="11.3" text-anchor="end" dominant-baseline="central">300</text><line x1="592.70" y1="70.00" x2="597.40" y2="70.00" stroke="#111" stroke-width="1.3"/><text x="589.40" y="70.30" font-size="11.3" text-anchor="end" dominant-baseline="central">400</text><line x1="592.70" y1="47.75" x2="597.40" y2="47.75" stroke="#111" stroke-width="1.3"/><text x="589.40" y="48.05" font-size="11.3" text-anchor="end" dominant-baseline="central">500</text><line x1="620.80" y1="159.00" x2="620.80" y2="164.50" stroke="#111" stroke-width="1.3"/><line x1="656.30" y1="159.00" x2="656.30" y2="164.50" stroke="#111" stroke-width="1.3"/><text x="620.40" y="172.00" font-size="11.4" text-anchor="middle" dominant-baseline="central">Normal</text><text x="658.70" y="172.00" font-size="11.4" text-anchor="middle" dominant-baseline="central">Tumor</text><path d="M620.30,56.40 V62.00 M620.30,59.20 H654.00 M654.00,56.40 V62.00" fill="none" stroke="#111" stroke-width="1.3"/><text x="637.95" y="61.50" font-size="12.7" text-anchor="middle">***</text><text x="534.30" y="104.50" font-size="11.3" text-anchor="middle" dominant-baseline="central" transform="rotate(-90 534.30 104.50)">Expression of</text><text x="548.40" y="103.50" font-size="11.3" text-anchor="middle" dominant-baseline="central" transform="rotate(-90 548.40 103.50)">LINC-AC092535.5</text><text x="561.70" y="100.00" font-size="11.3" text-anchor="middle" dominant-baseline="central" transform="rotate(-90 561.70 100.00)" textLength="30" lengthAdjust="spacing">(log2)</text><path d="M609.1,160.2 V154.6 L613.5,154.0 L616.5,151.5 L617.6,146.5 L619.6,142.5 L620.8,141 L622,142.5 L624.0,146.5 L625.1,151.5 L628.1,154.0 L632.9,154.6 V160.2 Z" fill="#1414F0" stroke="none" stroke-width="0"/><circle cx="620.80" cy="141.30" r="1.40" fill="#1414F0"/><line x1="615.00" y1="151.60" x2="626.60" y2="151.60" stroke="#1414F0" stroke-width="1"/><rect x="622.27" y="153.03" width="2.00" height="2.00" fill="#1414F0"/><rect x="629.98" y="155.53" width="2.00" height="2.00" fill="#1414F0"/><rect x="629.51" y="154.73" width="2.00" height="2.00" fill="#1414F0"/><rect x="619.69" y="144.42" width="2.00" height="2.00" fill="#1414F0"/><rect x="623.23" y="157.68" width="2.00" height="2.00" fill="#1414F0"/><rect x="610.90" y="157.06" width="2.00" height="2.00" fill="#1414F0"/><rect x="617.66" y="150.80" width="2.00" height="2.00" fill="#1414F0"/><rect x="620.49" y="151.88" width="2.00" height="2.00" fill="#1414F0"/><rect x="618.91" y="144.19" width="2.00" height="2.00" fill="#1414F0"/><rect x="622.40" y="148.05" width="2.00" height="2.00" fill="#1414F0"/><rect x="611.97" y="155.10" width="2.00" height="2.00" fill="#1414F0"/><rect x="611.49" y="155.56" width="2.00" height="2.00" fill="#1414F0"/><rect x="616.01" y="152.95" width="2.00" height="2.00" fill="#1414F0"/><rect x="620.92" y="144.03" width="2.00" height="2.00" fill="#1414F0"/><rect x="618.26" y="147.04" width="2.00" height="2.00" fill="#1414F0"/><rect x="628.37" y="158.25" width="2.00" height="2.00" fill="#1414F0"/><rect x="622.73" y="148.19" width="2.00" height="2.00" fill="#1414F0"/><rect x="621.45" y="151.82" width="2.00" height="2.00" fill="#1414F0"/><rect x="622.17" y="146.97" width="2.00" height="2.00" fill="#1414F0"/><rect x="630.53" y="154.01" width="2.00" height="2.00" fill="#1414F0"/><rect x="615.17" y="156.96" width="2.00" height="2.00" fill="#1414F0"/><rect x="617.40" y="149.24" width="2.00" height="2.00" fill="#1414F0"/><rect x="617.76" y="146.11" width="2.00" height="2.00" fill="#1414F0"/><rect x="620.47" y="148.37" width="2.00" height="2.00" fill="#1414F0"/><rect x="620.34" y="144.05" width="2.00" height="2.00" fill="#1414F0"/><rect x="618.48" y="148.90" width="2.00" height="2.00" fill="#1414F0"/><rect x="619.36" y="155.87" width="2.00" height="2.00" fill="#1414F0"/><rect x="619.67" y="148.58" width="2.00" height="2.00" fill="#1414F0"/><rect x="609.61" y="154.22" width="2.00" height="2.00" fill="#1414F0"/><rect x="608.83" y="158.14" width="2.00" height="2.00" fill="#1414F0"/><rect x="627.73" y="154.87" width="2.00" height="2.00" fill="#1414F0"/><rect x="620.72" y="144.26" width="2.00" height="2.00" fill="#1414F0"/><rect x="620.37" y="149.31" width="2.00" height="2.00" fill="#1414F0"/><rect x="618.39" y="144.13" width="2.00" height="2.00" fill="#1414F0"/><rect x="622.12" y="146.62" width="2.00" height="2.00" fill="#1414F0"/><rect x="621.15" y="146.85" width="2.00" height="2.00" fill="#1414F0"/><rect x="629.97" y="157.48" width="2.00" height="2.00" fill="#1414F0"/><rect x="618.78" y="148.99" width="2.00" height="2.00" fill="#1414F0"/><rect x="622.30" y="151.61" width="2.00" height="2.00" fill="#1414F0"/><rect x="620.86" y="145.57" width="2.00" height="2.00" fill="#1414F0"/><path d="M645,160.4 V149.8 L653.1,149.5 L654.4,140 L654.8,130 L655.1,121 L657.8,121 L658.1,130 L658.6,140 L660.1,149.5 L668.7,149.8 V160.4 Z" fill="#F03C3C" stroke="none" stroke-width="0"/><line x1="650.50" y1="139.40" x2="662.50" y2="139.40" stroke="#F03C3C" stroke-width="1"/><rect x="655.30" y="68.70" width="2.50" height="2.40" fill="#F03C3C"/><rect x="655.30" y="73.40" width="2.50" height="2.40" fill="#F03C3C"/><rect x="655.30" y="87.80" width="2.50" height="2.40" fill="#F03C3C"/><rect x="655.30" y="101.80" width="2.50" height="2.40" fill="#F03C3C"/><rect x="655.30" y="105.50" width="2.50" height="2.40" fill="#F03C3C"/><rect x="655.30" y="108.80" width="2.50" height="2.40" fill="#F03C3C"/><rect x="655.30" y="111.40" width="2.50" height="2.40" fill="#F03C3C"/><rect x="655.30" y="114.00" width="2.50" height="2.40" fill="#F03C3C"/><rect x="655.30" y="116.30" width="2.50" height="2.40" fill="#F03C3C"/><rect x="664.49" y="156.57" width="2.00" height="2.00" fill="#F03C3C"/><rect x="666.65" y="147.44" width="2.00" height="2.00" fill="#F03C3C"/><rect x="651.52" y="148.09" width="2.00" height="2.00" fill="#F03C3C"/><rect x="665.95" y="154.33" width="2.00" height="2.00" fill="#F03C3C"/><rect x="666.10" y="151.08" width="2.00" height="2.00" fill="#F03C3C"/><rect x="650.81" y="153.54" width="2.00" height="2.00" fill="#F03C3C"/><rect x="647.44" y="150.80" width="2.00" height="2.00" fill="#F03C3C"/><rect x="646.72" y="147.94" width="2.00" height="2.00" fill="#F03C3C"/><rect x="667.92" y="155.27" width="2.00" height="2.00" fill="#F03C3C"/><rect x="644.21" y="148.94" width="2.00" height="2.00" fill="#F03C3C"/><rect x="656.34" y="158.84" width="2.00" height="2.00" fill="#F03C3C"/><rect x="648.93" y="151.87" width="2.00" height="2.00" fill="#F03C3C"/><rect x="663.66" y="154.13" width="2.00" height="2.00" fill="#F03C3C"/><rect x="653.54" y="152.47" width="2.00" height="2.00" fill="#F03C3C"/><rect x="665.90" y="147.67" width="2.00" height="2.00" fill="#F03C3C"/><rect x="655.34" y="147.39" width="2.00" height="2.00" fill="#F03C3C"/><rect x="646.26" y="157.06" width="2.00" height="2.00" fill="#F03C3C"/><rect x="666.74" y="155.78" width="2.00" height="2.00" fill="#F03C3C"/><rect x="662.70" y="154.56" width="2.00" height="2.00" fill="#F03C3C"/><rect x="653.86" y="148.28" width="2.00" height="2.00" fill="#F03C3C"/><rect x="664.12" y="148.79" width="2.00" height="2.00" fill="#F03C3C"/><rect x="654.33" y="150.54" width="2.00" height="2.00" fill="#F03C3C"/><rect x="664.31" y="158.99" width="2.00" height="2.00" fill="#F03C3C"/><rect x="654.34" y="158.71" width="2.00" height="2.00" fill="#F03C3C"/><rect x="661.24" y="152.86" width="2.00" height="2.00" fill="#F03C3C"/><rect x="650.28" y="152.75" width="2.00" height="2.00" fill="#F03C3C"/><rect x="646.66" y="151.85" width="2.00" height="2.00" fill="#F03C3C"/><rect x="667.71" y="151.52" width="2.00" height="2.00" fill="#F03C3C"/><rect x="658.67" y="158.52" width="2.00" height="2.00" fill="#F03C3C"/><rect x="651.46" y="152.99" width="2.00" height="2.00" fill="#F03C3C"/><line x1="69.50" y1="204.50" x2="69.50" y2="324.60" stroke="#111" stroke-width="1.5"/><line x1="64.20" y1="324.00" x2="188.40" y2="324.00" stroke="#111" stroke-width="1.5"/><line x1="65.00" y1="324.00" x2="69.50" y2="324.00" stroke="#111" stroke-width="1.3"/><text x="61.60" y="324.00" font-size="10.8" text-anchor="end" dominant-baseline="central">0</text><line x1="65.00" y1="284.30" x2="69.50" y2="284.30" stroke="#111" stroke-width="1.3"/><text x="61.60" y="284.30" font-size="10.8" text-anchor="end" dominant-baseline="central">500</text><line x1="65.00" y1="244.60" x2="69.50" y2="244.60" stroke="#111" stroke-width="1.3"/><text x="61.60" y="244.60" font-size="10.8" text-anchor="end" dominant-baseline="central">1000</text><line x1="65.00" y1="204.90" x2="69.50" y2="204.90" stroke="#111" stroke-width="1.3"/><text x="61.60" y="204.90" font-size="10.8" text-anchor="end" dominant-baseline="central">1500</text><line x1="82.20" y1="324.00" x2="82.20" y2="329.00" stroke="#111" stroke-width="1.3"/><line x1="100.90" y1="324.00" x2="100.90" y2="329.00" stroke="#111" stroke-width="1.3"/><line x1="119.70" y1="324.00" x2="119.70" y2="329.00" stroke="#111" stroke-width="1.3"/><line x1="138.40" y1="324.00" x2="138.40" y2="329.00" stroke="#111" stroke-width="1.3"/><line x1="157.20" y1="324.00" x2="157.20" y2="329.00" stroke="#111" stroke-width="1.3"/><line x1="176.00" y1="324.00" x2="176.00" y2="329.00" stroke="#111" stroke-width="1.3"/><circle cx="79.00" cy="324.00" r="2.50" fill="#35F010"/><circle cx="82.20" cy="324.00" r="2.50" fill="#35F010"/><circle cx="85.40" cy="324.00" r="2.50" fill="#35F010"/><rect x="94.80" y="265.24" width="12.00" height="58.76" fill="#fff" stroke="#F07377" stroke-width="1.1"/><path d="M97.90,252.80 H103.90 M100.90,252.80 V277.30 M97.90,277.30 H103.90" stroke="#F07377" stroke-width="0.9" fill="none" opacity="0.75"/><circle cx="100.90" cy="251.60" r="2.20" fill="#F07377"/><circle cx="97.50" cy="270.00" r="2.20" fill="#F07377"/><circle cx="104.20" cy="274.60" r="2.20" fill="#F07377"/><rect x="113.90" y="259.69" width="11.60" height="64.31" fill="#fff" stroke="#5050F0" stroke-width="1.1"/><path d="M116.60,233.00 H122.60 M119.60,233.00 V285.10 M116.60,285.10 H122.60" stroke="#5050F0" stroke-width="0.9" fill="none" opacity="0.75"/><rect x="117.40" y="227.50" width="4.40" height="4.40" fill="#5050F0"/><rect x="114.60" y="270.90" width="4.40" height="4.40" fill="#5050F0"/><rect x="120.50" y="273.60" width="4.40" height="4.40" fill="#5050F0"/><path d="M133.30,325.60 L135.60,321.60 L137.90,325.60 Z" fill="#F0A048" stroke="none" stroke-width="0"/><path d="M136.40,325.60 L138.70,321.60 L141.00,325.60 Z" fill="#F0A048" stroke="none" stroke-width="0"/><path d="M139.50,325.60 L141.80,321.60 L144.10,325.60 Z" fill="#F0A048" stroke="none" stroke-width="0"/><rect x="151.20" y="316.20" width="12.40" height="7.80" fill="#fff" stroke="#E8609C" stroke-width="1.1"/><path d="M154.40,313.00 H160.40 M157.40,313.00 V320.00 M154.40,320.00 H160.40" stroke="#E8609C" stroke-width="0.9" fill="none" opacity="0.75"/><path d="M154.00,309.90 L156.50,312.40 L154.00,314.90 L151.50,312.40 Z" fill="#E8609C" stroke="none" stroke-width="0"/><path d="M157.70,314.90 L160.20,317.40 L157.70,319.90 L155.20,317.40 Z" fill="#E8609C" stroke="none" stroke-width="0"/><path d="M161.50,315.50 L164.00,318.00 L161.50,320.50 L159.00,318.00 Z" fill="#E8609C" stroke="none" stroke-width="0"/><rect x="170.10" y="283.30" width="11.80" height="40.70" fill="#fff" stroke="#3CD83C" stroke-width="1.1"/><path d="M173.00,267.10 H179.00 M176.00,267.10 V298.20 M173.00,298.20 H179.00" stroke="#3CD83C" stroke-width="0.9" fill="none" opacity="0.75"/><polygon points="176.10,262.50 176.84,264.28 178.76,264.43 177.30,265.69 177.75,267.57 176.10,266.56 174.45,267.57 174.90,265.69 173.44,264.43 175.36,264.28" fill="#3CD83C"/><polygon points="172.60,288.20 173.34,289.98 175.26,290.13 173.80,291.39 174.25,293.27 172.60,292.26 170.95,293.27 171.40,291.39 169.94,290.13 171.86,289.98" fill="#3CD83C"/><polygon points="179.20,289.20 179.94,290.98 181.86,291.13 180.40,292.39 180.85,294.27 179.20,293.26 177.55,294.27 178.00,292.39 176.54,291.13 178.46,290.98" fill="#3CD83C"/><path d="M79.80,240.30 V246.70 M79.80,243.50 H99.60 M99.60,240.30 V246.70" fill="none" stroke="#111" stroke-width="1.3"/><text x="90.50" y="245.80" font-size="12.7" text-anchor="middle">**</text><path d="M79.80,217.90 V224.30 M79.80,221.10 H119.50 M119.50,217.90 V224.30" fill="none" stroke="#111" stroke-width="1.3"/><text x="100.45" y="223.80" font-size="12.7" text-anchor="middle">*</text><path d="M79.80,208.70 V215.10 M79.80,211.90 H139.60 M139.60,208.70 V215.10" fill="none" stroke="#111" stroke-width="1.3"/><text x="110.50" y="215.00" font-size="12.7" text-anchor="middle">**</text><path d="M79.80,199.60 V206.00 M79.80,202.80 H158.00 M158.00,199.60 V206.00" fill="none" stroke="#111" stroke-width="1.3"/><text x="119.70" y="205.40" font-size="12.7" text-anchor="middle">**</text><path d="M79.80,190.20 V196.60 M79.80,193.40 H179.10 M179.10,190.20 V196.60" fill="none" stroke="#111" stroke-width="1.3"/><text x="130.25" y="195.20" font-size="12.7" text-anchor="middle">**</text><text x="64.90" y="354.60" font-size="11" transform="rotate(-45 64.90 354.60)">NP69</text><text x="86.40" y="354.40" font-size="11" transform="rotate(-45 86.40 354.40)">CNE1</text><text x="108.30" y="354.60" font-size="11" transform="rotate(-45 108.30 354.60)">CNE2</text><text x="129.50" y="354.60" font-size="11" transform="rotate(-45 129.50 354.60)">5-8F</text><text x="148.00" y="354.80" font-size="11" transform="rotate(-45 148.00 354.80)">6-10B</text><text x="165.50" y="355.20" font-size="11" transform="rotate(-45 165.50 355.20)">C666-1</text><text x="13.60" y="266.50" font-size="10.9" text-anchor="middle" dominant-baseline="central" transform="rotate(-90 13.60 266.50)">Relative expression</text><text x="27.70" y="265.00" font-size="11.1" text-anchor="middle" dominant-baseline="central" transform="rotate(-90 27.70 265.00)">of LINC-AC092535.5</text><rect x="251.30" y="230.60" width="156.40" height="14.80" fill="#fff" stroke="#222" stroke-width="1.2"/><text x="255.60" y="238.60" font-size="11.4" dominant-baseline="central" textLength="148.8" lengthAdjust="spacingAndGlyphs">Complementary Base Pairing</text><rect x="227.20" y="257.40" width="217.40" height="10.00" fill="#5AB6E4" stroke="#111" stroke-width="1.3"/><rect x="227.20" y="314.40" width="217.40" height="10.00" fill="#5AB6E4" stroke="#111" stroke-width="1.3"/><text x="291.20" y="262.70" font-size="11.4" dominant-baseline="central" textLength="32.4" lengthAdjust="spacingAndGlyphs">mRNA</text><text x="333.90" y="262.70" font-size="11.4" dominant-baseline="central" textLength="41" lengthAdjust="spacingAndGlyphs">MICAL2</text><text x="265.90" y="319.90" font-size="11.4" dominant-baseline="central" textLength="38.5" lengthAdjust="spacingAndGlyphs">lncRNA</text><text x="311.60" y="319.90" font-size="11.4" dominant-baseline="central" textLength="92" lengthAdjust="spacingAndGlyphs">LINC-AC092535.5</text><text x="227.40" y="252.20" font-size="10.5" dominant-baseline="central">5’</text><text x="445.20" y="251.30" font-size="10.5" text-anchor="end" dominant-baseline="central">3’</text><text x="227.40" y="330.10" font-size="10.5" dominant-baseline="central">3’</text><text x="445.20" y="330.60" font-size="10.5" text-anchor="end" dominant-baseline="central">5’</text><line x1="233.80" y1="269.60" x2="233.80" y2="276.80" stroke="#111" stroke-width="1.6"/><line x1="234.70" y1="303.80" x2="234.70" y2="312.20" stroke="#111" stroke-width="1.6"/><text x="233.80" y="283.70" font-size="11.4" text-anchor="middle" fill="#222" dominant-baseline="central">U</text><text x="234.20" y="297.50" font-size="11.4" text-anchor="middle" fill="#F2602E" dominant-baseline="central">A</text><circle cx="234.00" cy="290.60" r="1.30" fill="#111"/><line x1="245.10" y1="269.60" x2="245.10" y2="276.80" stroke="#111" stroke-width="1.6"/><line x1="246.00" y1="303.80" x2="246.00" y2="312.20" stroke="#111" stroke-width="1.6"/><text x="245.10" y="283.70" font-size="11.4" text-anchor="middle" fill="#222" dominant-baseline="central">U</text><text x="245.50" y="297.50" font-size="11.4" text-anchor="middle" fill="#F645F6" dominant-baseline="central">C</text><line x1="257.00" y1="269.60" x2="257.00" y2="276.80" stroke="#111" stroke-width="1.6"/><line x1="257.90" y1="303.80" x2="257.90" y2="312.20" stroke="#111" stroke-width="1.6"/><text x="257.00" y="283.70" font-size="11.4" text-anchor="middle" fill="#222" dominant-baseline="central">U</text><text x="257.40" y="297.50" font-size="11.4" text-anchor="middle" fill="#F2602E" dominant-baseline="central">A</text><circle cx="257.20" cy="290.60" r="1.30" fill="#111"/><line x1="268.80" y1="269.60" x2="268.80" y2="276.80" stroke="#111" stroke-width="1.6"/><line x1="269.70" y1="303.80" x2="269.70" y2="312.20" stroke="#111" stroke-width="1.6"/><text x="268.80" y="283.70" font-size="11.4" text-anchor="middle" fill="#FF2B2B" dominant-baseline="central">G</text><text x="269.20" y="297.50" font-size="11.4" text-anchor="middle" fill="#222" dominant-baseline="central">U</text><line x1="280.70" y1="269.60" x2="280.70" y2="276.80" stroke="#111" stroke-width="1.6"/><line x1="281.60" y1="303.80" x2="281.60" y2="312.20" stroke="#111" stroke-width="1.6"/><text x="280.70" y="283.70" font-size="11.4" text-anchor="middle" fill="#FF2B2B" dominant-baseline="central">G</text><text x="281.10" y="297.50" font-size="11.4" text-anchor="middle" fill="#F645F6" dominant-baseline="central">C</text><circle cx="280.90" cy="290.60" r="1.30" fill="#111"/><line x1="292.40" y1="269.60" x2="292.40" y2="276.80" stroke="#111" stroke-width="1.6"/><line x1="293.30" y1="303.80" x2="293.30" y2="312.20" stroke="#111" stroke-width="1.6"/><text x="292.40" y="283.70" font-size="11.4" text-anchor="middle" fill="#F645F6" dominant-baseline="central">C</text><text x="292.80" y="297.50" font-size="11.4" text-anchor="middle" fill="#FF2B2B" dominant-baseline="central">G</text><circle cx="292.60" cy="290.60" r="1.30" fill="#111"/><line x1="312.60" y1="269.60" x2="312.60" y2="276.80" stroke="#111" stroke-width="1.6"/><line x1="313.50" y1="303.80" x2="313.50" y2="312.20" stroke="#111" stroke-width="1.6"/><text x="312.60" y="283.70" font-size="11.4" text-anchor="middle" fill="#222" dominant-baseline="central">U</text><text x="313.00" y="297.50" font-size="11.4" text-anchor="middle" fill="#F2602E" dominant-baseline="central">A</text><circle cx="312.80" cy="290.60" r="1.30" fill="#111"/><line x1="324.50" y1="269.60" x2="324.50" y2="276.80" stroke="#111" stroke-width="1.6"/><line x1="325.40" y1="303.80" x2="325.40" y2="312.20" stroke="#111" stroke-width="1.6"/><text x="324.50" y="283.70" font-size="11.4" text-anchor="middle" fill="#FF2B2B" dominant-baseline="central">G</text><text x="324.90" y="297.50" font-size="11.4" text-anchor="middle" fill="#F645F6" dominant-baseline="central">C</text><circle cx="324.70" cy="290.60" r="1.30" fill="#111"/><line x1="336.30" y1="269.60" x2="336.30" y2="276.80" stroke="#111" stroke-width="1.6"/><line x1="337.20" y1="303.80" x2="337.20" y2="312.20" stroke="#111" stroke-width="1.6"/><text x="336.30" y="283.70" font-size="11.4" text-anchor="middle" fill="#FF2B2B" dominant-baseline="central">G</text><text x="336.70" y="297.50" font-size="11.4" text-anchor="middle" fill="#F645F6" dominant-baseline="central">C</text><circle cx="336.50" cy="290.60" r="1.30" fill="#111"/><line x1="348.40" y1="269.60" x2="348.40" y2="276.80" stroke="#111" stroke-width="1.6"/><line x1="349.30" y1="303.80" x2="349.30" y2="312.20" stroke="#111" stroke-width="1.6"/><text x="348.40" y="283.70" font-size="11.4" text-anchor="middle" fill="#FF2B2B" dominant-baseline="central">G</text><text x="348.80" y="297.50" font-size="11.4" text-anchor="middle" fill="#F645F6" dominant-baseline="central">C</text><circle cx="348.60" cy="290.60" r="1.30" fill="#111"/><line x1="360.10" y1="269.60" x2="360.10" y2="276.80" stroke="#111" stroke-width="1.6"/><line x1="361.00" y1="303.80" x2="361.00" y2="312.20" stroke="#111" stroke-width="1.6"/><text x="360.10" y="283.70" font-size="11.4" text-anchor="middle" fill="#222" dominant-baseline="central">U</text><text x="360.50" y="297.50" font-size="11.4" text-anchor="middle" fill="#F2602E" dominant-baseline="central">A</text><line x1="371.20" y1="269.60" x2="371.20" y2="276.80" stroke="#111" stroke-width="1.6"/><line x1="372.10" y1="303.80" x2="372.10" y2="312.20" stroke="#111" stroke-width="1.6"/><text x="371.20" y="283.70" font-size="11.4" text-anchor="middle" fill="#F2602E" dominant-baseline="central">A</text><text x="371.60" y="297.50" font-size="11.4" text-anchor="middle" fill="#FF2B2B" dominant-baseline="central">G</text><circle cx="371.40" cy="290.60" r="1.30" fill="#111"/><line x1="382.20" y1="269.60" x2="382.20" y2="276.80" stroke="#111" stroke-width="1.6"/><line x1="383.10" y1="303.80" x2="383.10" y2="312.20" stroke="#111" stroke-width="1.6"/><text x="382.20" y="283.70" font-size="11.4" text-anchor="middle" fill="#F645F6" dominant-baseline="central">C</text><text x="382.60" y="297.50" font-size="11.4" text-anchor="middle" fill="#FF2B2B" dominant-baseline="central">G</text><circle cx="382.40" cy="290.60" r="1.30" fill="#111"/><line x1="392.20" y1="269.60" x2="392.20" y2="276.80" stroke="#111" stroke-width="1.6"/><line x1="393.10" y1="303.80" x2="393.10" y2="312.20" stroke="#111" stroke-width="1.6"/><text x="392.20" y="283.70" font-size="11.4" text-anchor="middle" fill="#F2602E" dominant-baseline="central">A</text><text x="392.60" y="297.50" font-size="11.4" text-anchor="middle" fill="#222" dominant-baseline="central">U</text><circle cx="392.40" cy="290.60" r="1.30" fill="#111"/><line x1="403.20" y1="269.60" x2="403.20" y2="276.80" stroke="#111" stroke-width="1.6"/><line x1="404.10" y1="303.80" x2="404.10" y2="312.20" stroke="#111" stroke-width="1.6"/><text x="403.20" y="283.70" font-size="11.4" text-anchor="middle" fill="#FF2B2B" dominant-baseline="central">G</text><text x="403.60" y="297.50" font-size="11.4" text-anchor="middle" fill="#F645F6" dominant-baseline="central">C</text><circle cx="403.40" cy="290.60" r="1.30" fill="#111"/><line x1="415.30" y1="269.60" x2="415.30" y2="276.80" stroke="#111" stroke-width="1.6"/><line x1="416.20" y1="303.80" x2="416.20" y2="312.20" stroke="#111" stroke-width="1.6"/><text x="415.30" y="283.70" font-size="11.4" text-anchor="middle" fill="#FF2B2B" dominant-baseline="central">G</text><text x="415.70" y="297.50" font-size="11.4" text-anchor="middle" fill="#F645F6" dominant-baseline="central">C</text><circle cx="415.50" cy="290.60" r="1.30" fill="#111"/><line x1="426.90" y1="269.60" x2="426.90" y2="276.80" stroke="#111" stroke-width="1.6"/><line x1="427.80" y1="303.80" x2="427.80" y2="312.20" stroke="#111" stroke-width="1.6"/><text x="426.90" y="283.70" font-size="11.4" text-anchor="middle" fill="#F645F6" dominant-baseline="central">C</text><text x="427.30" y="297.50" font-size="11.4" text-anchor="middle" fill="#FF2B2B" dominant-baseline="central">G</text><circle cx="427.10" cy="290.60" r="1.30" fill="#111"/><line x1="438.60" y1="269.60" x2="438.60" y2="276.80" stroke="#111" stroke-width="1.6"/><line x1="439.50" y1="303.80" x2="439.50" y2="312.20" stroke="#111" stroke-width="1.6"/><text x="438.60" y="283.70" font-size="11.4" text-anchor="middle" fill="#222" dominant-baseline="central">U</text><text x="439.00" y="297.50" font-size="11.4" text-anchor="middle" fill="#F2602E" dominant-baseline="central">A</text><circle cx="438.80" cy="290.60" r="1.30" fill="#111"/><text x="302.50" y="283.70" font-size="10.8" text-anchor="middle" dominant-baseline="central">---</text><text x="303.00" y="297.60" font-size="10.8" text-anchor="middle" dominant-baseline="central">---</text><rect x="532.60" y="205.80" width="121.90" height="16.40" fill="#fff" stroke="#222" stroke-width="1.2"/><text x="535.40" y="214.20" font-size="11.2" dominant-baseline="central" textLength="30.5" lengthAdjust="spacingAndGlyphs">TCGA</text><text x="571.10" y="214.20" font-size="11.2" dominant-baseline="central" textLength="79.9" lengthAdjust="spacingAndGlyphs">Dateset(Tumor)</text><line x1="529.40" y1="234.00" x2="529.40" y2="325.20" stroke="#111" stroke-width="1.5"/><line x1="528.80" y1="324.60" x2="643.80" y2="324.60" stroke="#111" stroke-width="1.5"/><line x1="524.70" y1="324.60" x2="529.40" y2="324.60" stroke="#111" stroke-width="1.3"/><text x="522.40" y="324.60" font-size="11" text-anchor="end" dominant-baseline="central">0</text><line x1="524.70" y1="306.54" x2="529.40" y2="306.54" stroke="#111" stroke-width="1.3"/><text x="522.40" y="306.54" font-size="11" text-anchor="end" dominant-baseline="central">10000</text><line x1="524.70" y1="288.48" x2="529.40" y2="288.48" stroke="#111" stroke-width="1.3"/><text x="522.40" y="288.48" font-size="11" text-anchor="end" dominant-baseline="central">20000</text><line x1="524.70" y1="270.42" x2="529.40" y2="270.42" stroke="#111" stroke-width="1.3"/><text x="522.40" y="270.42" font-size="11" text-anchor="end" dominant-baseline="central">30000</text><line x1="524.70" y1="252.36" x2="529.40" y2="252.36" stroke="#111" stroke-width="1.3"/><text x="522.40" y="252.36" font-size="11" text-anchor="end" dominant-baseline="central">40000</text><line x1="524.70" y1="234.30" x2="529.40" y2="234.30" stroke="#111" stroke-width="1.3"/><text x="522.40" y="234.30" font-size="11" text-anchor="end" dominant-baseline="central">50000</text><line x1="529.40" y1="324.60" x2="529.40" y2="329.40" stroke="#111" stroke-width="1.3"/><text x="529.40" y="337.00" font-size="11" text-anchor="middle" dominant-baseline="central">0</text><line x1="552.30" y1="324.60" x2="552.30" y2="329.40" stroke="#111" stroke-width="1.3"/><text x="552.30" y="337.00" font-size="11" text-anchor="middle" dominant-baseline="central">100</text><line x1="575.20" y1="324.60" x2="575.20" y2="329.40" stroke="#111" stroke-width="1.3"/><text x="575.20" y="337.00" font-size="11" text-anchor="middle" dominant-baseline="central">200</text><line x1="598.10" y1="324.60" x2="598.10" y2="329.40" stroke="#111" stroke-width="1.3"/><text x="598.10" y="337.00" font-size="11" text-anchor="middle" dominant-baseline="central">300</text><line x1="621.00" y1="324.60" x2="621.00" y2="329.40" stroke="#111" stroke-width="1.3"/><text x="621.00" y="337.00" font-size="11" text-anchor="middle" dominant-baseline="central">400</text><line x1="643.90" y1="324.60" x2="643.90" y2="329.40" stroke="#111" stroke-width="1.3"/><text x="643.90" y="337.00" font-size="11" text-anchor="middle" dominant-baseline="central">500</text><text x="590.70" y="349.40" font-size="11.4" text-anchor="middle" dominant-baseline="central" textLength="182" lengthAdjust="spacingAndGlyphs">LINC-AC092535.5 Expression Level</text><text x="465.20" y="282.30" font-size="11.3" text-anchor="middle" dominant-baseline="central" transform="rotate(-90 465.20 282.30)">MICAL2</text><text x="479.00" y="281.00" font-size="11.3" text-anchor="middle" dominant-baseline="central" transform="rotate(-90 479.00 281.00)">Expression Level</text><text x="574.00" y="234.60" font-size="11.2" font-style="italic" dominant-baseline="central">R:0.2507</text><text x="570.40" y="247.80" font-size="11.2" font-style="italic" dominant-baseline="central">P</text><path d="M587.2,244.2 L578.6,247.9 L587.2,251.6" fill="none" stroke="#222" stroke-width="0.9"/><text x="588.70" y="247.80" font-size="11.2" font-style="italic" dominant-baseline="central" textLength="61.3" lengthAdjust="spacingAndGlyphs">0.0001(****)</text><rect x="555.10" y="241.00" width="2.20" height="2.20" fill="#111"/><rect x="542.80" y="276.00" width="2.20" height="2.20" fill="#111"/><rect x="545.80" y="275.70" width="2.20" height="2.20" fill="#111"/><rect x="531.80" y="283.00" width="2.20" height="2.20" fill="#111"/><rect x="534.80" y="283.40" width="2.20" height="2.20" fill="#111"/><rect x="548.40" y="284.10" width="2.20" height="2.20" fill="#111"/><rect x="563.90" y="287.60" width="2.20" height="2.20" fill="#111"/><rect x="576.50" y="298.80" width="2.20" height="2.20" fill="#111"/><rect x="586.60" y="298.50" width="2.20" height="2.20" fill="#111"/><rect x="579.90" y="304.60" width="2.20" height="2.20" fill="#111"/><rect x="581.70" y="306.30" width="2.20" height="2.20" fill="#111"/><rect x="601.00" y="306.70" width="2.20" height="2.20" fill="#111"/><rect x="615.90" y="305.10" width="2.20" height="2.20" fill="#111"/><rect x="574.70" y="317.70" width="2.20" height="2.20" fill="#111"/><rect x="586.10" y="314.20" width="2.20" height="2.20" fill="#111"/><rect x="620.80" y="319.50" width="2.20" height="2.20" fill="#111"/><rect x="536.20" y="290.40" width="2.20" height="2.20" fill="#111"/><rect x="541.40" y="289.70" width="2.20" height="2.20" fill="#111"/><rect x="551.30" y="289.30" width="2.20" height="2.20" fill="#111"/><rect x="546.70" y="292.30" width="2.20" height="2.20" fill="#111"/><rect x="556.30" y="294.60" width="2.20" height="2.20" fill="#111"/><rect x="552.00" y="296.70" width="2.20" height="2.20" fill="#111"/><rect x="532.90" y="292.40" width="2.20" height="2.20" fill="#111"/><rect x="536.90" y="295.70" width="2.20" height="2.20" fill="#111"/><rect x="544.90" y="298.90" width="2.20" height="2.20" fill="#111"/><rect x="559.40" y="300.40" width="2.20" height="2.20" fill="#111"/><rect x="549.90" y="302.40" width="2.20" height="2.20" fill="#111"/><rect x="539.90" y="301.40" width="2.20" height="2.20" fill="#111"/><rect x="530.50" y="296.40" width="2.20" height="2.20" fill="#111"/><rect x="531.29" y="314.72" width="2.20" height="2.20" fill="#111"/><rect x="538.49" y="320.99" width="2.20" height="2.20" fill="#111"/><rect x="539.11" y="322.08" width="2.20" height="2.20" fill="#111"/><rect x="548.29" y="323.08" width="2.20" height="2.20" fill="#111"/><rect x="531.60" y="320.42" width="2.20" height="2.20" fill="#111"/><rect x="535.29" y="299.50" width="2.20" height="2.20" fill="#111"/><rect x="548.22" y="314.32" width="2.20" height="2.20" fill="#111"/><rect x="530.10" y="321.49" width="2.20" height="2.20" fill="#111"/><rect x="539.38" y="315.69" width="2.20" height="2.20" fill="#111"/><rect x="543.17" y="314.98" width="2.20" height="2.20" fill="#111"/><rect x="540.54" y="308.77" width="2.20" height="2.20" fill="#111"/><rect x="538.14" y="317.23" width="2.20" height="2.20" fill="#111"/><rect x="532.24" y="304.83" width="2.20" height="2.20" fill="#111"/><rect x="535.34" y="319.82" width="2.20" height="2.20" fill="#111"/><rect x="542.26" y="312.62" width="2.20" height="2.20" fill="#111"/><rect x="556.24" y="316.40" width="2.20" height="2.20" fill="#111"/><rect x="533.83" y="320.26" width="2.20" height="2.20" fill="#111"/><rect x="558.47" y="316.81" width="2.20" height="2.20" fill="#111"/><rect x="551.52" y="320.62" width="2.20" height="2.20" fill="#111"/><rect x="530.99" y="320.55" width="2.20" height="2.20" fill="#111"/><rect x="565.33" y="315.10" width="2.20" height="2.20" fill="#111"/><rect x="532.24" y="318.29" width="2.20" height="2.20" fill="#111"/><rect x="536.09" y="316.84" width="2.20" height="2.20" fill="#111"/><rect x="537.98" y="317.70" width="2.20" height="2.20" fill="#111"/><rect x="537.95" y="311.65" width="2.20" height="2.20" fill="#111"/><rect x="557.39" y="317.93" width="2.20" height="2.20" fill="#111"/><rect x="549.65" y="313.82" width="2.20" height="2.20" fill="#111"/><rect x="530.26" y="322.70" width="2.20" height="2.20" fill="#111"/><rect x="549.98" y="309.75" width="2.20" height="2.20" fill="#111"/><rect x="537.56" y="318.96" width="2.20" height="2.20" fill="#111"/><rect x="542.06" y="319.16" width="2.20" height="2.20" fill="#111"/><rect x="537.67" y="306.10" width="2.20" height="2.20" fill="#111"/><rect x="531.99" y="306.33" width="2.20" height="2.20" fill="#111"/><rect x="570.30" y="318.55" width="2.20" height="2.20" fill="#111"/><rect x="529.32" y="320.45" width="2.20" height="2.20" fill="#111"/><rect x="530.10" y="314.22" width="2.20" height="2.20" fill="#111"/><rect x="532.13" y="321.23" width="2.20" height="2.20" fill="#111"/><rect x="528.80" y="304.34" width="2.20" height="2.20" fill="#111"/><rect x="538.79" y="308.97" width="2.20" height="2.20" fill="#111"/><rect x="532.72" y="319.29" width="2.20" height="2.20" fill="#111"/><rect x="551.71" y="315.84" width="2.20" height="2.20" fill="#111"/><rect x="570.30" y="322.56" width="2.20" height="2.20" fill="#111"/><rect x="532.38" y="312.12" width="2.20" height="2.20" fill="#111"/><rect x="528.65" y="317.52" width="2.20" height="2.20" fill="#111"/><rect x="530.72" y="312.58" width="2.20" height="2.20" fill="#111"/><rect x="530.17" y="316.37" width="2.20" height="2.20" fill="#111"/><rect x="528.78" y="317.94" width="2.20" height="2.20" fill="#111"/><rect x="563.35" y="319.33" width="2.20" height="2.20" fill="#111"/><rect x="553.27" y="318.31" width="2.20" height="2.20" fill="#111"/><rect x="536.38" y="316.17" width="2.20" height="2.20" fill="#111"/><rect x="539.66" y="313.47" width="2.20" height="2.20" fill="#111"/><rect x="538.95" y="316.62" width="2.20" height="2.20" fill="#111"/><rect x="559.36" y="316.60" width="2.20" height="2.20" fill="#111"/><rect x="542.31" y="323.05" width="2.20" height="2.20" fill="#111"/><rect x="531.28" y="315.23" width="2.20" height="2.20" fill="#111"/><rect x="536.40" y="299.50" width="2.20" height="2.20" fill="#111"/><rect x="537.05" y="313.68" width="2.20" height="2.20" fill="#111"/><rect x="537.84" y="322.79" width="2.20" height="2.20" fill="#111"/><rect x="528.52" y="313.47" width="2.20" height="2.20" fill="#111"/><rect x="528.98" y="314.56" width="2.20" height="2.20" fill="#111"/><rect x="539.16" y="309.49" width="2.20" height="2.20" fill="#111"/><rect x="533.08" y="320.48" width="2.20" height="2.20" fill="#111"/><rect x="541.80" y="323.35" width="2.20" height="2.20" fill="#111"/><rect x="528.99" y="321.49" width="2.20" height="2.20" fill="#111"/><rect x="540.70" y="316.47" width="2.20" height="2.20" fill="#111"/><rect x="535.00" y="321.85" width="2.20" height="2.20" fill="#111"/><rect x="538.18" y="319.65" width="2.20" height="2.20" fill="#111"/><rect x="532.42" y="315.32" width="2.20" height="2.20" fill="#111"/><rect x="533.37" y="316.88" width="2.20" height="2.20" fill="#111"/><rect x="533.51" y="318.96" width="2.20" height="2.20" fill="#111"/><rect x="544.58" y="315.18" width="2.20" height="2.20" fill="#111"/><rect x="542.92" y="321.42" width="2.20" height="2.20" fill="#111"/><rect x="532.38" y="320.56" width="2.20" height="2.20" fill="#111"/><rect x="531.30" y="306.61" width="2.20" height="2.20" fill="#111"/><rect x="530.58" y="310.00" width="2.20" height="2.20" fill="#111"/><rect x="529.48" y="317.68" width="2.20" height="2.20" fill="#111"/><rect x="532.57" y="314.46" width="2.20" height="2.20" fill="#111"/><rect x="534.65" y="307.94" width="2.20" height="2.20" fill="#111"/><rect x="549.58" y="320.64" width="2.20" height="2.20" fill="#111"/><rect x="539.86" y="315.98" width="2.20" height="2.20" fill="#111"/><rect x="552.08" y="319.08" width="2.20" height="2.20" fill="#111"/><rect x="529.72" y="321.45" width="2.20" height="2.20" fill="#111"/><rect x="536.60" y="317.24" width="2.20" height="2.20" fill="#111"/><rect x="548.35" y="312.52" width="2.20" height="2.20" fill="#111"/><rect x="530.53" y="320.42" width="2.20" height="2.20" fill="#111"/><rect x="539.60" y="306.54" width="2.20" height="2.20" fill="#111"/><rect x="546.35" y="321.57" width="2.20" height="2.20" fill="#111"/><rect x="532.10" y="319.36" width="2.20" height="2.20" fill="#111"/><rect x="545.67" y="322.70" width="2.20" height="2.20" fill="#111"/><rect x="534.23" y="314.82" width="2.20" height="2.20" fill="#111"/><rect x="534.29" y="305.48" width="2.20" height="2.20" fill="#111"/><rect x="530.17" y="311.99" width="2.20" height="2.20" fill="#111"/><rect x="528.35" y="305.17" width="2.20" height="2.20" fill="#111"/><rect x="570.30" y="318.83" width="2.20" height="2.20" fill="#111"/><rect x="534.57" y="302.80" width="2.20" height="2.20" fill="#111"/><rect x="531.06" y="316.80" width="2.20" height="2.20" fill="#111"/><rect x="543.35" y="316.24" width="2.20" height="2.20" fill="#111"/><rect x="536.35" y="311.52" width="2.20" height="2.20" fill="#111"/><rect x="532.05" y="319.80" width="2.20" height="2.20" fill="#111"/><rect x="529.08" y="317.76" width="2.20" height="2.20" fill="#111"/><rect x="538.07" y="319.51" width="2.20" height="2.20" fill="#111"/><rect x="528.81" y="306.65" width="2.20" height="2.20" fill="#111"/><rect x="554.03" y="318.39" width="2.20" height="2.20" fill="#111"/><rect x="553.26" y="309.66" width="2.20" height="2.20" fill="#111"/><rect x="553.59" y="322.56" width="2.20" height="2.20" fill="#111"/><rect x="543.34" y="322.78" width="2.20" height="2.20" fill="#111"/><rect x="530.37" y="319.18" width="2.20" height="2.20" fill="#111"/><rect x="536.49" y="310.17" width="2.20" height="2.20" fill="#111"/><rect x="534.17" y="311.37" width="2.20" height="2.20" fill="#111"/><rect x="532.89" y="318.61" width="2.20" height="2.20" fill="#111"/><rect x="531.50" y="316.52" width="2.20" height="2.20" fill="#111"/><rect x="545.07" y="317.85" width="2.20" height="2.20" fill="#111"/><rect x="533.07" y="319.68" width="2.20" height="2.20" fill="#111"/><rect x="546.97" y="315.90" width="2.20" height="2.20" fill="#111"/><rect x="530.37" y="317.95" width="2.20" height="2.20" fill="#111"/><rect x="546.34" y="309.33" width="2.20" height="2.20" fill="#111"/><rect x="547.38" y="314.36" width="2.20" height="2.20" fill="#111"/><rect x="550.13" y="323.07" width="2.20" height="2.20" fill="#111"/><rect x="528.86" y="322.49" width="2.20" height="2.20" fill="#111"/><rect x="536.54" y="316.05" width="2.20" height="2.20" fill="#111"/><rect x="534.35" y="307.29" width="2.20" height="2.20" fill="#111"/><rect x="528.32" y="320.71" width="2.20" height="2.20" fill="#111"/><rect x="528.92" y="320.07" width="2.20" height="2.20" fill="#111"/><rect x="529.08" y="319.99" width="2.20" height="2.20" fill="#111"/><rect x="568.74" y="321.82" width="2.20" height="2.20" fill="#111"/><rect x="535.97" y="320.31" width="2.20" height="2.20" fill="#111"/><rect x="532.48" y="320.01" width="2.20" height="2.20" fill="#111"/><rect x="539.75" y="315.38" width="2.20" height="2.20" fill="#111"/><rect x="538.02" y="319.53" width="2.20" height="2.20" fill="#111"/><rect x="532.69" y="318.75" width="2.20" height="2.20" fill="#111"/><rect x="529.75" y="309.33" width="2.20" height="2.20" fill="#111"/><rect x="533.56" y="318.35" width="2.20" height="2.20" fill="#111"/><rect x="529.22" y="319.51" width="2.20" height="2.20" fill="#111"/><rect x="538.50" y="315.23" width="2.20" height="2.20" fill="#111"/><rect x="545.09" y="314.97" width="2.20" height="2.20" fill="#111"/><rect x="539.03" y="311.83" width="2.20" height="2.20" fill="#111"/><rect x="534.51" y="315.76" width="2.20" height="2.20" fill="#111"/><rect x="541.65" y="315.51" width="2.20" height="2.20" fill="#111"/><rect x="534.30" y="319.87" width="2.20" height="2.20" fill="#111"/><rect x="531.39" y="313.58" width="2.20" height="2.20" fill="#111"/><rect x="536.74" y="322.26" width="2.20" height="2.20" fill="#111"/><rect x="534.39" y="320.05" width="2.20" height="2.20" fill="#111"/><rect x="534.40" y="307.27" width="2.20" height="2.20" fill="#111"/><rect x="533.46" y="308.20" width="2.20" height="2.20" fill="#111"/><rect x="553.39" y="322.21" width="2.20" height="2.20" fill="#111"/><rect x="535.16" y="316.34" width="2.20" height="2.20" fill="#111"/><rect x="529.75" y="318.08" width="2.20" height="2.20" fill="#111"/><rect x="552.32" y="314.67" width="2.20" height="2.20" fill="#111"/><rect x="545.60" y="318.26" width="2.20" height="2.20" fill="#111"/><rect x="537.43" y="310.07" width="2.20" height="2.20" fill="#111"/><rect x="529.50" y="322.70" width="2.20" height="2.20" fill="#111"/><rect x="530.00" y="323.01" width="2.20" height="2.20" fill="#111"/><rect x="544.67" y="320.76" width="2.20" height="2.20" fill="#111"/><rect x="529.45" y="322.35" width="2.20" height="2.20" fill="#111"/><rect x="551.67" y="322.89" width="2.20" height="2.20" fill="#111"/><rect x="548.56" y="322.22" width="2.20" height="2.20" fill="#111"/><rect x="529.72" y="315.59" width="2.20" height="2.20" fill="#111"/><rect x="548.20" y="315.42" width="2.20" height="2.20" fill="#111"/><rect x="561.80" y="313.27" width="2.20" height="2.20" fill="#111"/><rect x="528.71" y="315.39" width="2.20" height="2.20" fill="#111"/><rect x="544.34" y="313.22" width="2.20" height="2.20" fill="#111"/><rect x="529.54" y="322.43" width="2.20" height="2.20" fill="#111"/><rect x="543.50" y="320.41" width="2.20" height="2.20" fill="#111"/><rect x="532.61" y="322.15" width="2.20" height="2.20" fill="#111"/><rect x="537.43" y="320.17" width="2.20" height="2.20" fill="#111"/><rect x="530.48" y="317.26" width="2.20" height="2.20" fill="#111"/><rect x="531.46" y="311.64" width="2.20" height="2.20" fill="#111"/><rect x="533.80" y="312.91" width="2.20" height="2.20" fill="#111"/><rect x="533.34" y="316.47" width="2.20" height="2.20" fill="#111"/><rect x="534.26" y="318.16" width="2.20" height="2.20" fill="#111"/><rect x="529.26" y="299.50" width="2.20" height="2.20" fill="#111"/><rect x="534.16" y="323.45" width="2.20" height="2.20" fill="#111"/><rect x="543.44" y="315.75" width="2.20" height="2.20" fill="#111"/><rect x="543.82" y="311.18" width="2.20" height="2.20" fill="#111"/><rect x="540.62" y="312.64" width="2.20" height="2.20" fill="#111"/><rect x="539.63" y="322.33" width="2.20" height="2.20" fill="#111"/><rect x="553.35" y="321.77" width="2.20" height="2.20" fill="#111"/><rect x="543.47" y="320.06" width="2.20" height="2.20" fill="#111"/><rect x="555.63" y="316.51" width="2.20" height="2.20" fill="#111"/><rect x="542.26" y="322.39" width="2.20" height="2.20" fill="#111"/><rect x="530.57" y="322.81" width="2.20" height="2.20" fill="#111"/><rect x="537.99" y="317.21" width="2.20" height="2.20" fill="#111"/><rect x="532.46" y="321.88" width="2.20" height="2.20" fill="#111"/><rect x="562.03" y="313.60" width="2.20" height="2.20" fill="#111"/><rect x="532.16" y="320.78" width="2.20" height="2.20" fill="#111"/><rect x="549.44" y="317.05" width="2.20" height="2.20" fill="#111"/><rect x="537.96" y="322.78" width="2.20" height="2.20" fill="#111"/><rect x="528.56" y="316.88" width="2.20" height="2.20" fill="#111"/><rect x="535.48" y="319.17" width="2.20" height="2.20" fill="#111"/><rect x="533.22" y="319.58" width="2.20" height="2.20" fill="#111"/><rect x="532.58" y="322.70" width="2.20" height="2.20" fill="#111"/><rect x="570.30" y="319.92" width="2.20" height="2.20" fill="#111"/><rect x="535.48" y="314.83" width="2.20" height="2.20" fill="#111"/><rect x="548.09" y="319.24" width="2.20" height="2.20" fill="#111"/><rect x="547.26" y="316.53" width="2.20" height="2.20" fill="#111"/><rect x="542.33" y="319.68" width="2.20" height="2.20" fill="#111"/><rect x="549.67" y="314.94" width="2.20" height="2.20" fill="#111"/><rect x="563.78" y="317.30" width="2.20" height="2.20" fill="#111"/><rect x="535.23" y="322.61" width="2.20" height="2.20" fill="#111"/><rect x="542.21" y="316.61" width="2.20" height="2.20" fill="#111"/><rect x="540.68" y="305.49" width="2.20" height="2.20" fill="#111"/><rect x="531.35" y="318.72" width="2.20" height="2.20" fill="#111"/><rect x="530.61" y="323.17" width="2.20" height="2.20" fill="#111"/><rect x="541.72" y="317.39" width="2.20" height="2.20" fill="#111"/><rect x="549.82" y="319.47" width="2.20" height="2.20" fill="#111"/><rect x="550.34" y="320.56" width="2.20" height="2.20" fill="#111"/><rect x="532.44" y="309.90" width="2.20" height="2.20" fill="#111"/><rect x="529.29" y="316.38" width="2.20" height="2.20" fill="#111"/><rect x="529.37" y="319.53" width="2.20" height="2.20" fill="#111"/><rect x="533.15" y="316.68" width="2.20" height="2.20" fill="#111"/><rect x="537.85" y="323.00" width="2.20" height="2.20" fill="#111"/><rect x="532.78" y="322.50" width="2.20" height="2.20" fill="#111"/><rect x="534.60" y="317.00" width="2.20" height="2.20" fill="#111"/><rect x="537.98" y="322.92" width="2.20" height="2.20" fill="#111"/><rect x="562.49" y="317.19" width="2.20" height="2.20" fill="#111"/><rect x="529.70" y="315.96" width="2.20" height="2.20" fill="#111"/><rect x="531.83" y="321.15" width="2.20" height="2.20" fill="#111"/><rect x="552.30" y="320.76" width="2.20" height="2.20" fill="#111"/><rect x="554.64" y="310.80" width="2.20" height="2.20" fill="#111"/><rect x="533.46" y="310.56" width="2.20" height="2.20" fill="#111"/><rect x="544.58" y="323.25" width="2.20" height="2.20" fill="#111"/><rect x="540.69" y="315.56" width="2.20" height="2.20" fill="#111"/><rect x="539.98" y="320.92" width="2.20" height="2.20" fill="#111"/><rect x="543.74" y="316.49" width="2.20" height="2.20" fill="#111"/><rect x="564.08" y="319.74" width="2.20" height="2.20" fill="#111"/><rect x="529.62" y="313.08" width="2.20" height="2.20" fill="#111"/><rect x="535.79" y="314.45" width="2.20" height="2.20" fill="#111"/><rect x="540.78" y="311.39" width="2.20" height="2.20" fill="#111"/><rect x="537.49" y="317.83" width="2.20" height="2.20" fill="#111"/><rect x="539.26" y="311.05" width="2.20" height="2.20" fill="#111"/><rect x="530.47" y="312.82" width="2.20" height="2.20" fill="#111"/><rect x="529.75" y="314.66" width="2.20" height="2.20" fill="#111"/><rect x="557.85" y="319.82" width="2.20" height="2.20" fill="#111"/><rect x="542.32" y="316.88" width="2.20" height="2.20" fill="#111"/><rect x="538.31" y="310.59" width="2.20" height="2.20" fill="#111"/><rect x="535.03" y="318.86" width="2.20" height="2.20" fill="#111"/><rect x="532.42" y="321.90" width="2.20" height="2.20" fill="#111"/><rect x="542.14" y="320.29" width="2.20" height="2.20" fill="#111"/><rect x="543.75" y="308.48" width="2.20" height="2.20" fill="#111"/><rect x="533.20" y="319.33" width="2.20" height="2.20" fill="#111"/><rect x="531.70" y="309.17" width="2.20" height="2.20" fill="#111"/><rect x="528.77" y="310.60" width="2.20" height="2.20" fill="#111"/><rect x="536.03" y="323.21" width="2.20" height="2.20" fill="#111"/><rect x="533.11" y="307.24" width="2.20" height="2.20" fill="#111"/><rect x="532.75" y="313.76" width="2.20" height="2.20" fill="#111"/><rect x="544.55" y="318.87" width="2.20" height="2.20" fill="#111"/><rect x="533.09" y="320.85" width="2.20" height="2.20" fill="#111"/><rect x="531.77" y="319.70" width="2.20" height="2.20" fill="#111"/><rect x="529.45" y="310.96" width="2.20" height="2.20" fill="#111"/><rect x="542.59" y="312.77" width="2.20" height="2.20" fill="#111"/><rect x="530.55" y="319.82" width="2.20" height="2.20" fill="#111"/><rect x="543.26" y="314.35" width="2.20" height="2.20" fill="#111"/><rect x="546.91" y="323.43" width="2.20" height="2.20" fill="#111"/><rect x="530.04" y="310.78" width="2.20" height="2.20" fill="#111"/><rect x="533.89" y="319.47" width="2.20" height="2.20" fill="#111"/><rect x="537.54" y="312.59" width="2.20" height="2.20" fill="#111"/><rect x="530.78" y="323.48" width="2.20" height="2.20" fill="#111"/><rect x="528.64" y="306.93" width="2.20" height="2.20" fill="#111"/><rect x="546.18" y="311.19" width="2.20" height="2.20" fill="#111"/><rect x="533.61" y="308.85" width="2.20" height="2.20" fill="#111"/><rect x="537.15" y="311.83" width="2.20" height="2.20" fill="#111"/><rect x="569.78" y="318.91" width="2.20" height="2.20" fill="#111"/><rect x="541.06" y="317.75" width="2.20" height="2.20" fill="#111"/><rect x="535.58" y="305.56" width="2.20" height="2.20" fill="#111"/><rect x="538.42" y="323.41" width="2.20" height="2.20" fill="#111"/><rect x="544.49" y="323.06" width="2.20" height="2.20" fill="#111"/><rect x="540.23" y="311.95" width="2.20" height="2.20" fill="#111"/><rect x="535.09" y="322.91" width="2.20" height="2.20" fill="#111"/><rect x="530.66" y="320.93" width="2.20" height="2.20" fill="#111"/><rect x="535.93" y="323.02" width="2.20" height="2.20" fill="#111"/><rect x="539.72" y="311.97" width="2.20" height="2.20" fill="#111"/><rect x="563.44" y="320.62" width="2.20" height="2.20" fill="#111"/><rect x="552.79" y="315.91" width="2.20" height="2.20" fill="#111"/><rect x="539.04" y="310.82" width="2.20" height="2.20" fill="#111"/><rect x="528.87" y="319.09" width="2.20" height="2.20" fill="#111"/><rect x="529.19" y="318.16" width="2.20" height="2.20" fill="#111"/><rect x="536.82" y="315.91" width="2.20" height="2.20" fill="#111"/><rect x="550.79" y="321.05" width="2.20" height="2.20" fill="#111"/><rect x="541.35" y="311.02" width="2.20" height="2.20" fill="#111"/><rect x="538.41" y="309.46" width="2.20" height="2.20" fill="#111"/><rect x="557.09" y="321.24" width="2.20" height="2.20" fill="#111"/><rect x="532.93" y="308.27" width="2.20" height="2.20" fill="#111"/><rect x="546.38" y="311.75" width="2.20" height="2.20" fill="#111"/><rect x="534.62" y="315.64" width="2.20" height="2.20" fill="#111"/><rect x="543.85" y="318.95" width="2.20" height="2.20" fill="#111"/><rect x="528.78" y="323.07" width="2.20" height="2.20" fill="#111"/><rect x="529.19" y="321.77" width="2.20" height="2.20" fill="#111"/><rect x="535.86" y="318.15" width="2.20" height="2.20" fill="#111"/><rect x="541.52" y="313.83" width="2.20" height="2.20" fill="#111"/><rect x="539.82" y="321.18" width="2.20" height="2.20" fill="#111"/><rect x="532.30" y="307.92" width="2.20" height="2.20" fill="#111"/><rect x="533.95" y="319.96" width="2.20" height="2.20" fill="#111"/><rect x="530.49" y="311.28" width="2.20" height="2.20" fill="#111"/><rect x="533.33" y="314.55" width="2.20" height="2.20" fill="#111"/><rect x="533.40" y="310.92" width="2.20" height="2.20" fill="#111"/><rect x="531.09" y="321.15" width="2.20" height="2.20" fill="#111"/><rect x="528.33" y="319.27" width="2.20" height="2.20" fill="#111"/><rect x="530.00" y="307.44" width="2.20" height="2.20" fill="#111"/><rect x="535.08" y="321.31" width="2.20" height="2.20" fill="#111"/><rect x="530.36" y="317.37" width="2.20" height="2.20" fill="#111"/><rect x="533.99" y="322.40" width="2.20" height="2.20" fill="#111"/><rect x="529.58" y="321.55" width="2.20" height="2.20" fill="#111"/><rect x="530.33" y="320.17" width="2.20" height="2.20" fill="#111"/><rect x="528.55" y="323.30" width="2.20" height="2.20" fill="#111"/><rect x="534.84" y="311.11" width="2.20" height="2.20" fill="#111"/><rect x="528.88" y="315.39" width="2.20" height="2.20" fill="#111"/><rect x="533.98" y="321.74" width="2.20" height="2.20" fill="#111"/><rect x="565.34" y="322.59" width="2.20" height="2.20" fill="#111"/><rect x="531.02" y="314.56" width="2.20" height="2.20" fill="#111"/><rect x="530.28" y="317.48" width="2.20" height="2.20" fill="#111"/><rect x="539.01" y="320.72" width="2.20" height="2.20" fill="#111"/><rect x="528.89" y="319.48" width="2.20" height="2.20" fill="#111"/><rect x="542.61" y="320.87" width="2.20" height="2.20" fill="#111"/><rect x="535.19" y="306.98" width="2.20" height="2.20" fill="#111"/><rect x="558.02" y="321.96" width="2.20" height="2.20" fill="#111"/><rect x="531.70" y="316.65" width="2.20" height="2.20" fill="#111"/><rect x="546.84" y="319.38" width="2.20" height="2.20" fill="#111"/><rect x="529.38" y="317.17" width="2.20" height="2.20" fill="#111"/><rect x="540.92" y="311.01" width="2.20" height="2.20" fill="#111"/><rect x="528.34" y="321.06" width="2.20" height="2.20" fill="#111"/><rect x="528.64" y="318.61" width="2.20" height="2.20" fill="#111"/><rect x="528.71" y="320.37" width="2.20" height="2.20" fill="#111"/><rect x="528.91" y="311.96" width="2.20" height="2.20" fill="#111"/><rect x="530.76" y="306.68" width="2.20" height="2.20" fill="#111"/><rect x="568.38" y="311.90" width="2.20" height="2.20" fill="#111"/><rect x="555.73" y="321.80" width="2.20" height="2.20" fill="#111"/><rect x="559.26" y="318.09" width="2.20" height="2.20" fill="#111"/><rect x="538.57" y="321.77" width="2.20" height="2.20" fill="#111"/><rect x="560.52" y="318.89" width="2.20" height="2.20" fill="#111"/><rect x="549.16" y="320.66" width="2.20" height="2.20" fill="#111"/><rect x="529.64" y="316.90" width="2.20" height="2.20" fill="#111"/><rect x="540.84" y="318.03" width="2.20" height="2.20" fill="#111"/><rect x="557.32" y="318.64" width="2.20" height="2.20" fill="#111"/><rect x="542.86" y="309.63" width="2.20" height="2.20" fill="#111"/><rect x="548.16" y="309.58" width="2.20" height="2.20" fill="#111"/><rect x="533.26" y="316.42" width="2.20" height="2.20" fill="#111"/><rect x="534.19" y="321.37" width="2.20" height="2.20" fill="#111"/><rect x="535.51" y="307.12" width="2.20" height="2.20" fill="#111"/><rect x="531.75" y="316.17" width="2.20" height="2.20" fill="#111"/><rect x="538.54" y="310.22" width="2.20" height="2.20" fill="#111"/><rect x="541.94" y="315.18" width="2.20" height="2.20" fill="#111"/><rect x="530.14" y="316.33" width="2.20" height="2.20" fill="#111"/><rect x="541.94" y="312.95" width="2.20" height="2.20" fill="#111"/><rect x="543.93" y="322.45" width="2.20" height="2.20" fill="#111"/><rect x="540.74" y="317.77" width="2.20" height="2.20" fill="#111"/><rect x="548.71" y="320.76" width="2.20" height="2.20" fill="#111"/><rect x="539.61" y="309.57" width="2.20" height="2.20" fill="#111"/><rect x="534.87" y="310.18" width="2.20" height="2.20" fill="#111"/><rect x="553.29" y="322.87" width="2.20" height="2.20" fill="#111"/><rect x="533.38" y="314.99" width="2.20" height="2.20" fill="#111"/><rect x="529.12" y="304.37" width="2.20" height="2.20" fill="#111"/><rect x="529.52" y="309.48" width="2.20" height="2.20" fill="#111"/><rect x="537.56" y="320.50" width="2.20" height="2.20" fill="#111"/><rect x="539.82" y="321.01" width="2.20" height="2.20" fill="#111"/><rect x="531.33" y="318.29" width="2.20" height="2.20" fill="#111"/><rect x="539.68" y="321.85" width="2.20" height="2.20" fill="#111"/><rect x="537.99" y="316.65" width="2.20" height="2.20" fill="#111"/><rect x="565.91" y="323.16" width="2.20" height="2.20" fill="#111"/><rect x="531.03" y="314.34" width="2.20" height="2.20" fill="#111"/><rect x="545.01" y="320.91" width="2.20" height="2.20" fill="#111"/><rect x="538.50" y="320.67" width="2.20" height="2.20" fill="#111"/><rect x="530.59" y="312.08" width="2.20" height="2.20" fill="#111"/><rect x="530.45" y="307.90" width="2.20" height="2.20" fill="#111"/><rect x="529.61" y="315.03" width="2.20" height="2.20" fill="#111"/><rect x="528.57" y="317.31" width="2.20" height="2.20" fill="#111"/><rect x="552.91" y="322.59" width="2.20" height="2.20" fill="#111"/><rect x="529.29" y="316.92" width="2.20" height="2.20" fill="#111"/><rect x="547.76" y="322.50" width="2.20" height="2.20" fill="#111"/><rect x="538.81" y="313.39" width="2.20" height="2.20" fill="#111"/><rect x="550.89" y="314.94" width="2.20" height="2.20" fill="#111"/><rect x="532.97" y="315.27" width="2.20" height="2.20" fill="#111"/><rect x="529.59" y="317.27" width="2.20" height="2.20" fill="#111"/><rect x="548.15" y="313.60" width="2.20" height="2.20" fill="#111"/><rect x="530.84" y="313.75" width="2.20" height="2.20" fill="#111"/><rect x="536.82" y="308.56" width="2.20" height="2.20" fill="#111"/><rect x="529.18" y="320.08" width="2.20" height="2.20" fill="#111"/><rect x="532.97" y="319.86" width="2.20" height="2.20" fill="#111"/><rect x="537.15" y="323.15" width="2.20" height="2.20" fill="#111"/><rect x="542.92" y="311.35" width="2.20" height="2.20" fill="#111"/><rect x="538.54" y="317.10" width="2.20" height="2.20" fill="#111"/><rect x="530.95" y="304.96" width="2.20" height="2.20" fill="#111"/><rect x="532.79" y="299.50" width="2.20" height="2.20" fill="#111"/><rect x="534.50" y="317.75" width="2.20" height="2.20" fill="#111"/><rect x="530.29" y="320.14" width="2.20" height="2.20" fill="#111"/><rect x="557.70" y="321.54" width="2.20" height="2.20" fill="#111"/><rect x="570.30" y="310.40" width="2.20" height="2.20" fill="#111"/><rect x="538.72" y="312.81" width="2.20" height="2.20" fill="#111"/><rect x="534.27" y="318.58" width="2.20" height="2.20" fill="#111"/><rect x="560.83" y="310.47" width="2.20" height="2.20" fill="#111"/><rect x="535.58" y="310.22" width="2.20" height="2.20" fill="#111"/><rect x="544.63" y="304.85" width="2.20" height="2.20" fill="#111"/><rect x="556.13" y="311.16" width="2.20" height="2.20" fill="#111"/><rect x="532.10" y="317.94" width="2.20" height="2.20" fill="#111"/><rect x="529.41" y="321.06" width="2.20" height="2.20" fill="#111"/><rect x="542.40" y="320.34" width="2.20" height="2.20" fill="#111"/><rect x="539.52" y="312.44" width="2.20" height="2.20" fill="#111"/><rect x="528.76" y="323.27" width="2.20" height="2.20" fill="#111"/><rect x="534.53" y="315.87" width="2.20" height="2.20" fill="#111"/><rect x="532.95" y="322.72" width="2.20" height="2.20" fill="#111"/><rect x="532.03" y="307.77" width="2.20" height="2.20" fill="#111"/><rect x="529.50" y="320.52" width="2.20" height="2.20" fill="#111"/><rect x="529.19" y="314.19" width="2.20" height="2.20" fill="#111"/><rect x="530.13" y="322.32" width="2.20" height="2.20" fill="#111"/><rect x="569.51" y="313.44" width="2.20" height="2.20" fill="#111"/><rect x="570.30" y="319.03" width="2.20" height="2.20" fill="#111"/><rect x="530.24" y="317.06" width="2.20" height="2.20" fill="#111"/><rect x="532.41" y="312.20" width="2.20" height="2.20" fill="#111"/><rect x="536.89" y="320.84" width="2.20" height="2.20" fill="#111"/><rect x="533.20" y="318.82" width="2.20" height="2.20" fill="#111"/><rect x="535.14" y="317.28" width="2.20" height="2.20" fill="#111"/><rect x="552.27" y="321.58" width="2.20" height="2.20" fill="#111"/><rect x="531.36" y="316.03" width="2.20" height="2.20" fill="#111"/><rect x="546.38" y="320.06" width="2.20" height="2.20" fill="#111"/><rect x="536.63" y="323.18" width="2.20" height="2.20" fill="#111"/><rect x="536.74" y="321.96" width="2.20" height="2.20" fill="#111"/><rect x="530.81" y="320.87" width="2.20" height="2.20" fill="#111"/><rect x="544.47" y="305.82" width="2.20" height="2.20" fill="#111"/><rect x="545.24" y="319.63" width="2.20" height="2.20" fill="#111"/><rect x="570.30" y="319.44" width="2.20" height="2.20" fill="#111"/><rect x="528.45" y="322.17" width="2.20" height="2.20" fill="#111"/><rect x="534.53" y="321.88" width="2.20" height="2.20" fill="#111"/><rect x="536.99" y="320.88" width="2.20" height="2.20" fill="#111"/><rect x="529.38" y="320.80" width="2.20" height="2.20" fill="#111"/><rect x="546.12" y="318.96" width="2.20" height="2.20" fill="#111"/><rect x="534.26" y="323.31" width="2.20" height="2.20" fill="#111"/><rect x="534.47" y="320.66" width="2.20" height="2.20" fill="#111"/><rect x="539.16" y="314.01" width="2.20" height="2.20" fill="#111"/><rect x="546.49" y="310.71" width="2.20" height="2.20" fill="#111"/><rect x="531.43" y="312.96" width="2.20" height="2.20" fill="#111"/><rect x="545.44" y="315.25" width="2.20" height="2.20" fill="#111"/><line x1="557.40" y1="313.20" x2="621.90" y2="301.30" stroke="#222" stroke-width="0.8"/><line x1="59.60" y1="391.60" x2="59.60" y2="503.50" stroke="#111" stroke-width="1.5"/><line x1="59.00" y1="502.90" x2="171.50" y2="502.90" stroke="#111" stroke-width="1.5"/><line x1="55.40" y1="502.90" x2="59.60" y2="502.90" stroke="#111" stroke-width="1.3"/><text x="52.40" y="502.90" font-size="10.8" text-anchor="end" dominant-baseline="central">0.0</text><line x1="55.40" y1="466.00" x2="59.60" y2="466.00" stroke="#111" stroke-width="1.3"/><text x="52.40" y="466.00" font-size="10.8" text-anchor="end" dominant-baseline="central">0.5</text><line x1="55.40" y1="429.10" x2="59.60" y2="429.10" stroke="#111" stroke-width="1.3"/><text x="52.40" y="429.10" font-size="10.8" text-anchor="end" dominant-baseline="central">1.0</text><line x1="55.40" y1="392.20" x2="59.60" y2="392.20" stroke="#111" stroke-width="1.3"/><text x="52.40" y="392.20" font-size="10.8" text-anchor="end" dominant-baseline="central">1.5</text><line x1="77.10" y1="502.90" x2="77.10" y2="507.00" stroke="#111" stroke-width="1.3"/><line x1="115.50" y1="502.90" x2="115.50" y2="507.00" stroke="#111" stroke-width="1.3"/><line x1="154.00" y1="502.90" x2="154.00" y2="507.00" stroke="#111" stroke-width="1.3"/><text x="77.20" y="516.30" font-size="11.4" text-anchor="middle" dominant-baseline="central">CNE1</text><text x="117.00" y="516.30" font-size="11.4" text-anchor="middle" dominant-baseline="central">CNE2</text><text x="155.00" y="516.30" font-size="11.4" text-anchor="middle" dominant-baseline="central">C666-1</text><circle cx="41.20" cy="376.40" r="2.10" fill="#F07377"/><text x="47.30" y="376.40" font-size="11" dominant-baseline="central">NC</text><rect x="69.40" y="374.80" width="3.20" height="3.20" fill="#5252F2"/><text x="74.40" y="376.40" font-size="11.4" dominant-baseline="central" textLength="106.5" lengthAdjust="spacingAndGlyphs">shLINC-AC092535.5</text><text x="15.10" y="442.20" font-size="11.45" text-anchor="middle" dominant-baseline="central" transform="rotate(-90 15.10 442.20)">Relative enrichment</text><text x="30.40" y="443.50" font-size="11.45" text-anchor="middle" dominant-baseline="central" transform="rotate(-90 30.40 443.50)">of MICAL2</text><rect x="65.20" y="432.05" width="8.90" height="70.85" fill="#fff" stroke="#F07377" stroke-width="1.1"/><path d="M67.10,421.30 H72.30 M69.70,421.30 V440.00 M67.10,440.00 H72.30" stroke="#F07377" stroke-width="0.9" fill="none" opacity="0.75"/><circle cx="67.70" cy="422.80" r="2.10" fill="#F07377"/><circle cx="71.80" cy="429.30" r="2.10" fill="#F07377"/><circle cx="69.50" cy="441.80" r="2.10" fill="#F07377"/><rect x="79.40" y="469.32" width="9.10" height="33.58" fill="#fff" stroke="#5252F2" stroke-width="1.1"/><path d="M81.60,459.30 H86.80 M84.20,459.30 V479.00 M81.60,479.00 H86.80" stroke="#5252F2" stroke-width="0.9" fill="none" opacity="0.75"/><circle cx="84.20" cy="459.80" r="2.10" fill="#5252F2"/><circle cx="84.20" cy="469.70" r="2.10" fill="#5252F2"/><circle cx="83.80" cy="477.30" r="2.10" fill="#5252F2"/><rect x="103.50" y="423.20" width="9.10" height="79.70" fill="#fff" stroke="#F07377" stroke-width="1.1"/><path d="M105.40,416.50 H110.60 M108.00,416.50 V430.00 M105.40,430.00 H110.60" stroke="#F07377" stroke-width="0.9" fill="none" opacity="0.75"/><circle cx="108.30" cy="416.60" r="2.10" fill="#F07377"/><circle cx="106.40" cy="422.80" r="2.10" fill="#F07377"/><circle cx="110.20" cy="429.30" r="2.10" fill="#F07377"/><rect x="118.30" y="473.01" width="9.10" height="29.89" fill="#fff" stroke="#5252F2" stroke-width="1.1"/><path d="M120.20,471.00 H125.40 M122.80,471.00 V474.50 M120.20,474.50 H125.40" stroke="#5252F2" stroke-width="0.9" fill="none" opacity="0.75"/><circle cx="120.60" cy="471.60" r="2.10" fill="#5252F2"/><circle cx="123.00" cy="472.60" r="2.10" fill="#5252F2"/><circle cx="125.30" cy="473.90" r="2.10" fill="#5252F2"/><rect x="142.00" y="429.10" width="9.50" height="73.80" fill="#fff" stroke="#F07377" stroke-width="1.1"/><path d="M144.20,411.30 H149.40 M146.80,411.30 V447.00 M144.20,447.00 H149.40" stroke="#F07377" stroke-width="0.9" fill="none" opacity="0.75"/><circle cx="146.80" cy="413.70" r="2.10" fill="#F07377"/><circle cx="146.80" cy="424.70" r="2.10" fill="#F07377"/><circle cx="146.80" cy="448.80" r="2.10" fill="#F07377"/><rect x="156.70" y="482.24" width="9.10" height="20.66" fill="#fff" stroke="#5252F2" stroke-width="1.1"/><path d="M158.70,467.20 H163.90 M161.30,467.20 V497.00 M158.70,497.00 H163.90" stroke="#5252F2" stroke-width="0.9" fill="none" opacity="0.75"/><circle cx="159.10" cy="470.30" r="2.10" fill="#5252F2"/><circle cx="163.30" cy="476.70" r="2.10" fill="#5252F2"/><circle cx="161.40" cy="498.80" r="2.10" fill="#5252F2"/><path d="M69.90,411.10 V417.50 M69.90,414.30 H85.50 M85.50,411.10 V417.50" fill="none" stroke="#111" stroke-width="1.3"/><text x="78.50" y="414.60" font-size="12.7" text-anchor="middle">**</text><path d="M107.90,405.00 V411.40 M107.90,408.20 H123.40 M123.40,405.00 V411.40" fill="none" stroke="#111" stroke-width="1.3"/><text x="116.45" y="407.20" font-size="12.7" text-anchor="middle">***</text><path d="M146.80,403.00 V409.40 M146.80,406.20 H162.40 M162.40,403.00 V409.40" fill="none" stroke="#111" stroke-width="1.3"/><text x="155.40" y="408.50" font-size="12.7" text-anchor="middle">*</text><line x1="244.50" y1="399.10" x2="244.50" y2="484.30" stroke="#111" stroke-width="1.2"/><line x1="243.90" y1="483.70" x2="371.40" y2="483.70" stroke="#111" stroke-width="1.2"/><line x1="240.20" y1="483.70" x2="244.50" y2="483.70" stroke="#111" stroke-width="1.2"/><text x="239.20" y="483.20" font-size="10.8" text-anchor="end" dominant-baseline="central">0</text><line x1="240.20" y1="455.70" x2="244.50" y2="455.70" stroke="#111" stroke-width="1.2"/><text x="239.20" y="455.20" font-size="10.8" text-anchor="end" dominant-baseline="central">0.5</text><line x1="240.20" y1="427.70" x2="244.50" y2="427.70" stroke="#111" stroke-width="1.2"/><text x="239.20" y="427.20" font-size="10.8" text-anchor="end" dominant-baseline="central">1</text><line x1="240.20" y1="399.70" x2="244.50" y2="399.70" stroke="#111" stroke-width="1.2"/><text x="239.20" y="398.50" font-size="10.8" text-anchor="end" dominant-baseline="central">1.5</text><line x1="244.50" y1="483.70" x2="244.50" y2="487.30" stroke="#111" stroke-width="1.3"/><text x="244.50" y="497.10" font-size="10.8" text-anchor="middle" dominant-baseline="central">0</text><line x1="269.88" y1="483.70" x2="269.88" y2="487.30" stroke="#111" stroke-width="1.3"/><text x="269.88" y="497.10" font-size="10.8" text-anchor="middle" dominant-baseline="central">2</text><line x1="295.26" y1="483.70" x2="295.26" y2="487.30" stroke="#111" stroke-width="1.3"/><text x="295.26" y="497.10" font-size="10.8" text-anchor="middle" dominant-baseline="central">4</text><line x1="320.64" y1="483.70" x2="320.64" y2="487.30" stroke="#111" stroke-width="1.3"/><text x="320.64" y="497.10" font-size="10.8" text-anchor="middle" dominant-baseline="central">6</text><line x1="346.02" y1="483.70" x2="346.02" y2="487.30" stroke="#111" stroke-width="1.3"/><text x="346.02" y="497.10" font-size="10.8" text-anchor="middle" dominant-baseline="central">8</text><line x1="371.40" y1="483.70" x2="371.40" y2="487.30" stroke="#111" stroke-width="1.3"/><text x="371.40" y="497.10" font-size="10.8" text-anchor="middle" dominant-baseline="central">10</text><text x="305.41" y="507.30" font-size="11.2" text-anchor="middle" dominant-baseline="central">Time</text><text x="307.95" y="519.70" font-size="11.2" text-anchor="middle" dominant-baseline="central" textLength="77" lengthAdjust="spacing">(h post ACT-D)</text><line x1="247.50" y1="386.00" x2="290.20" y2="386.00" stroke="#000" stroke-width="1.2"/><line x1="326.00" y1="386.00" x2="370.10" y2="386.00" stroke="#000" stroke-width="1.2"/><text x="309.40" y="386.00" font-size="11.2" text-anchor="middle" dominant-baseline="central">CNE1</text><path d="M242.70,416.50 H246.30 M244.50,416.50 V438.90 M242.70,438.90 H246.30" stroke="#F07377" stroke-width="0.8" fill="none" opacity="0.85"/><path d="M249.04,427.70 H252.65 M250.84,427.70 V429.94 M249.04,429.94 H252.65" stroke="#F07377" stroke-width="0.8" fill="none" opacity="0.85"/><path d="M255.39,432.74 H258.99 M257.19,432.74 V437.22 M255.39,437.22 H258.99" stroke="#F07377" stroke-width="0.8" fill="none" opacity="0.85"/><path d="M268.08,439.46 H271.68 M269.88,439.46 V448.42 M268.08,448.42 H271.68" stroke="#F07377" stroke-width="0.8" fill="none" opacity="0.85"/><path d="M293.46,444.78 H297.06 M295.26,444.78 V452.62 M293.46,452.62 H297.06" stroke="#F07377" stroke-width="0.8" fill="none" opacity="0.85"/><path d="M344.22,451.22 H347.82 M346.02,451.22 V454.58 M344.22,454.58 H347.82" stroke="#F07377" stroke-width="0.8" fill="none" opacity="0.85"/><path d="M242.70,426.02 H246.30 M244.50,426.02 V429.38 M242.70,429.38 H246.30" stroke="#5252F2" stroke-width="0.8" fill="none" opacity="0.85"/><path d="M249.04,430.50 H252.65 M250.84,430.50 V433.86 M249.04,433.86 H252.65" stroke="#5252F2" stroke-width="0.8" fill="none" opacity="0.85"/><path d="M255.39,438.90 H258.99 M257.19,438.90 V444.50 M255.39,444.50 H258.99" stroke="#5252F2" stroke-width="0.8" fill="none" opacity="0.85"/><path d="M268.08,448.98 H271.68 M269.88,448.98 V453.46 M268.08,453.46 H271.68" stroke="#5252F2" stroke-width="0.8" fill="none" opacity="0.85"/><path d="M293.46,476.98 H297.06 M295.26,476.98 V479.22 M293.46,479.22 H297.06" stroke="#5252F2" stroke-width="0.8" fill="none" opacity="0.85"/><path d="M344.22,483.14 H347.82 M346.02,483.14 V484.26 M344.22,484.26 H347.82" stroke="#5252F2" stroke-width="0.8" fill="none" opacity="0.85"/><path d="M244.50,427.70 L250.84,432.18 L257.19,441.70 L269.88,451.22 L295.26,478.10 L346.02,483.70" fill="none" stroke="#5252F2" stroke-width="0.8"/><path d="M244.50,427.70 L250.84,428.82 L257.19,434.98 L269.88,443.94 L295.26,448.70 L346.02,452.90" fill="none" stroke="#F07377" stroke-width="0.8"/><rect x="243.00" y="426.20" width="3.00" height="3.00" fill="#5252F2"/><rect x="249.34" y="430.68" width="3.00" height="3.00" fill="#5252F2"/><rect x="255.69" y="440.20" width="3.00" height="3.00" fill="#5252F2"/><rect x="268.38" y="449.72" width="3.00" height="3.00" fill="#5252F2"/><rect x="293.76" y="476.60" width="3.00" height="3.00" fill="#5252F2"/><rect x="344.52" y="482.20" width="3.00" height="3.00" fill="#5252F2"/><circle cx="244.50" cy="427.70" r="1.60" fill="#F07377"/><circle cx="250.84" cy="428.82" r="1.60" fill="#F07377"/><circle cx="257.19" cy="434.98" r="1.60" fill="#F07377"/><circle cx="269.88" cy="443.94" r="1.60" fill="#F07377"/><circle cx="295.26" cy="448.70" r="1.60" fill="#F07377"/><circle cx="346.02" cy="452.90" r="1.60" fill="#F07377"/><text x="251.50" y="420.55" font-size="11.5" text-anchor="middle" dominant-baseline="central">ns</text><text x="258.20" y="434.80" font-size="12.7" text-anchor="middle">*</text><text x="270.50" y="432.65" font-size="11.5" text-anchor="middle" dominant-baseline="central">ns</text><text x="293.60" y="445.30" font-size="12.7" text-anchor="middle">***</text><text x="345.50" y="453.50" font-size="12.7" text-anchor="middle">****</text><line x1="394.20" y1="398.10" x2="394.20" y2="483.60" stroke="#111" stroke-width="1.2"/><line x1="393.60" y1="483.00" x2="522.60" y2="483.00" stroke="#111" stroke-width="1.2"/><line x1="389.90" y1="483.00" x2="394.20" y2="483.00" stroke="#111" stroke-width="1.2"/><text x="388.90" y="482.50" font-size="10.8" text-anchor="end" dominant-baseline="central">0</text><line x1="389.90" y1="454.90" x2="394.20" y2="454.90" stroke="#111" stroke-width="1.2"/><text x="388.90" y="454.40" font-size="10.8" text-anchor="end" dominant-baseline="central">0.5</text><line x1="389.90" y1="426.80" x2="394.20" y2="426.80" stroke="#111" stroke-width="1.2"/><text x="388.90" y="426.30" font-size="10.8" text-anchor="end" dominant-baseline="central">1</text><line x1="389.90" y1="398.70" x2="394.20" y2="398.70" stroke="#111" stroke-width="1.2"/><text x="388.90" y="397.50" font-size="10.8" text-anchor="end" dominant-baseline="central">1.5</text><line x1="394.20" y1="483.00" x2="394.20" y2="486.60" stroke="#111" stroke-width="1.3"/><text x="394.20" y="496.40" font-size="10.8" text-anchor="middle" dominant-baseline="central">0</text><line x1="419.88" y1="483.00" x2="419.88" y2="486.60" stroke="#111" stroke-width="1.3"/><text x="419.88" y="496.40" font-size="10.8" text-anchor="middle" dominant-baseline="central">2</text><line x1="445.56" y1="483.00" x2="445.56" y2="486.60" stroke="#111" stroke-width="1.3"/><text x="445.56" y="496.40" font-size="10.8" text-anchor="middle" dominant-baseline="central">4</text><line x1="471.24" y1="483.00" x2="471.24" y2="486.60" stroke="#111" stroke-width="1.3"/><text x="471.24" y="496.40" font-size="10.8" text-anchor="middle" dominant-baseline="central">6</text><line x1="496.92" y1="483.00" x2="496.92" y2="486.60" stroke="#111" stroke-width="1.3"/><text x="496.92" y="496.40" font-size="10.8" text-anchor="middle" dominant-baseline="central">8</text><line x1="522.60" y1="483.00" x2="522.60" y2="486.60" stroke="#111" stroke-width="1.3"/><text x="522.60" y="496.40" font-size="10.8" text-anchor="middle" dominant-baseline="central">10</text><text x="455.83" y="506.60" font-size="11.2" text-anchor="middle" dominant-baseline="central">Time</text><text x="458.40" y="519.00" font-size="11.2" text-anchor="middle" dominant-baseline="central" textLength="77" lengthAdjust="spacing">(h post ACT-D)</text><line x1="394.90" y1="385.50" x2="438.70" y2="385.50" stroke="#000" stroke-width="1.2"/><line x1="472.00" y1="385.50" x2="517.50" y2="385.50" stroke="#000" stroke-width="1.2"/><text x="457.20" y="385.50" font-size="11.2" text-anchor="middle" dominant-baseline="central">CNE2</text><path d="M392.40,415.56 H396.00 M394.20,415.56 V438.04 M392.40,438.04 H396.00" stroke="#F07377" stroke-width="0.8" fill="none" opacity="0.85"/><path d="M398.82,428.49 H402.42 M400.62,428.49 V435.23 M398.82,435.23 H402.42" stroke="#F07377" stroke-width="0.8" fill="none" opacity="0.85"/><path d="M405.24,424.55 H408.84 M407.04,424.55 V441.41 M405.24,441.41 H408.84" stroke="#F07377" stroke-width="0.8" fill="none" opacity="0.85"/><path d="M418.08,431.30 H421.68 M419.88,431.30 V440.29 M418.08,440.29 H421.68" stroke="#F07377" stroke-width="0.8" fill="none" opacity="0.85"/><path d="M443.76,457.15 H447.36 M445.56,457.15 V469.51 M443.76,469.51 H447.36" stroke="#F07377" stroke-width="0.8" fill="none" opacity="0.85"/><path d="M495.12,466.14 H498.72 M496.92,466.14 V469.51 M495.12,469.51 H498.72" stroke="#F07377" stroke-width="0.8" fill="none" opacity="0.85"/><path d="M392.40,425.11 H396.00 M394.20,425.11 V428.49 M392.40,428.49 H396.00" stroke="#5252F2" stroke-width="0.8" fill="none" opacity="0.85"/><path d="M398.82,439.73 H402.42 M400.62,439.73 V445.35 M398.82,445.35 H402.42" stroke="#5252F2" stroke-width="0.8" fill="none" opacity="0.85"/><path d="M405.24,453.21 H408.84 M407.04,453.21 V456.59 M405.24,456.59 H408.84" stroke="#5252F2" stroke-width="0.8" fill="none" opacity="0.85"/><path d="M418.08,464.45 H421.68 M419.88,464.45 V466.70 M418.08,466.70 H421.68" stroke="#5252F2" stroke-width="0.8" fill="none" opacity="0.85"/><path d="M443.76,474.57 H447.36 M445.56,474.57 V476.82 M443.76,476.82 H447.36" stroke="#5252F2" stroke-width="0.8" fill="none" opacity="0.85"/><path d="M495.12,480.75 H498.72 M496.92,480.75 V481.88 M495.12,481.88 H498.72" stroke="#5252F2" stroke-width="0.8" fill="none" opacity="0.85"/><path d="M394.20,426.80 L400.62,442.54 L407.04,454.90 L419.88,465.58 L445.56,475.69 L496.92,481.31" fill="none" stroke="#5252F2" stroke-width="0.8"/><path d="M394.20,426.80 L400.62,431.86 L407.04,432.98 L419.88,435.79 L445.56,463.33 L496.92,467.83" fill="none" stroke="#F07377" stroke-width="0.8"/><rect x="392.70" y="425.30" width="3.00" height="3.00" fill="#5252F2"/><rect x="399.12" y="441.04" width="3.00" height="3.00" fill="#5252F2"/><rect x="405.54" y="453.40" width="3.00" height="3.00" fill="#5252F2"/><rect x="418.38" y="464.08" width="3.00" height="3.00" fill="#5252F2"/><rect x="444.06" y="474.19" width="3.00" height="3.00" fill="#5252F2"/><rect x="495.42" y="479.81" width="3.00" height="3.00" fill="#5252F2"/><circle cx="394.20" cy="426.80" r="1.60" fill="#F07377"/><circle cx="400.62" cy="431.86" r="1.60" fill="#F07377"/><circle cx="407.04" cy="432.98" r="1.60" fill="#F07377"/><circle cx="419.88" cy="435.79" r="1.60" fill="#F07377"/><circle cx="445.56" cy="463.33" r="1.60" fill="#F07377"/><circle cx="496.92" cy="467.83" r="1.60" fill="#F07377"/><text x="401.30" y="430.90" font-size="12.7" text-anchor="middle">*</text><text x="407.90" y="423.90" font-size="12.7" text-anchor="middle">*</text><text x="419.90" y="433.70" font-size="12.7" text-anchor="middle">***</text><text x="445.50" y="458.30" font-size="12.7" text-anchor="middle">*</text><text x="497.20" y="467.00" font-size="12.7" text-anchor="middle">***</text><line x1="548.60" y1="397.75" x2="548.60" y2="483.10" stroke="#111" stroke-width="1.2"/><line x1="548.00" y1="482.50" x2="674.80" y2="482.50" stroke="#111" stroke-width="1.2"/><line x1="544.30" y1="482.50" x2="548.60" y2="482.50" stroke="#111" stroke-width="1.2"/><text x="543.30" y="482.00" font-size="10.8" text-anchor="end" dominant-baseline="central">0</text><line x1="544.30" y1="454.45" x2="548.60" y2="454.45" stroke="#111" stroke-width="1.2"/><text x="543.30" y="453.95" font-size="10.8" text-anchor="end" dominant-baseline="central">0.5</text><line x1="544.30" y1="426.40" x2="548.60" y2="426.40" stroke="#111" stroke-width="1.2"/><text x="543.30" y="425.90" font-size="10.8" text-anchor="end" dominant-baseline="central">1</text><line x1="544.30" y1="398.35" x2="548.60" y2="398.35" stroke="#111" stroke-width="1.2"/><text x="543.30" y="397.15" font-size="10.8" text-anchor="end" dominant-baseline="central">1.5</text><line x1="548.60" y1="482.50" x2="548.60" y2="486.10" stroke="#111" stroke-width="1.3"/><text x="548.60" y="495.90" font-size="10.8" text-anchor="middle" dominant-baseline="central">0</text><line x1="573.84" y1="482.50" x2="573.84" y2="486.10" stroke="#111" stroke-width="1.3"/><text x="573.84" y="495.90" font-size="10.8" text-anchor="middle" dominant-baseline="central">2</text><line x1="599.08" y1="482.50" x2="599.08" y2="486.10" stroke="#111" stroke-width="1.3"/><text x="599.08" y="495.90" font-size="10.8" text-anchor="middle" dominant-baseline="central">4</text><line x1="624.32" y1="482.50" x2="624.32" y2="486.10" stroke="#111" stroke-width="1.3"/><text x="624.32" y="495.90" font-size="10.8" text-anchor="middle" dominant-baseline="central">6</text><line x1="649.56" y1="482.50" x2="649.56" y2="486.10" stroke="#111" stroke-width="1.3"/><text x="649.56" y="495.90" font-size="10.8" text-anchor="middle" dominant-baseline="central">8</text><line x1="674.80" y1="482.50" x2="674.80" y2="486.10" stroke="#111" stroke-width="1.3"/><text x="674.80" y="495.90" font-size="10.8" text-anchor="middle" dominant-baseline="central">10</text><text x="609.18" y="506.10" font-size="11.2" text-anchor="middle" dominant-baseline="central">Time</text><text x="611.70" y="518.50" font-size="11.2" text-anchor="middle" dominant-baseline="central" textLength="77" lengthAdjust="spacing">(h post ACT-D)</text><line x1="552.30" y1="384.80" x2="595.60" y2="384.80" stroke="#000" stroke-width="1.2"/><line x1="633.50" y1="384.80" x2="679.60" y2="384.80" stroke="#000" stroke-width="1.2"/><text x="615.40" y="384.80" font-size="11.2" text-anchor="middle" dominant-baseline="central">C666-1</text><path d="M546.80,407.33 H550.40 M548.60,407.33 V445.47 M546.80,445.47 H550.40" stroke="#F07377" stroke-width="0.8" fill="none" opacity="0.85"/><path d="M553.11,433.69 H556.71 M554.91,433.69 V437.06 M553.11,437.06 H556.71" stroke="#F07377" stroke-width="0.8" fill="none" opacity="0.85"/><path d="M559.42,430.89 H563.02 M561.22,430.89 V442.11 M559.42,442.11 H563.02" stroke="#F07377" stroke-width="0.8" fill="none" opacity="0.85"/><path d="M572.04,458.94 H575.64 M573.84,458.94 V460.06 M572.04,460.06 H575.64" stroke="#F07377" stroke-width="0.8" fill="none" opacity="0.85"/><path d="M597.28,472.40 H600.88 M599.08,472.40 V473.52 M597.28,473.52 H600.88" stroke="#F07377" stroke-width="0.8" fill="none" opacity="0.85"/><path d="M647.76,476.89 H651.36 M649.56,476.89 V478.01 M647.76,478.01 H651.36" stroke="#F07377" stroke-width="0.8" fill="none" opacity="0.85"/><path d="M546.80,423.03 H550.40 M548.60,423.03 V434.25 M546.80,434.25 H550.40" stroke="#5252F2" stroke-width="0.8" fill="none" opacity="0.85"/><path d="M553.11,442.67 H556.71 M554.91,442.67 V446.03 M553.11,446.03 H556.71" stroke="#5252F2" stroke-width="0.8" fill="none" opacity="0.85"/><path d="M559.42,459.50 H563.02 M561.22,459.50 V470.72 M559.42,470.72 H563.02" stroke="#5252F2" stroke-width="0.8" fill="none" opacity="0.85"/><path d="M572.04,480.82 H575.64 M573.84,480.82 V481.94 M572.04,481.94 H575.64" stroke="#5252F2" stroke-width="0.8" fill="none" opacity="0.85"/><path d="M597.28,480.82 H600.88 M599.08,480.82 V481.94 M597.28,481.94 H600.88" stroke="#5252F2" stroke-width="0.8" fill="none" opacity="0.85"/><path d="M647.76,480.82 H651.36 M649.56,480.82 V481.94 M647.76,481.94 H651.36" stroke="#5252F2" stroke-width="0.8" fill="none" opacity="0.85"/><path d="M548.60,428.64 L554.91,444.35 L561.22,465.11 L573.84,481.38 L599.08,481.38 L649.56,481.38" fill="none" stroke="#5252F2" stroke-width="0.8"/><path d="M548.60,426.40 L554.91,435.38 L561.22,436.50 L573.84,459.50 L599.08,472.96 L649.56,477.45" fill="none" stroke="#F07377" stroke-width="0.8"/><rect x="547.10" y="427.14" width="3.00" height="3.00" fill="#5252F2"/><rect x="553.41" y="442.85" width="3.00" height="3.00" fill="#5252F2"/><rect x="559.72" y="463.61" width="3.00" height="3.00" fill="#5252F2"/><rect x="572.34" y="479.88" width="3.00" height="3.00" fill="#5252F2"/><rect x="597.58" y="479.88" width="3.00" height="3.00" fill="#5252F2"/><rect x="648.06" y="479.88" width="3.00" height="3.00" fill="#5252F2"/><circle cx="548.60" cy="426.40" r="1.60" fill="#F07377"/><circle cx="554.91" cy="435.38" r="1.60" fill="#F07377"/><circle cx="561.22" cy="436.50" r="1.60" fill="#F07377"/><circle cx="573.84" cy="459.50" r="1.60" fill="#F07377"/><circle cx="599.08" cy="472.96" r="1.60" fill="#F07377"/><circle cx="649.56" cy="477.45" r="1.60" fill="#F07377"/><text x="557.40" y="433.10" font-size="12.7" text-anchor="middle">**</text><text x="564.00" y="425.40" font-size="12.7" text-anchor="middle">**</text><text x="579.70" y="455.40" font-size="12.7" text-anchor="middle">****</text><text x="602.70" y="471.00" font-size="12.7" text-anchor="middle">****</text><text x="650.50" y="478.40" font-size="12.7" text-anchor="middle">**</text><text x="201.60" y="441.70" font-size="11.3" text-anchor="middle" dominant-baseline="central" transform="rotate(-90 201.60 441.70)">Relative</text><text x="215.70" y="445.60" font-size="11.3" text-anchor="middle" dominant-baseline="central" transform="rotate(-90 215.70 445.60)">mRNA expression</text><circle cx="535.70" cy="376.40" r="2.00" fill="#F07377"/><text x="541.20" y="376.40" font-size="11.4" dominant-baseline="central">NC</text><rect x="563.40" y="374.80" width="3.20" height="3.20" fill="#5252F2"/><text x="568.90" y="376.40" font-size="11.4" dominant-baseline="central">shLINC-AC092535.5</text><line x1="60.10" y1="571.80" x2="60.10" y2="685.40" stroke="#111" stroke-width="1.5"/><line x1="59.50" y1="684.80" x2="172.30" y2="684.80" stroke="#111" stroke-width="1.5"/><line x1="55.50" y1="684.80" x2="60.10" y2="684.80" stroke="#111" stroke-width="1.3"/><text x="52.60" y="684.80" font-size="10.8" text-anchor="end" dominant-baseline="central">0</text><line x1="55.50" y1="662.32" x2="60.10" y2="662.32" stroke="#111" stroke-width="1.3"/><text x="52.60" y="662.32" font-size="10.8" text-anchor="end" dominant-baseline="central">1</text><line x1="55.50" y1="639.84" x2="60.10" y2="639.84" stroke="#111" stroke-width="1.3"/><text x="52.60" y="639.84" font-size="10.8" text-anchor="end" dominant-baseline="central">2</text><line x1="55.50" y1="617.36" x2="60.10" y2="617.36" stroke="#111" stroke-width="1.3"/><text x="52.60" y="617.36" font-size="10.8" text-anchor="end" dominant-baseline="central">3</text><line x1="55.50" y1="594.88" x2="60.10" y2="594.88" stroke="#111" stroke-width="1.3"/><text x="52.60" y="594.88" font-size="10.8" text-anchor="end" dominant-baseline="central">4</text><line x1="55.50" y1="572.40" x2="60.10" y2="572.40" stroke="#111" stroke-width="1.3"/><text x="52.60" y="572.40" font-size="10.8" text-anchor="end" dominant-baseline="central">5</text><line x1="76.90" y1="684.80" x2="76.90" y2="689.00" stroke="#111" stroke-width="1.3"/><line x1="115.00" y1="684.80" x2="115.00" y2="689.00" stroke="#111" stroke-width="1.3"/><line x1="153.40" y1="684.80" x2="153.40" y2="689.00" stroke="#111" stroke-width="1.3"/><text x="77.30" y="698.40" font-size="11.2" text-anchor="middle" dominant-baseline="central">CNE1</text><text x="115.60" y="698.40" font-size="11.3" text-anchor="middle" dominant-baseline="central">CNE2</text><text x="156.50" y="698.40" font-size="11.3" text-anchor="middle" dominant-baseline="central">C666-1</text><circle cx="62.30" cy="554.20" r="2.00" fill="#F07377"/><text x="65.20" y="554.30" font-size="11.4" dominant-baseline="central">Antisense</text><rect x="126.00" y="553.20" width="3.20" height="3.20" fill="#5252F2"/><text x="133.40" y="554.30" font-size="11.4" dominant-baseline="central">Sense</text><text x="18.30" y="634.30" font-size="11.45" text-anchor="middle" dominant-baseline="central" transform="rotate(-90 18.30 634.30)">Relative MICAL2</text><text x="33.00" y="634.70" font-size="11.4" text-anchor="middle" dominant-baseline="central" transform="rotate(-90 33.00 634.70)">mRNA expression</text><rect x="64.80" y="663.22" width="9.10" height="21.58" fill="#fff" stroke="#F07377" stroke-width="1.1"/><path d="M66.70,655.58 H71.90 M69.30,655.58 V670.19 M66.70,670.19 H71.90" stroke="#F07377" stroke-width="0.9" fill="none" opacity="0.75"/><circle cx="68.60" cy="655.50" r="2.10" fill="#F07377"/><circle cx="69.30" cy="669.60" r="2.10" fill="#F07377"/><rect x="79.70" y="618.26" width="8.80" height="66.54" fill="#fff" stroke="#5252F2" stroke-width="1.1"/><path d="M81.50,605.30 H86.70 M84.10,605.30 V633.00 M81.50,633.00 H86.70" stroke="#5252F2" stroke-width="0.9" fill="none" opacity="0.75"/><rect x="78.90" y="608.00" width="4.00" height="4.00" fill="#5252F2"/><rect x="84.20" y="609.50" width="4.00" height="4.00" fill="#5252F2"/><rect x="82.10" y="631.00" width="4.00" height="4.00" fill="#5252F2"/><rect x="103.60" y="662.99" width="8.80" height="21.81" fill="#fff" stroke="#F07377" stroke-width="1.1"/><path d="M105.40,643.21 H110.60 M108.00,643.21 V682.55 M105.40,682.55 H110.60" stroke="#F07377" stroke-width="0.9" fill="none" opacity="0.75"/><circle cx="108.00" cy="641.00" r="2.10" fill="#F07377"/><circle cx="108.00" cy="670.00" r="2.10" fill="#F07377"/><circle cx="108.00" cy="675.40" r="2.10" fill="#F07377"/><rect x="118.20" y="603.87" width="9.40" height="80.93" fill="#fff" stroke="#5252F2" stroke-width="1.1"/><path d="M120.30,582.52 H125.50 M122.90,582.52 V624.10 M120.30,624.10 H125.50" stroke="#5252F2" stroke-width="0.9" fill="none" opacity="0.75"/><rect x="121.50" y="580.00" width="4.00" height="4.00" fill="#5252F2"/><rect x="120.60" y="607.40" width="4.00" height="4.00" fill="#5252F2"/><rect x="120.60" y="618.50" width="4.00" height="4.00" fill="#5252F2"/><rect x="142.20" y="661.20" width="9.60" height="23.60" fill="#fff" stroke="#F07377" stroke-width="1.1"/><path d="M144.40,648.83 H149.60 M147.00,648.83 V672.44 M144.40,672.44 H149.60" stroke="#F07377" stroke-width="0.9" fill="none" opacity="0.75"/><circle cx="147.40" cy="648.20" r="2.10" fill="#F07377"/><path d="M147.4,668.6 L149.9,672.8 L144.9,672.8 Z" fill="#F07377" stroke="none" stroke-width="0"/><rect x="157.10" y="625.90" width="9.30" height="58.90" fill="#fff" stroke="#5252F2" stroke-width="1.1"/><path d="M159.10,613.99 H164.30 M161.70,613.99 V637.59 M159.10,637.59 H164.30" stroke="#5252F2" stroke-width="0.9" fill="none" opacity="0.75"/><rect x="160.00" y="611.80" width="4.00" height="4.00" fill="#5252F2"/><rect x="159.50" y="624.40" width="4.00" height="4.00" fill="#5252F2"/><rect x="159.50" y="632.50" width="4.00" height="4.00" fill="#5252F2"/><path d="M67.50,595.00 V601.40 M67.50,598.20 H83.60 M83.60,595.00 V601.40" fill="none" stroke="#111" stroke-width="1.3"/><text x="76.35" y="600.80" font-size="12.7" text-anchor="middle">**</text><path d="M107.70,570.90 V577.30 M107.70,574.10 H123.40 M123.40,570.90 V577.30" fill="none" stroke="#111" stroke-width="1.3"/><text x="116.35" y="576.30" font-size="12.7" text-anchor="middle">*</text><path d="M146.70,603.70 V610.10 M146.70,606.90 H162.30 M162.30,603.70 V610.10" fill="none" stroke="#111" stroke-width="1.3"/><text x="155.30" y="610.00" font-size="12.7" text-anchor="middle">*</text><line x1="233.10" y1="571.00" x2="233.10" y2="683.40" stroke="#111" stroke-width="1.5"/><line x1="232.50" y1="682.80" x2="345.40" y2="682.80" stroke="#111" stroke-width="1.5"/><line x1="228.60" y1="682.80" x2="233.10" y2="682.80" stroke="#111" stroke-width="1.3"/><text x="226.20" y="682.80" font-size="10.8" text-anchor="end" dominant-baseline="central">0</text><line x1="228.60" y1="655.00" x2="233.10" y2="655.00" stroke="#111" stroke-width="1.3"/><text x="226.20" y="655.00" font-size="10.8" text-anchor="end" dominant-baseline="central">1</text><line x1="228.60" y1="627.20" x2="233.10" y2="627.20" stroke="#111" stroke-width="1.3"/><text x="226.20" y="627.20" font-size="10.8" text-anchor="end" dominant-baseline="central">2</text><line x1="228.60" y1="599.40" x2="233.10" y2="599.40" stroke="#111" stroke-width="1.3"/><text x="226.20" y="599.40" font-size="10.8" text-anchor="end" dominant-baseline="central">3</text><line x1="228.60" y1="571.60" x2="233.10" y2="571.60" stroke="#111" stroke-width="1.3"/><text x="226.20" y="571.60" font-size="10.8" text-anchor="end" dominant-baseline="central">4</text><line x1="259.90" y1="682.80" x2="259.90" y2="686.60" stroke="#111" stroke-width="1.3"/><line x1="319.50" y1="682.80" x2="319.50" y2="686.60" stroke="#111" stroke-width="1.3"/><text x="220.50" y="695.00" font-size="11.3" dominant-baseline="central">pGL3-basic</text><text x="220.50" y="708.30" font-size="11.3" dominant-baseline="central">+PRL-TK</text><text x="283.60" y="695.00" font-size="11.3" dominant-baseline="central">pGL3-MICAL2</text><text x="283.60" y="708.30" font-size="11.3" dominant-baseline="central">promoter+PRL-TK</text><line x1="235.90" y1="538.00" x2="279.30" y2="538.00" stroke="#000" stroke-width="1.2"/><text x="297.80" y="538.00" font-size="11.2" text-anchor="middle" dominant-baseline="central">CNE2</text><line x1="312.50" y1="538.00" x2="358.20" y2="538.00" stroke="#000" stroke-width="1.2"/><circle cx="188.80" cy="556.20" r="2.00" fill="#F07377"/><text x="194.00" y="556.20" font-size="11.3" dominant-baseline="central">pcDNA3.1</text><rect x="248.10" y="554.60" width="3.20" height="3.20" fill="#5252F2"/><text x="252.40" y="556.20" font-size="11.4" dominant-baseline="central" textLength="106.4" lengthAdjust="spacingAndGlyphs">oeLINC-AC092535.5</text><text x="182.30" y="631.80" font-size="11.3" text-anchor="middle" dominant-baseline="central" transform="rotate(-90 182.30 631.80)">Relative</text><text x="196.40" y="632.10" font-size="11.3" text-anchor="middle" dominant-baseline="central" transform="rotate(-90 196.40 632.10)">Luciferase Activity</text><text x="209.70" y="630.70" font-size="11.3" text-anchor="middle" dominant-baseline="central" transform="rotate(-90 209.70 630.70)">( Luc/Rluc )</text><rect x="241.50" y="655.56" width="14.20" height="27.24" fill="#fff" stroke="#F07377" stroke-width="1.1"/><path d="M245.80,643.88 H251.40 M248.60,643.88 V666.12 M245.80,666.12 H251.40" stroke="#F07377" stroke-width="0.9" fill="none" opacity="0.75"/><circle cx="248.40" cy="642.40" r="2.10" fill="#F07377"/><circle cx="244.20" cy="661.00" r="2.10" fill="#F07377"/><circle cx="252.30" cy="661.70" r="2.10" fill="#F07377"/><rect x="263.60" y="674.46" width="14.40" height="8.34" fill="#fff" stroke="#5252F2" stroke-width="1.1"/><path d="M268.00,672.79 H273.60 M270.80,672.79 V676.13 M268.00,676.13 H273.60" stroke="#5252F2" stroke-width="0.9" fill="none" opacity="0.75"/><rect x="265.00" y="670.30" width="4.00" height="4.00" fill="#5252F2"/><rect x="269.50" y="671.00" width="4.00" height="4.00" fill="#5252F2"/><rect x="274.00" y="672.00" width="4.00" height="4.00" fill="#5252F2"/><rect x="300.60" y="655.56" width="14.50" height="27.24" fill="#fff" stroke="#F07377" stroke-width="1.1"/><path d="M305.10,652.78 H310.70 M307.90,652.78 V658.34 M305.10,658.34 H310.70" stroke="#F07377" stroke-width="0.9" fill="none" opacity="0.75"/><circle cx="308.50" cy="652.70" r="2.10" fill="#F07377"/><circle cx="304.60" cy="655.90" r="2.10" fill="#F07377"/><circle cx="312.60" cy="657.50" r="2.10" fill="#F07377"/><rect x="323.00" y="597.18" width="14.20" height="85.62" fill="#fff" stroke="#5252F2" stroke-width="1.1"/><path d="M327.30,593.84 H332.90 M330.10,593.84 V600.79 M327.30,600.79 H332.90" stroke="#5252F2" stroke-width="0.9" fill="none" opacity="0.75"/><circle cx="329.30" cy="593.60" r="2.10" fill="#5252F2"/><circle cx="327.10" cy="596.80" r="2.10" fill="#5252F2"/><circle cx="334.80" cy="599.00" r="2.10" fill="#5252F2"/><path d="M273.30,582.40 V588.80 M273.30,585.60 H329.30 M329.30,582.40 V588.80" fill="none" stroke="#111" stroke-width="1.3"/><text x="302.10" y="589.09" font-size="12.5" text-anchor="middle">****</text><line x1="426.30" y1="578.90" x2="426.30" y2="682.10" stroke="#111" stroke-width="1.5"/><line x1="425.70" y1="681.50" x2="529.30" y2="681.50" stroke="#111" stroke-width="1.5"/><line x1="421.90" y1="681.50" x2="426.30" y2="681.50" stroke="#111" stroke-width="1.3"/><text x="420.70" y="681.50" font-size="10.8" text-anchor="end" dominant-baseline="central">0.0</text><line x1="421.90" y1="647.50" x2="426.30" y2="647.50" stroke="#111" stroke-width="1.3"/><text x="420.70" y="647.50" font-size="10.8" text-anchor="end" dominant-baseline="central">0.5</text><line x1="421.90" y1="613.50" x2="426.30" y2="613.50" stroke="#111" stroke-width="1.3"/><text x="420.70" y="613.50" font-size="10.8" text-anchor="end" dominant-baseline="central">1.0</text><line x1="421.90" y1="579.50" x2="426.30" y2="579.50" stroke="#111" stroke-width="1.3"/><text x="420.70" y="579.50" font-size="10.8" text-anchor="end" dominant-baseline="central">1.5</text><rect x="437.60" y="613.50" width="19.00" height="68.00" fill="#fff" stroke="#111" stroke-width="1.3"/><rect x="437.60" y="613.50" width="19.00" height="68.00" fill="#A0A0A0" stroke="#111" stroke-width="1.3"/><line x1="447.10" y1="681.50" x2="447.10" y2="685.40" stroke="#111" stroke-width="1.3"/><rect x="468.00" y="613.50" width="19.30" height="68.00" fill="#fff" stroke="#111" stroke-width="1.3"/><rect x="468.00" y="671.30" width="19.30" height="10.20" fill="#A0A0A0" stroke="#111" stroke-width="1.3"/><line x1="477.65" y1="681.50" x2="477.65" y2="685.40" stroke="#111" stroke-width="1.3"/><rect x="498.90" y="613.50" width="19.50" height="68.00" fill="#fff" stroke="#111" stroke-width="1.3"/><rect x="498.90" y="633.56" width="19.50" height="47.94" fill="#A0A0A0" stroke="#111" stroke-width="1.3"/><line x1="508.65" y1="681.50" x2="508.65" y2="685.40" stroke="#111" stroke-width="1.3"/><text x="443.50" y="695.20" font-size="11.3" text-anchor="middle" dominant-baseline="central">LINC-</text><text x="447.20" y="708.80" font-size="11.3" text-anchor="middle" dominant-baseline="central">AC092535.5</text><text x="480.95" y="695.20" font-size="11.3" text-anchor="middle" dominant-baseline="central">β-actin</text><text x="510.65" y="695.20" font-size="11.3" text-anchor="middle" dominant-baseline="central">U6</text><line x1="425.50" y1="538.60" x2="457.70" y2="538.60" stroke="#000" stroke-width="1.2"/><line x1="493.90" y1="538.60" x2="525.60" y2="538.60" stroke="#000" stroke-width="1.2"/><text x="475.80" y="538.60" font-size="11.2" text-anchor="middle" dominant-baseline="central">CNE1</text><text x="393.60" y="671.50" font-size="11.3" dominant-baseline="central" transform="rotate(-90 393.60 671.50)">Percentage</text><text x="393.60" y="605.70" font-size="11.3" dominant-baseline="central" transform="rotate(-90 393.60 605.70)" textLength="19.4" lengthAdjust="spacing">(%)</text><line x1="579.70" y1="578.90" x2="579.70" y2="682.10" stroke="#111" stroke-width="1.5"/><line x1="579.10" y1="681.50" x2="682.70" y2="681.50" stroke="#111" stroke-width="1.5"/><line x1="575.30" y1="681.50" x2="579.70" y2="681.50" stroke="#111" stroke-width="1.3"/><text x="575.10" y="681.50" font-size="10.8" text-anchor="end" dominant-baseline="central">0.0</text><line x1="575.30" y1="647.50" x2="579.70" y2="647.50" stroke="#111" stroke-width="1.3"/><text x="575.10" y="647.50" font-size="10.8" text-anchor="end" dominant-baseline="central">0.5</text><line x1="575.30" y1="613.50" x2="579.70" y2="613.50" stroke="#111" stroke-width="1.3"/><text x="575.10" y="613.50" font-size="10.8" text-anchor="end" dominant-baseline="central">1.0</text><line x1="575.30" y1="579.50" x2="579.70" y2="579.50" stroke="#111" stroke-width="1.3"/><text x="575.10" y="579.50" font-size="10.8" text-anchor="end" dominant-baseline="central">1.5</text><rect x="590.60" y="613.50" width="20.00" height="68.00" fill="#fff" stroke="#111" stroke-width="1.3"/><rect x="590.60" y="613.50" width="20.00" height="68.00" fill="#A0A0A0" stroke="#111" stroke-width="1.3"/><line x1="600.60" y1="681.50" x2="600.60" y2="685.40" stroke="#111" stroke-width="1.3"/><rect x="621.80" y="613.50" width="20.00" height="68.00" fill="#fff" stroke="#111" stroke-width="1.3"/><rect x="621.80" y="670.62" width="20.00" height="10.88" fill="#A0A0A0" stroke="#111" stroke-width="1.3"/><line x1="631.80" y1="681.50" x2="631.80" y2="685.40" stroke="#111" stroke-width="1.3"/><rect x="652.50" y="613.50" width="20.00" height="68.00" fill="#fff" stroke="#111" stroke-width="1.3"/><rect x="652.50" y="636.96" width="20.00" height="44.54" fill="#A0A0A0" stroke="#111" stroke-width="1.3"/><line x1="662.50" y1="681.50" x2="662.50" y2="685.40" stroke="#111" stroke-width="1.3"/><text x="597.00" y="695.20" font-size="11.3" text-anchor="middle" dominant-baseline="central">LINC-</text><text x="600.70" y="708.80" font-size="11.3" text-anchor="middle" dominant-baseline="central">AC092535.5</text><text x="635.10" y="695.20" font-size="11.3" text-anchor="middle" dominant-baseline="central">β-actin</text><text x="664.50" y="695.20" font-size="11.3" text-anchor="middle" dominant-baseline="central">U6</text><line x1="579.50" y1="538.20" x2="611.50" y2="538.20" stroke="#000" stroke-width="1.2"/><line x1="646.20" y1="538.20" x2="681.90" y2="538.20" stroke="#000" stroke-width="1.2"/><text x="628.40" y="538.20" font-size="11.2" text-anchor="middle" dominant-baseline="central">CNE2</text><text x="547.60" y="671.50" font-size="11.3" dominant-baseline="central" transform="rotate(-90 547.60 671.50)">Percentage</text><text x="547.60" y="605.70" font-size="11.3" dominant-baseline="central" transform="rotate(-90 547.60 605.70)" textLength="19.4" lengthAdjust="spacing">(%)</text><rect x="539.30" y="552.00" width="16.00" height="7.20" fill="#fff" stroke="#111" stroke-width="1.4"/><text x="559.40" y="555.40" font-size="11.3" dominant-baseline="central">cytoplasm</text><rect x="624.20" y="552.00" width="16.00" height="7.20" fill="#8E8E90" stroke="#111" stroke-width="1.4"/><text x="644.00" y="555.40" font-size="11.3" dominant-baseline="central">nucleus</text><defs><radialGradient id="gG"><stop offset="0" stop-color="#2E8C2A"/><stop offset="0.5" stop-color="#1F661C"/><stop offset="0.8" stop-color="#103C10"/><stop offset="1" stop-color="#061806" stop-opacity="0"/></radialGradient><radialGradient id="gG2"><stop offset="0" stop-color="#60E050"/><stop offset="0.5" stop-color="#34A02C"/><stop offset="0.8" stop-color="#165014"/><stop offset="1" stop-color="#061806" stop-opacity="0"/></radialGradient><radialGradient id="gGd"><stop offset="0" stop-color="#24621E"/><stop offset="0.6" stop-color="#153E12"/><stop offset="1" stop-color="#061806" stop-opacity="0"/></radialGradient><radialGradient id="gB"><stop offset="0" stop-color="#2626D0"/><stop offset="0.55" stop-color="#1A1AA8"/><stop offset="0.8" stop-color="#0C0C58"/><stop offset="1" stop-color="#05051A" stop-opacity="0"/></radialGradient><radialGradient id="gM"><stop offset="0" stop-color="#3E8494"/><stop offset="0.5" stop-color="#2A5E7C"/><stop offset="0.8" stop-color="#143048"/><stop offset="1" stop-color="#081018" stop-opacity="0"/></radialGradient><radialGradient id="gM2"><stop offset="0" stop-color="#80E080"/><stop offset="0.5" stop-color="#40A070"/><stop offset="0.8" stop-color="#1C5040"/><stop offset="1" stop-color="#081018" stop-opacity="0"/></radialGradient></defs><rect x="27.30" y="741.50" width="74.80" height="24.60" fill="#fff" stroke="#222" stroke-width="1.0"/><rect x="105.70" y="741.50" width="74.00" height="24.60" fill="#fff" stroke="#222" stroke-width="1.0"/><rect x="183.80" y="741.50" width="74.70" height="24.60" fill="#fff" stroke="#222" stroke-width="1.0"/><text x="62.60" y="748.00" font-size="11.2" text-anchor="middle" dominant-baseline="central">LINC-AC</text><text x="63.60" y="761.00" font-size="11.2" text-anchor="middle" dominant-baseline="central">092535.5</text><text x="142.70" y="754.20" font-size="11.2" text-anchor="middle" dominant-baseline="central">DAPI</text><text x="221.10" y="754.20" font-size="11.2" text-anchor="middle" dominant-baseline="central">Merge</text><rect x="12.20" y="768.50" width="13.60" height="56.80" fill="#9a9a9a"/><rect x="12.70" y="769.00" width="11.60" height="55.80" fill="#fff" stroke="#222" stroke-width="1.0"/><text x="18.60" y="796.90" font-size="11.2" text-anchor="middle" dominant-baseline="central" transform="rotate(-90 18.60 796.90)">CNE1</text><rect x="12.20" y="828.10" width="13.60" height="57.10" fill="#9a9a9a"/><rect x="12.70" y="828.60" width="11.60" height="56.10" fill="#fff" stroke="#222" stroke-width="1.0"/><text x="18.60" y="856.65" font-size="11.2" text-anchor="middle" dominant-baseline="central" transform="rotate(-90 18.60 856.65)">CNE2</text><rect x="26.80" y="768.50" width="75.50" height="56.80" fill="#020402"/><g><circle cx="81.10" cy="771.30" r="3.06" fill="url(#gG)" opacity="1.0"/><circle cx="80.40" cy="777.30" r="3.26" fill="url(#gG)" opacity="1.0"/><circle cx="73.40" cy="781.80" r="3.57" fill="url(#gG)" opacity="1.0"/><circle cx="40.80" cy="792.30" r="3.47" fill="url(#gG)" opacity="1.0"/><circle cx="48.90" cy="790.60" r="3.47" fill="url(#gG)" opacity="1.0"/><circle cx="39.10" cy="798.30" r="3.26" fill="url(#gG)" opacity="1.0"/><circle cx="33.80" cy="800.70" r="3.47" fill="url(#gG)" opacity="1.0"/><circle cx="52.40" cy="800.00" r="3.67" fill="url(#gG2)" opacity="1.0"/><circle cx="59.00" cy="799.00" r="3.47" fill="url(#gG)" opacity="1.0"/><circle cx="71.30" cy="793.00" r="3.47" fill="url(#gG)" opacity="1.0"/><circle cx="91.60" cy="793.70" r="2.86" fill="url(#gGd)" opacity="0.75"/><circle cx="39.10" cy="817.50" r="3.67" fill="url(#gG)" opacity="1.0"/><circle cx="57.30" cy="814.00" r="3.47" fill="url(#gG)" opacity="1.0"/><circle cx="62.90" cy="815.10" r="3.47" fill="url(#gG)" opacity="1.0"/><circle cx="68.80" cy="821.80" r="3.26" fill="url(#gG)" opacity="1.0"/><circle cx="82.80" cy="807.00" r="2.65" fill="url(#gGd)" opacity="0.75"/><circle cx="80.80" cy="802.50" r="2.45" fill="url(#gGd)" opacity="0.75"/></g><rect x="105.40" y="768.50" width="74.90" height="56.80" fill="#020402"/><g><circle cx="159.70" cy="771.30" r="2.55" fill="url(#gB)" opacity="1.0"/><circle cx="159.00" cy="777.30" r="2.72" fill="url(#gB)" opacity="1.0"/><circle cx="152.00" cy="781.80" r="2.98" fill="url(#gB)" opacity="1.0"/><circle cx="119.40" cy="792.30" r="2.89" fill="url(#gB)" opacity="1.0"/><circle cx="127.50" cy="790.60" r="2.89" fill="url(#gB)" opacity="1.0"/><circle cx="117.70" cy="798.30" r="2.72" fill="url(#gB)" opacity="1.0"/><circle cx="112.40" cy="800.70" r="2.89" fill="url(#gB)" opacity="1.0"/><circle cx="131.00" cy="800.00" r="3.06" fill="url(#gB)" opacity="1.0"/><circle cx="137.60" cy="799.00" r="2.89" fill="url(#gB)" opacity="1.0"/><circle cx="149.90" cy="793.00" r="2.89" fill="url(#gB)" opacity="1.0"/><circle cx="170.20" cy="793.70" r="2.38" fill="url(#gB)" opacity="0.75"/><circle cx="117.70" cy="817.50" r="3.06" fill="url(#gB)" opacity="1.0"/><circle cx="135.90" cy="814.00" r="2.89" fill="url(#gB)" opacity="1.0"/><circle cx="141.50" cy="815.10" r="2.89" fill="url(#gB)" opacity="1.0"/><circle cx="147.40" cy="821.80" r="2.72" fill="url(#gB)" opacity="1.0"/><circle cx="161.40" cy="807.00" r="2.21" fill="url(#gB)" opacity="0.75"/><circle cx="159.40" cy="802.50" r="2.04" fill="url(#gB)" opacity="0.75"/></g><rect x="183.40" y="768.50" width="75.60" height="56.80" fill="#020402"/><g><circle cx="237.70" cy="771.30" r="3.30" fill="url(#gG)" opacity="0.85"/><circle cx="237.70" cy="771.30" r="2.55" fill="url(#gB)" opacity="0.70"/><circle cx="237.00" cy="777.30" r="3.52" fill="url(#gG)" opacity="0.85"/><circle cx="237.00" cy="777.30" r="2.72" fill="url(#gB)" opacity="0.70"/><circle cx="230.00" cy="781.80" r="3.85" fill="url(#gG)" opacity="0.85"/><circle cx="230.00" cy="781.80" r="2.98" fill="url(#gB)" opacity="0.70"/><circle cx="197.40" cy="792.30" r="3.74" fill="url(#gG)" opacity="0.85"/><circle cx="197.40" cy="792.30" r="2.89" fill="url(#gB)" opacity="0.70"/><circle cx="205.50" cy="790.60" r="3.74" fill="url(#gG)" opacity="0.85"/><circle cx="205.50" cy="790.60" r="2.89" fill="url(#gB)" opacity="0.70"/><circle cx="195.70" cy="798.30" r="3.52" fill="url(#gG)" opacity="0.85"/><circle cx="195.70" cy="798.30" r="2.72" fill="url(#gB)" opacity="0.70"/><circle cx="190.40" cy="800.70" r="3.74" fill="url(#gG)" opacity="0.85"/><circle cx="190.40" cy="800.70" r="2.89" fill="url(#gB)" opacity="0.70"/><circle cx="209.00" cy="800.00" r="3.96" fill="url(#gG2)" opacity="0.85"/><circle cx="209.00" cy="800.00" r="3.06" fill="url(#gB)" opacity="0.70"/><circle cx="215.60" cy="799.00" r="3.74" fill="url(#gG)" opacity="0.85"/><circle cx="215.60" cy="799.00" r="2.89" fill="url(#gB)" opacity="0.70"/><circle cx="227.90" cy="793.00" r="3.74" fill="url(#gG)" opacity="0.85"/><circle cx="227.90" cy="793.00" r="2.89" fill="url(#gB)" opacity="0.70"/><circle cx="248.20" cy="793.70" r="3.08" fill="url(#gGd)" opacity="0.64"/><circle cx="248.20" cy="793.70" r="2.38" fill="url(#gB)" opacity="0.52"/><circle cx="195.70" cy="817.50" r="3.96" fill="url(#gG)" opacity="0.85"/><circle cx="195.70" cy="817.50" r="3.06" fill="url(#gB)" opacity="0.70"/><circle cx="213.90" cy="814.00" r="3.74" fill="url(#gG)" opacity="0.85"/><circle cx="213.90" cy="814.00" r="2.89" fill="url(#gB)" opacity="0.70"/><circle cx="219.50" cy="815.10" r="3.74" fill="url(#gG)" opacity="0.85"/><circle cx="219.50" cy="815.10" r="2.89" fill="url(#gB)" opacity="0.70"/><circle cx="225.40" cy="821.80" r="3.52" fill="url(#gG)" opacity="0.85"/><circle cx="225.40" cy="821.80" r="2.72" fill="url(#gB)" opacity="0.70"/><circle cx="239.40" cy="807.00" r="2.86" fill="url(#gGd)" opacity="0.64"/><circle cx="239.40" cy="807.00" r="2.21" fill="url(#gB)" opacity="0.52"/><circle cx="237.40" cy="802.50" r="2.64" fill="url(#gGd)" opacity="0.64"/><circle cx="237.40" cy="802.50" r="2.04" fill="url(#gB)" opacity="0.52"/></g><rect x="26.80" y="828.10" width="75.50" height="57.10" fill="#020402"/><g><circle cx="74.10" cy="836.90" r="3.26" fill="url(#gG)" opacity="1.0"/><circle cx="88.10" cy="836.90" r="3.47" fill="url(#gG)" opacity="1.0"/><circle cx="74.10" cy="847.40" r="3.26" fill="url(#gG)" opacity="1.0"/><circle cx="41.90" cy="852.60" r="3.47" fill="url(#gG)" opacity="1.0"/><circle cx="45.40" cy="858.90" r="3.47" fill="url(#gG)" opacity="1.0"/><circle cx="48.90" cy="864.00" r="3.47" fill="url(#gG)" opacity="1.0"/><circle cx="52.40" cy="868.40" r="3.26" fill="url(#gG)" opacity="1.0"/><circle cx="61.80" cy="864.90" r="2.86" fill="url(#gG)" opacity="1.0"/><circle cx="69.90" cy="870.10" r="3.26" fill="url(#gG)" opacity="1.0"/><circle cx="30.30" cy="881.70" r="2.45" fill="url(#gGd)" opacity="0.75"/><circle cx="100.40" cy="856.10" r="2.45" fill="url(#gGd)" opacity="0.75"/></g><rect x="105.40" y="828.10" width="74.90" height="57.10" fill="#020402"/><g><circle cx="152.70" cy="836.90" r="2.72" fill="url(#gB)" opacity="1.0"/><circle cx="166.70" cy="836.90" r="2.89" fill="url(#gB)" opacity="1.0"/><circle cx="152.70" cy="847.40" r="2.72" fill="url(#gB)" opacity="1.0"/><circle cx="120.50" cy="852.60" r="2.89" fill="url(#gB)" opacity="1.0"/><circle cx="124.00" cy="858.90" r="2.89" fill="url(#gB)" opacity="1.0"/><circle cx="127.50" cy="864.00" r="2.89" fill="url(#gB)" opacity="1.0"/><circle cx="131.00" cy="868.40" r="2.72" fill="url(#gB)" opacity="1.0"/><circle cx="140.40" cy="864.90" r="2.38" fill="url(#gB)" opacity="1.0"/><circle cx="148.50" cy="870.10" r="2.72" fill="url(#gB)" opacity="1.0"/><circle cx="108.90" cy="881.70" r="2.04" fill="url(#gB)" opacity="0.75"/><circle cx="179.00" cy="856.10" r="2.04" fill="url(#gB)" opacity="0.75"/></g><rect x="183.40" y="828.10" width="75.60" height="57.10" fill="#020402"/><g><circle cx="230.70" cy="836.90" r="3.52" fill="url(#gG)" opacity="0.85"/><circle cx="230.70" cy="836.90" r="2.72" fill="url(#gB)" opacity="0.70"/><circle cx="244.70" cy="836.90" r="3.74" fill="url(#gG)" opacity="0.85"/><circle cx="244.70" cy="836.90" r="2.89" fill="url(#gB)" opacity="0.70"/><circle cx="230.70" cy="847.40" r="3.52" fill="url(#gG)" opacity="0.85"/><circle cx="230.70" cy="847.40" r="2.72" fill="url(#gB)" opacity="0.70"/><circle cx="198.50" cy="852.60" r="3.74" fill="url(#gG)" opacity="0.85"/><circle cx="198.50" cy="852.60" r="2.89" fill="url(#gB)" opacity="0.70"/><circle cx="202.00" cy="858.90" r="3.74" fill="url(#gG)" opacity="0.85"/><circle cx="202.00" cy="858.90" r="2.89" fill="url(#gB)" opacity="0.70"/><circle cx="205.50" cy="864.00" r="3.74" fill="url(#gG)" opacity="0.85"/><circle cx="205.50" cy="864.00" r="2.89" fill="url(#gB)" opacity="0.70"/><circle cx="209.00" cy="868.40" r="3.52" fill="url(#gG)" opacity="0.85"/><circle cx="209.00" cy="868.40" r="2.72" fill="url(#gB)" opacity="0.70"/><circle cx="218.40" cy="864.90" r="3.08" fill="url(#gG)" opacity="0.85"/><circle cx="218.40" cy="864.90" r="2.38" fill="url(#gB)" opacity="0.70"/><circle cx="226.50" cy="870.10" r="3.52" fill="url(#gG)" opacity="0.85"/><circle cx="226.50" cy="870.10" r="2.72" fill="url(#gB)" opacity="0.70"/><circle cx="186.90" cy="881.70" r="2.64" fill="url(#gGd)" opacity="0.64"/><circle cx="186.90" cy="881.70" r="2.04" fill="url(#gB)" opacity="0.52"/><circle cx="257.00" cy="856.10" r="2.64" fill="url(#gGd)" opacity="0.64"/><circle cx="257.00" cy="856.10" r="2.04" fill="url(#gB)" opacity="0.52"/></g><rect x="290.20" y="741.00" width="205.50" height="14.80" fill="#fff" stroke="#222" stroke-width="1.2"/><text x="293.70" y="748.50" font-size="11.2" dominant-baseline="central" textLength="199" lengthAdjust="spacingAndGlyphs">RACE  Sequence of LINC-AC092535.5</text><rect x="290.20" y="761.50" width="386.40" height="137.60" fill="#fff" stroke="#222" stroke-width="1.1"/><text x="292.30" y="769.70" font-size="8.6" font-weight="bold" dominant-baseline="central" textLength="366.2" lengthAdjust="spacingAndGlyphs">GGAGTCTACCAGCACGTTCCATCAATCATAGGCCCCAGGGGCTGCGGGGCTCTGGTCTTA</text><text x="292.30" y="780.10" font-size="8.6" font-weight="bold" dominant-baseline="central" textLength="369.0" lengthAdjust="spacingAndGlyphs">GACGCAGTTATCAGGGACGCACTCAGCCTCTTCTTCGAGCTCGGGGCAGGGGCTCCCGTT</text><text x="292.30" y="790.50" font-size="8.6" font-weight="bold" dominant-baseline="central" textLength="371.7" lengthAdjust="spacingAndGlyphs">GTTGGCGGGCTGGACCCGGACGTAGCGAGTCCTGCTCTTGGTCCCGAGCCTCCCACAGTG</text><text x="292.30" y="800.90" font-size="8.6" font-weight="bold" dominant-baseline="central" textLength="367.7" lengthAdjust="spacingAndGlyphs">GCCTCCGCACAGTCCCCAGGACGACCACAGGGAGACCTCGCAGTCCAGCGGCGTTTCTG</text><text x="292.30" y="811.30" font-size="8.6" font-weight="bold" dominant-baseline="central" textLength="370.8" lengthAdjust="spacingAndGlyphs">GAACTGGACCAAGCAAAGGGGAGACCGAGGTGAACGCTCGCGTGAAGAGGCGCTTCGTA</text><text x="292.30" y="821.70" font-size="8.6" font-weight="bold" dominant-baseline="central" textLength="371.2" lengthAdjust="spacingAndGlyphs">CAAACGGAAGCCACCTCCCACCAACGTGTGCATTCATCAGAGGCCACGCCCACCCTTCGG</text><text x="292.30" y="832.10" font-size="8.6" font-weight="bold" dominant-baseline="central" textLength="370.8" lengthAdjust="spacingAndGlyphs">GGGCACTTGCGTTTCTCCGCACAGTCGCAGAGTGAGCGGCAAGATGGGATGGCACCATAG</text><text x="292.30" y="842.50" font-size="8.6" font-weight="bold" dominant-baseline="central" textLength="370.3" lengthAdjust="spacingAndGlyphs">CAACCTCGGACACAACCTAGGGACTGGAGTTGCGCGTTTCTACGTAAGAGCCGGAGCTGC</text><text x="292.30" y="852.90" font-size="8.6" font-weight="bold" dominant-baseline="central" textLength="372.1" lengthAdjust="spacingAndGlyphs">CGCTCAAGTCCCTGTGGTGGTGGAACTCCCACATCGTGGCAGAGTAAGGGGCCCCTGGGA</text><text x="292.30" y="863.30" font-size="8.6" font-weight="bold" dominant-baseline="central" textLength="376.3" lengthAdjust="spacingAndGlyphs">ACCCCGTGGGAACCCCGGGAGAGGGCGGACACCCCTGCTGTAGAAAGCTGCTCTGCCCGA</text><text x="292.30" y="873.70" font-size="8.6" font-weight="bold" dominant-baseline="central" textLength="375.9" lengthAdjust="spacingAndGlyphs">GCCTGGACCCAGCTGCTACATTTACCCGAATAACAGACAGGGGCACCTGATTAGCTGTCTTG</text><text x="292.30" y="884.10" font-size="8.6" font-weight="bold" dominant-baseline="central" textLength="381.2" lengthAdjust="spacingAndGlyphs">CGGGACCTGGACCCCCCACAGGACTCAGACCTTTTCAGTATCGTTCTCGTTTCCCTGTGTCCC</text><text x="292.30" y="894.50" font-size="8.6" font-weight="bold" dominant-baseline="central">ATCTGGTTCATAATTTTCATAAATTTAAAAATCATC</text></svg></body></html>
